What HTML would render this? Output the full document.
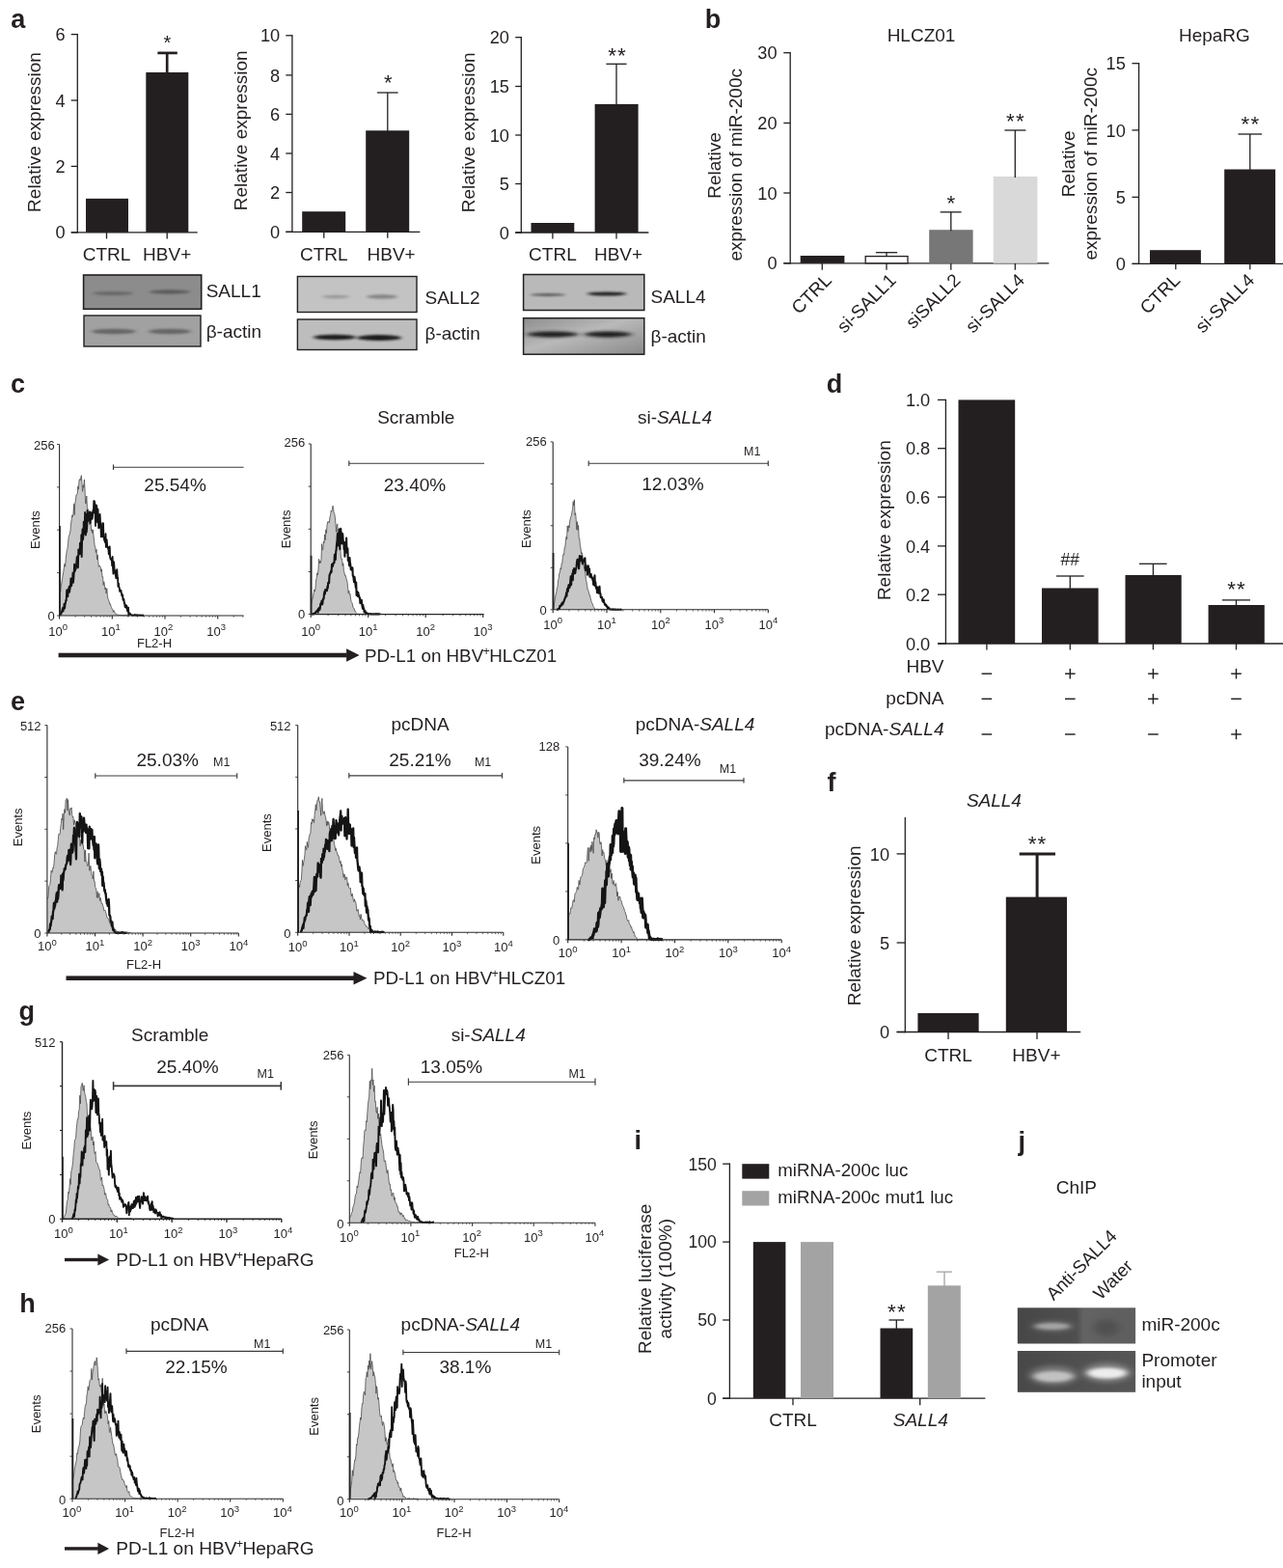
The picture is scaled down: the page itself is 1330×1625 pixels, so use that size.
<!DOCTYPE html>
<html lang="en">
<head>
<meta charset="utf-8">
<title>Figure</title>
<style>
html,body{margin:0;padding:0;background:#fff;}
svg{display:block;}
svg text{font-family:"Liberation Sans",sans-serif;fill:#231f20;}
</style>
</head>
<body>
<svg width="1330" height="1625" viewBox="0 0 1330 1625">
<rect x="0" y="0" width="1330" height="1625" fill="#ffffff"/>
<text x="11.3" y="28.6" font-size="27" font-weight="bold">a</text>
<line x1="80.3" y1="35.0" x2="80.3" y2="241.5" stroke="#231f20" stroke-width="1.3"/>
<line x1="73.7" y1="240.8" x2="204.7" y2="240.8" stroke="#231f20" stroke-width="1.3"/>
<line x1="73.7" y1="35.6" x2="80.3" y2="35.6" stroke="#231f20" stroke-width="1.3"/>
<text x="67.5" y="42.2" font-size="18.2" text-anchor="end">6</text>
<line x1="73.7" y1="104.0" x2="80.3" y2="104.0" stroke="#231f20" stroke-width="1.3"/>
<text x="67.5" y="110.6" font-size="18.2" text-anchor="end">4</text>
<line x1="73.7" y1="172.4" x2="80.3" y2="172.4" stroke="#231f20" stroke-width="1.3"/>
<text x="67.5" y="179.0" font-size="18.2" text-anchor="end">2</text>
<line x1="73.7" y1="240.8" x2="80.3" y2="240.8" stroke="#231f20" stroke-width="1.3"/>
<text x="67.5" y="247.4" font-size="18.2" text-anchor="end">0</text>
<line x1="110.5" y1="240.8" x2="110.5" y2="247.4" stroke="#231f20" stroke-width="1.3"/>
<line x1="173.2" y1="240.8" x2="173.2" y2="247.4" stroke="#231f20" stroke-width="1.3"/>
<rect x="89.0" y="205.8" width="44.0" height="35.0" fill="#231f20"/>
<rect x="151.3" y="75.0" width="44.0" height="165.8" fill="#231f20"/>
<line x1="173.2" y1="54.9" x2="173.2" y2="76.0" stroke="#231f20" stroke-width="2.7"/>
<line x1="163.4" y1="54.9" x2="183.8" y2="54.9" stroke="#231f20" stroke-width="2.7"/>
<text x="174.0" y="51.4" font-size="20" text-anchor="middle" letter-spacing="1.2">*</text>
<text x="110.5" y="269.7" font-size="19" text-anchor="middle">CTRL</text>
<text x="173.2" y="269.7" font-size="19" text-anchor="middle">HBV+</text>
<text x="42.0" y="137.0" font-size="19" text-anchor="middle" transform="rotate(-90 42.0 137.0)">Relative expression</text>
<line x1="302.9" y1="36.1" x2="302.9" y2="241.0" stroke="#231f20" stroke-width="1.3"/>
<line x1="296.3" y1="240.3" x2="435.3" y2="240.3" stroke="#231f20" stroke-width="1.3"/>
<line x1="296.3" y1="36.8" x2="302.9" y2="36.8" stroke="#231f20" stroke-width="1.3"/>
<text x="290.2" y="43.4" font-size="18.2" text-anchor="end">10</text>
<line x1="296.3" y1="77.9" x2="302.9" y2="77.9" stroke="#231f20" stroke-width="1.3"/>
<text x="290.2" y="84.5" font-size="18.2" text-anchor="end">8</text>
<line x1="296.3" y1="118.4" x2="302.9" y2="118.4" stroke="#231f20" stroke-width="1.3"/>
<text x="290.2" y="125.0" font-size="18.2" text-anchor="end">6</text>
<line x1="296.3" y1="159.0" x2="302.9" y2="159.0" stroke="#231f20" stroke-width="1.3"/>
<text x="290.2" y="165.6" font-size="18.2" text-anchor="end">4</text>
<line x1="296.3" y1="199.5" x2="302.9" y2="199.5" stroke="#231f20" stroke-width="1.3"/>
<text x="290.2" y="206.1" font-size="18.2" text-anchor="end">2</text>
<line x1="296.3" y1="240.3" x2="302.9" y2="240.3" stroke="#231f20" stroke-width="1.3"/>
<text x="290.2" y="246.9" font-size="18.2" text-anchor="end">0</text>
<line x1="335.8" y1="240.3" x2="335.8" y2="246.8" stroke="#231f20" stroke-width="1.3"/>
<line x1="401.8" y1="240.3" x2="401.8" y2="246.8" stroke="#231f20" stroke-width="1.3"/>
<rect x="313.2" y="219.2" width="45.0" height="21.1" fill="#231f20"/>
<rect x="379.2" y="135.3" width="45.0" height="105.0" fill="#231f20"/>
<line x1="401.8" y1="96.0" x2="401.8" y2="136.3" stroke="#231f20" stroke-width="1.3"/>
<line x1="391.0" y1="96.0" x2="412.6" y2="96.0" stroke="#231f20" stroke-width="1.3"/>
<text x="402.8" y="92.7" font-size="22" text-anchor="middle" letter-spacing="1.2">*</text>
<text x="335.8" y="269.7" font-size="19" text-anchor="middle">CTRL</text>
<text x="405.6" y="269.7" font-size="19" text-anchor="middle">HBV+</text>
<text x="255.9" y="135.3" font-size="19" text-anchor="middle" transform="rotate(-90 255.9 135.3)">Relative expression</text>
<line x1="540.3" y1="38.1" x2="540.3" y2="241.7" stroke="#231f20" stroke-width="1.3"/>
<line x1="534.2" y1="241.0" x2="672.4" y2="241.0" stroke="#231f20" stroke-width="1.3"/>
<line x1="534.2" y1="38.7" x2="540.3" y2="38.7" stroke="#231f20" stroke-width="1.3"/>
<text x="527.9" y="45.3" font-size="18.2" text-anchor="end">20</text>
<line x1="534.2" y1="89.5" x2="540.3" y2="89.5" stroke="#231f20" stroke-width="1.3"/>
<text x="527.9" y="96.1" font-size="18.2" text-anchor="end">15</text>
<line x1="534.2" y1="140.0" x2="540.3" y2="140.0" stroke="#231f20" stroke-width="1.3"/>
<text x="527.9" y="146.6" font-size="18.2" text-anchor="end">10</text>
<line x1="534.2" y1="190.5" x2="540.3" y2="190.5" stroke="#231f20" stroke-width="1.3"/>
<text x="527.9" y="197.1" font-size="18.2" text-anchor="end">5</text>
<line x1="534.2" y1="241.0" x2="540.3" y2="241.0" stroke="#231f20" stroke-width="1.3"/>
<text x="527.9" y="247.6" font-size="18.2" text-anchor="end">0</text>
<line x1="572.9" y1="241.0" x2="572.9" y2="247.4" stroke="#231f20" stroke-width="1.3"/>
<line x1="639.0" y1="241.0" x2="639.0" y2="247.4" stroke="#231f20" stroke-width="1.3"/>
<rect x="550.5" y="231.0" width="44.8" height="10.0" fill="#231f20"/>
<rect x="616.6" y="107.9" width="45.0" height="133.1" fill="#231f20"/>
<line x1="639.0" y1="66.3" x2="639.0" y2="108.9" stroke="#231f20" stroke-width="1.3"/>
<line x1="628.4" y1="66.3" x2="649.5" y2="66.3" stroke="#231f20" stroke-width="1.3"/>
<text x="640.1" y="65.3" font-size="22.5" text-anchor="middle" letter-spacing="1.2">**</text>
<text x="572.9" y="269.7" font-size="19" text-anchor="middle">CTRL</text>
<text x="641.0" y="269.7" font-size="19" text-anchor="middle">HBV+</text>
<text x="492.0" y="137.3" font-size="19" text-anchor="middle" transform="rotate(-90 492.0 137.3)">Relative expression</text>
<defs><filter id="b1" x="-20%" y="-200%" width="140%" height="500%"><feGaussianBlur stdDeviation="2.2 1.0"/></filter><filter id="b2" x="-20%" y="-200%" width="140%" height="500%"><feGaussianBlur stdDeviation="3 1.6"/></filter><filter id="b3" x="-20%" y="-200%" width="140%" height="500%"><feGaussianBlur stdDeviation="4 2.6"/></filter><linearGradient id="g36" x1="0" y1="0" x2="1" y2="1"><stop offset="0" stop-color="#8e8e8e"/><stop offset="0.45" stop-color="#b9b9b9"/><stop offset="1" stop-color="#8a8a8a"/></linearGradient><linearGradient id="gj1" x1="0" y1="0" x2="1" y2="0"><stop offset="0" stop-color="#474747"/><stop offset="0.5" stop-color="#4f4f4f"/><stop offset="0.56" stop-color="#636363"/><stop offset="1" stop-color="#5e5e5e"/></linearGradient><linearGradient id="gj2" x1="0" y1="0" x2="1" y2="0"><stop offset="0" stop-color="#484848"/><stop offset="0.5" stop-color="#505050"/><stop offset="1" stop-color="#565656"/></linearGradient></defs>
<rect x="86.6" y="285.0" width="122.1" height="35.3" fill="#8c8c8c" stroke="#231f20" stroke-width="1.6"/>
<ellipse cx="117.0" cy="304.0" rx="21.0" ry="2.0" fill="#686868" opacity="1.0" filter="url(#b1)"/>
<ellipse cx="176.0" cy="302.5" rx="21.0" ry="2.2" fill="#5c5c5c" opacity="1.0" filter="url(#b1)"/>
<rect x="87.0" y="327.0" width="121.0" height="32.0" fill="#a1a1a1" stroke="#231f20" stroke-width="1.4"/>
<ellipse cx="118.0" cy="343.5" rx="23.0" ry="2.8" fill="#666" opacity="1.0" filter="url(#b1)"/>
<ellipse cx="176.0" cy="343.5" rx="22.0" ry="2.8" fill="#666" opacity="1.0" filter="url(#b1)"/>
<text x="213.7" y="308.4" font-size="19">SALL1</text>
<text x="213.7" y="349.5" font-size="19">β-actin</text>
<rect x="308.4" y="286.5" width="123.6" height="37.0" fill="#c3c3c3" stroke="#231f20" stroke-width="1.4"/>
<ellipse cx="348.0" cy="307.5" rx="14.0" ry="1.8" fill="#999" opacity="1.0" filter="url(#b1)"/>
<ellipse cx="396.0" cy="307.5" rx="16.0" ry="2.2" fill="#858585" opacity="1.0" filter="url(#b1)"/>
<rect x="308.4" y="331.0" width="123.6" height="31.5" fill="#bdbdbd" stroke="#231f20" stroke-width="1.4"/>
<ellipse cx="347.0" cy="349.5" rx="22.0" ry="2.8" fill="#1a1a1a" opacity="1.0" filter="url(#b1)"/>
<ellipse cx="393.0" cy="350.0" rx="23.0" ry="3.0" fill="#1a1a1a" opacity="1.0" filter="url(#b1)"/>
<text x="440.5" y="315.0" font-size="19">SALL2</text>
<text x="440.5" y="352.0" font-size="19">β-actin</text>
<rect x="542.6" y="284.5" width="125.2" height="37.0" fill="#b9b9b9" stroke="#231f20" stroke-width="1.5"/>
<ellipse cx="568.0" cy="305.5" rx="18.0" ry="1.5" fill="#5a5a5a" opacity="1.0" filter="url(#b1)"/>
<ellipse cx="629.0" cy="304.5" rx="20.0" ry="2.0" fill="#222" opacity="1.0" filter="url(#b1)"/>
<rect x="542.6" y="329.7" width="125.2" height="37.5" fill="url(#g36)" stroke="#231f20" stroke-width="1.5"/>
<ellipse cx="573.0" cy="346.5" rx="27.0" ry="2.9" fill="#1c1c1c" opacity="1.0" filter="url(#b2)"/>
<ellipse cx="630.0" cy="346.5" rx="25.0" ry="2.9" fill="#1c1c1c" opacity="1.0" filter="url(#b2)"/>
<text x="674.5" y="314.0" font-size="19">SALL4</text>
<text x="674.5" y="354.7" font-size="19">β-actin</text>
<text x="730.7" y="28.8" font-size="27" font-weight="bold">b</text>
<text x="955.0" y="42.8" font-size="19" text-anchor="middle">HLCZ01</text>
<line x1="819.2" y1="54.1" x2="819.2" y2="273.4" stroke="#231f20" stroke-width="1.3"/>
<line x1="812.3" y1="272.8" x2="1087.4" y2="272.8" stroke="#231f20" stroke-width="1.3"/>
<line x1="812.3" y1="54.7" x2="819.2" y2="54.7" stroke="#231f20" stroke-width="1.3"/>
<text x="805.6" y="61.3" font-size="18.2" text-anchor="end">30</text>
<line x1="812.3" y1="127.5" x2="819.2" y2="127.5" stroke="#231f20" stroke-width="1.3"/>
<text x="805.6" y="134.1" font-size="18.2" text-anchor="end">20</text>
<line x1="812.3" y1="200.0" x2="819.2" y2="200.0" stroke="#231f20" stroke-width="1.3"/>
<text x="805.6" y="206.6" font-size="18.2" text-anchor="end">10</text>
<line x1="812.3" y1="272.8" x2="819.2" y2="272.8" stroke="#231f20" stroke-width="1.3"/>
<text x="805.6" y="279.4" font-size="18.2" text-anchor="end">0</text>
<line x1="852.3" y1="272.8" x2="852.3" y2="279.7" stroke="#231f20" stroke-width="1.3"/>
<line x1="919.0" y1="272.8" x2="919.0" y2="279.7" stroke="#231f20" stroke-width="1.3"/>
<line x1="985.8" y1="272.8" x2="985.8" y2="279.7" stroke="#231f20" stroke-width="1.3"/>
<line x1="1052.3" y1="272.8" x2="1052.3" y2="279.7" stroke="#231f20" stroke-width="1.3"/>
<rect x="829.7" y="265.0" width="45.7" height="7.8" fill="#231f20"/>
<rect x="897.2" y="265.6" width="43.8" height="7.2" fill="#fff" stroke="#231f20" stroke-width="1.3"/>
<line x1="919.0" y1="261.7" x2="919.0" y2="266.0" stroke="#231f20" stroke-width="1.3"/>
<line x1="907.9" y1="261.7" x2="930.2" y2="261.7" stroke="#231f20" stroke-width="1.3"/>
<rect x="963.2" y="238.2" width="45.4" height="34.6" fill="#777"/>
<line x1="985.8" y1="219.8" x2="985.8" y2="239.2" stroke="#231f20" stroke-width="1.3"/>
<line x1="974.7" y1="219.8" x2="996.6" y2="219.8" stroke="#231f20" stroke-width="1.3"/>
<rect x="1029.7" y="182.9" width="45.7" height="89.9" fill="#d9d9d9"/>
<line x1="1052.3" y1="135.0" x2="1052.3" y2="183.9" stroke="#231f20" stroke-width="1.3"/>
<line x1="1041.4" y1="135.0" x2="1063.4" y2="135.0" stroke="#231f20" stroke-width="1.3"/>
<text x="986.4" y="218.4" font-size="22.5" text-anchor="middle" letter-spacing="1.2">*</text>
<text x="1052.9" y="133.4" font-size="22.5" text-anchor="middle" letter-spacing="1.2">**</text>
<text x="746.7" y="171.4" font-size="19" text-anchor="middle" transform="rotate(-90 746.7 171.4)">Relative</text>
<text x="768.6" y="170.8" font-size="19" text-anchor="middle" transform="rotate(-90 768.6 170.8)">expression of miR-200c</text>
<text x="863.3" y="291.5" font-size="19" text-anchor="end" transform="rotate(-45 863.3 291.5)">CTRL</text>
<text x="930.0" y="291.5" font-size="19" text-anchor="end" transform="rotate(-45 930.0 291.5)">si-SALL1</text>
<text x="996.8" y="291.5" font-size="19" text-anchor="end" transform="rotate(-45 996.8 291.5)">siSALL2</text>
<text x="1063.3" y="291.5" font-size="19" text-anchor="end" transform="rotate(-45 1063.3 291.5)">si-SALL4</text>
<text x="1258.9" y="43.0" font-size="19" text-anchor="middle">HepaRG</text>
<line x1="1180.6" y1="65.0" x2="1180.6" y2="274.0" stroke="#231f20" stroke-width="1.3"/>
<line x1="1173.5" y1="273.4" x2="1330.0" y2="273.4" stroke="#231f20" stroke-width="1.3"/>
<line x1="1173.5" y1="65.7" x2="1180.6" y2="65.7" stroke="#231f20" stroke-width="1.3"/>
<text x="1166.8" y="72.3" font-size="18.2" text-anchor="end">15</text>
<line x1="1173.5" y1="134.9" x2="1180.6" y2="134.9" stroke="#231f20" stroke-width="1.3"/>
<text x="1166.8" y="141.5" font-size="18.2" text-anchor="end">10</text>
<line x1="1173.5" y1="204.3" x2="1180.6" y2="204.3" stroke="#231f20" stroke-width="1.3"/>
<text x="1166.8" y="210.9" font-size="18.2" text-anchor="end">5</text>
<line x1="1173.5" y1="273.4" x2="1180.6" y2="273.4" stroke="#231f20" stroke-width="1.3"/>
<text x="1166.8" y="280.0" font-size="18.2" text-anchor="end">0</text>
<line x1="1218.8" y1="273.4" x2="1218.8" y2="279.3" stroke="#231f20" stroke-width="1.3"/>
<line x1="1295.8" y1="273.4" x2="1295.8" y2="279.3" stroke="#231f20" stroke-width="1.3"/>
<rect x="1192.0" y="259.2" width="52.9" height="14.2" fill="#231f20"/>
<rect x="1269.2" y="175.5" width="52.9" height="97.9" fill="#231f20"/>
<line x1="1295.8" y1="139.0" x2="1295.8" y2="176.5" stroke="#231f20" stroke-width="1.3"/>
<line x1="1283.5" y1="139.0" x2="1308.1" y2="139.0" stroke="#231f20" stroke-width="1.3"/>
<text x="1296.4" y="136.4" font-size="22.5" text-anchor="middle" letter-spacing="1.2">**</text>
<text x="1113.8" y="169.8" font-size="19" text-anchor="middle" transform="rotate(-90 1113.8 169.8)">Relative</text>
<text x="1137.3" y="169.8" font-size="19" text-anchor="middle" transform="rotate(-90 1137.3 169.8)">expression of miR-200c</text>
<text x="1224.6" y="291.5" font-size="19" text-anchor="end" transform="rotate(-45 1224.6 291.5)">CTRL</text>
<text x="1301.6" y="291.5" font-size="19" text-anchor="end" transform="rotate(-45 1301.6 291.5)">si-SALL4</text>
<text x="856.8" y="406.8" font-size="27" font-weight="bold">d</text>
<line x1="980.4" y1="413.8" x2="980.4" y2="667.6" stroke="#231f20" stroke-width="1.3"/>
<line x1="972.0" y1="667.0" x2="1330.0" y2="667.0" stroke="#231f20" stroke-width="1.3"/>
<line x1="972.0" y1="414.4" x2="980.4" y2="414.4" stroke="#231f20" stroke-width="1.3"/>
<text x="964.2" y="421.0" font-size="18.2" text-anchor="end">1.0</text>
<line x1="972.0" y1="464.7" x2="980.4" y2="464.7" stroke="#231f20" stroke-width="1.3"/>
<text x="964.2" y="471.3" font-size="18.2" text-anchor="end">0.8</text>
<line x1="972.0" y1="515.1" x2="980.4" y2="515.1" stroke="#231f20" stroke-width="1.3"/>
<text x="964.2" y="521.7" font-size="18.2" text-anchor="end">0.6</text>
<line x1="972.0" y1="565.9" x2="980.4" y2="565.9" stroke="#231f20" stroke-width="1.3"/>
<text x="964.2" y="572.5" font-size="18.2" text-anchor="end">0.4</text>
<line x1="972.0" y1="616.2" x2="980.4" y2="616.2" stroke="#231f20" stroke-width="1.3"/>
<text x="964.2" y="622.8" font-size="18.2" text-anchor="end">0.2</text>
<line x1="972.0" y1="667.0" x2="980.4" y2="667.0" stroke="#231f20" stroke-width="1.3"/>
<text x="964.2" y="673.6" font-size="18.2" text-anchor="end">0.0</text>
<line x1="1022.9" y1="667.0" x2="1022.9" y2="673.4" stroke="#231f20" stroke-width="1.3"/>
<line x1="1109.3" y1="667.0" x2="1109.3" y2="673.4" stroke="#231f20" stroke-width="1.3"/>
<line x1="1195.4" y1="667.0" x2="1195.4" y2="673.4" stroke="#231f20" stroke-width="1.3"/>
<line x1="1281.5" y1="667.0" x2="1281.5" y2="673.4" stroke="#231f20" stroke-width="1.3"/>
<rect x="993.5" y="414.4" width="58.7" height="252.6" fill="#231f20"/>
<rect x="1080.0" y="609.5" width="58.6" height="57.5" fill="#231f20"/>
<line x1="1109.3" y1="597.0" x2="1109.3" y2="610.5" stroke="#231f20" stroke-width="1.3"/>
<line x1="1095.0" y1="597.0" x2="1123.6" y2="597.0" stroke="#231f20" stroke-width="1.3"/>
<rect x="1166.5" y="596.0" width="58.2" height="71.0" fill="#231f20"/>
<line x1="1195.4" y1="584.3" x2="1195.4" y2="597.0" stroke="#231f20" stroke-width="1.3"/>
<line x1="1181.0" y1="584.3" x2="1209.6" y2="584.3" stroke="#231f20" stroke-width="1.3"/>
<rect x="1252.6" y="627.0" width="58.2" height="40.0" fill="#231f20"/>
<line x1="1281.5" y1="621.9" x2="1281.5" y2="628.0" stroke="#231f20" stroke-width="1.3"/>
<line x1="1267.0" y1="621.9" x2="1296.0" y2="621.9" stroke="#231f20" stroke-width="1.3"/>
<text x="1109.3" y="586.0" font-size="17.5" text-anchor="middle">##</text>
<text x="1282.1" y="618.0" font-size="22.5" text-anchor="middle" letter-spacing="1.2">**</text>
<text x="923.0" y="539.2" font-size="19" text-anchor="middle" transform="rotate(-90 923.0 539.2)">Relative expression</text>
<text x="978.5" y="697.0" font-size="19" text-anchor="end">HBV</text>
<text x="978.5" y="729.8" font-size="19" text-anchor="end">pcDNA</text>
<text x="978.5" y="761.7" font-size="19" text-anchor="end">pcDNA-<tspan font-style="italic">SALL4</tspan></text>
<line x1="1017.6" y1="698.2" x2="1028.2" y2="698.2" stroke="#231f20" stroke-width="1.45"/>
<line x1="1104.0" y1="698.2" x2="1114.6" y2="698.2" stroke="#231f20" stroke-width="1.45"/>
<line x1="1109.3" y1="692.9" x2="1109.3" y2="703.5" stroke="#231f20" stroke-width="1.45"/>
<line x1="1190.1" y1="698.2" x2="1200.7" y2="698.2" stroke="#231f20" stroke-width="1.45"/>
<line x1="1195.4" y1="692.9" x2="1195.4" y2="703.5" stroke="#231f20" stroke-width="1.45"/>
<line x1="1276.2" y1="698.2" x2="1286.8" y2="698.2" stroke="#231f20" stroke-width="1.45"/>
<line x1="1281.5" y1="692.9" x2="1281.5" y2="703.5" stroke="#231f20" stroke-width="1.45"/>
<line x1="1017.6" y1="724.3" x2="1028.2" y2="724.3" stroke="#231f20" stroke-width="1.45"/>
<line x1="1104.0" y1="724.3" x2="1114.6" y2="724.3" stroke="#231f20" stroke-width="1.45"/>
<line x1="1190.1" y1="724.3" x2="1200.7" y2="724.3" stroke="#231f20" stroke-width="1.45"/>
<line x1="1195.4" y1="719.0" x2="1195.4" y2="729.6" stroke="#231f20" stroke-width="1.45"/>
<line x1="1276.2" y1="724.3" x2="1286.8" y2="724.3" stroke="#231f20" stroke-width="1.45"/>
<line x1="1017.6" y1="761.0" x2="1028.2" y2="761.0" stroke="#231f20" stroke-width="1.45"/>
<line x1="1104.0" y1="761.0" x2="1114.6" y2="761.0" stroke="#231f20" stroke-width="1.45"/>
<line x1="1190.1" y1="761.0" x2="1200.7" y2="761.0" stroke="#231f20" stroke-width="1.45"/>
<line x1="1276.2" y1="761.0" x2="1286.8" y2="761.0" stroke="#231f20" stroke-width="1.45"/>
<line x1="1281.5" y1="755.7" x2="1281.5" y2="766.3" stroke="#231f20" stroke-width="1.45"/>
<text x="857.5" y="819.5" font-size="27" font-weight="bold">f</text>
<text x="1030.4" y="836.4" font-size="19" text-anchor="middle" font-style="italic">SALL4</text>
<line x1="938.3" y1="847.1" x2="938.3" y2="1070.2" stroke="#231f20" stroke-width="1.3"/>
<line x1="929.6" y1="1069.5" x2="1120.2" y2="1069.5" stroke="#231f20" stroke-width="1.3"/>
<line x1="929.6" y1="884.9" x2="938.3" y2="884.9" stroke="#231f20" stroke-width="1.3"/>
<text x="922.1" y="891.5" font-size="18.2" text-anchor="end">10</text>
<line x1="929.6" y1="977.0" x2="938.3" y2="977.0" stroke="#231f20" stroke-width="1.3"/>
<text x="922.1" y="983.6" font-size="18.2" text-anchor="end">5</text>
<line x1="929.6" y1="1069.5" x2="938.3" y2="1069.5" stroke="#231f20" stroke-width="1.3"/>
<text x="922.1" y="1076.1" font-size="18.2" text-anchor="end">0</text>
<line x1="983.0" y1="1069.5" x2="983.0" y2="1077.0" stroke="#231f20" stroke-width="1.3"/>
<line x1="1075.0" y1="1069.5" x2="1075.0" y2="1077.0" stroke="#231f20" stroke-width="1.3"/>
<rect x="951.4" y="1050.0" width="63.2" height="19.5" fill="#231f20"/>
<rect x="1042.8" y="929.6" width="63.2" height="139.9" fill="#231f20"/>
<line x1="1075.1" y1="884.9" x2="1075.1" y2="930.6" stroke="#231f20" stroke-width="3.0"/>
<line x1="1056.7" y1="884.9" x2="1094.0" y2="884.9" stroke="#231f20" stroke-width="3.0"/>
<text x="1075.6" y="882.4" font-size="22.5" text-anchor="middle" letter-spacing="1.2">**</text>
<text x="983.0" y="1099.5" font-size="19" text-anchor="middle">CTRL</text>
<text x="1074.4" y="1099.5" font-size="19" text-anchor="middle">HBV+</text>
<text x="892.0" y="959.3" font-size="19" text-anchor="middle" transform="rotate(-90 892.0 959.3)">Relative expression</text>
<text x="657.6" y="1190.6" font-size="27" font-weight="bold">i</text>
<line x1="756.4" y1="1205.5" x2="756.4" y2="1449.9" stroke="#231f20" stroke-width="1.3"/>
<line x1="749.2" y1="1449.2" x2="1021.4" y2="1449.2" stroke="#231f20" stroke-width="1.3"/>
<line x1="749.2" y1="1206.2" x2="756.4" y2="1206.2" stroke="#231f20" stroke-width="1.3"/>
<text x="742.9" y="1212.5" font-size="17.6" text-anchor="end">150</text>
<line x1="749.2" y1="1287.1" x2="756.4" y2="1287.1" stroke="#231f20" stroke-width="1.3"/>
<text x="742.9" y="1293.4" font-size="17.6" text-anchor="end">100</text>
<line x1="749.2" y1="1368.0" x2="756.4" y2="1368.0" stroke="#231f20" stroke-width="1.3"/>
<text x="742.9" y="1374.3" font-size="17.6" text-anchor="end">50</text>
<line x1="749.2" y1="1449.2" x2="756.4" y2="1449.2" stroke="#231f20" stroke-width="1.3"/>
<text x="742.9" y="1455.5" font-size="17.6" text-anchor="end">0</text>
<line x1="822.0" y1="1449.2" x2="822.0" y2="1456.2" stroke="#231f20" stroke-width="1.3"/>
<line x1="953.7" y1="1449.2" x2="953.7" y2="1456.2" stroke="#231f20" stroke-width="1.3"/>
<rect x="780.8" y="1287.1" width="33.6" height="162.1" fill="#231f20"/>
<rect x="830.0" y="1287.1" width="34.0" height="162.1" fill="#a3a3a3"/>
<rect x="912.5" y="1376.5" width="33.7" height="72.7" fill="#231f20"/>
<line x1="929.3" y1="1368.0" x2="929.3" y2="1377.5" stroke="#231f20" stroke-width="1.3"/>
<line x1="921.5" y1="1368.0" x2="937.1" y2="1368.0" stroke="#231f20" stroke-width="1.3"/>
<rect x="961.8" y="1332.3" width="34.0" height="116.9" fill="#a3a3a3"/>
<line x1="979.0" y1="1318.1" x2="979.0" y2="1333.3" stroke="#a3a3a3" stroke-width="1.3"/>
<line x1="970.8" y1="1318.1" x2="986.8" y2="1318.1" stroke="#a3a3a3" stroke-width="1.3"/>
<text x="929.9" y="1366.9" font-size="22.5" text-anchor="middle" letter-spacing="1.2">**</text>
<text x="822.0" y="1477.8" font-size="19" text-anchor="middle">CTRL</text>
<text x="954.3" y="1477.8" font-size="19" text-anchor="middle" font-style="italic">SALL4</text>
<rect x="769.3" y="1206.2" width="28.0" height="15.4" fill="#231f20"/>
<rect x="769.3" y="1234.2" width="28.0" height="15.3" fill="#a3a3a3"/>
<text x="806.3" y="1218.6" font-size="18.7">miRNA-200c luc</text>
<text x="806.3" y="1246.8" font-size="18.7">miRNA-200c mut1 luc</text>
<text x="674.6" y="1325.3" font-size="19" text-anchor="middle" transform="rotate(-90 674.6 1325.3)">Relative luciferase</text>
<text x="696.2" y="1325.3" font-size="19" text-anchor="middle" transform="rotate(-90 696.2 1325.3)">activity (100%)</text>
<text x="1055.5" y="1191.7" font-size="27" font-weight="bold">j</text>
<text x="1094.7" y="1236.8" font-size="19">ChIP</text>
<text x="1092.3" y="1348.6" font-size="18.6" transform="rotate(-45 1092.3 1348.6)">Anti-SALL4</text>
<text x="1140.9" y="1348.0" font-size="18.6" transform="rotate(-45 1140.9 1348.0)">Water</text>
<rect x="1054.8" y="1355.3" width="122.3" height="37.2" fill="url(#gj1)"/>
<ellipse cx="1147.0" cy="1376.0" rx="13.0" ry="9.0" fill="#505050" opacity="0.9" filter="url(#b3)"/>
<ellipse cx="1091.0" cy="1374.5" rx="22.0" ry="6.0" fill="#6a6a6a" opacity="0.8" filter="url(#b3)"/>
<ellipse cx="1091.0" cy="1374.5" rx="18.0" ry="3.4" fill="#acacac" opacity="0.9" filter="url(#b2)"/>
<rect x="1054.8" y="1400.0" width="122.3" height="42.8" fill="url(#gj2)"/>
<ellipse cx="1092.0" cy="1425.5" rx="25.0" ry="10.0" fill="#808080" opacity="0.9" filter="url(#b3)"/>
<ellipse cx="1147.5" cy="1422.5" rx="25.0" ry="10.0" fill="#8a8a8a" opacity="0.9" filter="url(#b3)"/>
<ellipse cx="1092.0" cy="1426.5" rx="20.0" ry="5.5" fill="#c6c6c6" opacity="0.95" filter="url(#b2)"/>
<ellipse cx="1147.5" cy="1423.0" rx="20.0" ry="5.5" fill="#ededed" opacity="1" filter="url(#b2)"/>
<text x="1183.4" y="1379.0" font-size="19">miR-200c</text>
<text x="1183.4" y="1415.7" font-size="19">Promoter</text>
<text x="1183.4" y="1438.3" font-size="19">input</text>
<text x="11.0" y="406.8" font-size="27" font-weight="bold">c</text>
<path d="M61.6 616.0 L62.2 611.9 L62.8 612.8 L63.4 607.0 L64.0 603.0 L64.6 599.4 L65.2 596.0 L65.8 592.4 L66.4 587.7 L67.0 584.3 L67.6 587.3 L68.2 579.1 L68.8 574.3 L69.4 569.6 L70.0 568.5 L70.6 562.5 L71.2 556.4 L71.8 554.6 L72.4 553.0 L73.0 549.8 L73.6 542.2 L74.2 538.7 L74.8 533.9 L75.4 535.5 L76.0 532.2 L76.6 522.3 L77.2 533.6 L77.8 520.7 L78.4 519.3 L79.0 512.8 L79.6 512.7 L80.2 511.5 L80.8 504.0 L81.4 507.1 L82.0 498.1 L82.6 496.6 L83.2 498.0 L83.8 494.9 L84.4 492.7 L85.0 501.3 L85.6 509.3 L86.2 502.6 L86.8 505.3 L87.4 497.0 L88.0 507.1 L88.6 521.5 L89.2 522.1 L89.8 514.0 L90.4 525.7 L91.0 527.6 L91.6 531.8 L92.2 530.2 L92.8 543.7 L93.4 540.3 L94.0 538.2 L94.6 550.1 L95.2 548.7 L95.8 552.6 L96.4 549.0 L97.0 555.2 L97.6 560.8 L98.2 565.8 L98.8 567.2 L99.4 572.5 L100.0 569.3 L100.6 579.8 L101.2 575.0 L101.8 582.4 L102.4 587.4 L103.0 586.4 L103.6 586.4 L104.2 587.8 L104.8 592.4 L105.4 589.8 L106.0 597.9 L106.6 597.7 L107.2 606.5 L107.8 602.8 L108.4 606.4 L109.0 611.0 L109.6 609.0 L110.2 615.0 L110.8 609.8 L111.4 617.6 L112.0 620.5 L112.6 621.8 L113.2 623.6 L113.8 626.2 L114.4 625.8 L115.0 628.2 L115.6 629.6 L116.2 631.2 L116.8 631.6 L117.4 634.1 L118.0 632.6 L118.6 634.9 L119.2 634.9 L119.8 635.6 L120.4 636.8 L121.0 637.2 L121.6 637.0 L122.2 637.4 L122.8 636.9 L123.4 637.5 L124.0 637.7 L124.6 637.0 L125.2 637.3 L125.8 637.7 L126.4 637.5 L127.0 637.8 L127.6 637.8 L128.2 637.7 L128.8 637.8 L129.4 637.8 L130.0 637.7 L130.6 637.1 L131.2 637.6 L131.8 637.5 L132.4 637.9 L133.0 637.8 L133.6 637.7 L133.6 638.0 L61.6 638.0 Z" fill="#c6c6c6" stroke="none"/>
<path d="M61.6 616.0 L62.2 611.9 L62.8 612.8 L63.4 607.0 L64.0 603.0 L64.6 599.4 L65.2 596.0 L65.8 592.4 L66.4 587.7 L67.0 584.3 L67.6 587.3 L68.2 579.1 L68.8 574.3 L69.4 569.6 L70.0 568.5 L70.6 562.5 L71.2 556.4 L71.8 554.6 L72.4 553.0 L73.0 549.8 L73.6 542.2 L74.2 538.7 L74.8 533.9 L75.4 535.5 L76.0 532.2 L76.6 522.3 L77.2 533.6 L77.8 520.7 L78.4 519.3 L79.0 512.8 L79.6 512.7 L80.2 511.5 L80.8 504.0 L81.4 507.1 L82.0 498.1 L82.6 496.6 L83.2 498.0 L83.8 494.9 L84.4 492.7 L85.0 501.3 L85.6 509.3 L86.2 502.6 L86.8 505.3 L87.4 497.0 L88.0 507.1 L88.6 521.5 L89.2 522.1 L89.8 514.0 L90.4 525.7 L91.0 527.6 L91.6 531.8 L92.2 530.2 L92.8 543.7 L93.4 540.3 L94.0 538.2 L94.6 550.1 L95.2 548.7 L95.8 552.6 L96.4 549.0 L97.0 555.2 L97.6 560.8 L98.2 565.8 L98.8 567.2 L99.4 572.5 L100.0 569.3 L100.6 579.8 L101.2 575.0 L101.8 582.4 L102.4 587.4 L103.0 586.4 L103.6 586.4 L104.2 587.8 L104.8 592.4 L105.4 589.8 L106.0 597.9 L106.6 597.7 L107.2 606.5 L107.8 602.8 L108.4 606.4 L109.0 611.0 L109.6 609.0 L110.2 615.0 L110.8 609.8 L111.4 617.6 L112.0 620.5 L112.6 621.8 L113.2 623.6 L113.8 626.2 L114.4 625.8 L115.0 628.2 L115.6 629.6 L116.2 631.2 L116.8 631.6 L117.4 634.1 L118.0 632.6 L118.6 634.9 L119.2 634.9 L119.8 635.6 L120.4 636.8 L121.0 637.2 L121.6 637.0 L122.2 637.4 L122.8 636.9 L123.4 637.5 L124.0 637.7 L124.6 637.0 L125.2 637.3 L125.8 637.7 L126.4 637.5 L127.0 637.8 L127.6 637.8 L128.2 637.7 L128.8 637.8 L129.4 637.8 L130.0 637.7 L130.6 637.1 L131.2 637.6 L131.8 637.5 L132.4 637.9 L133.0 637.8 L133.6 637.7" fill="none" stroke="#4a4a4a" stroke-width="0.8" stroke-linejoin="round"/>
<path d="M61.6 637.0 L62.0 636.7 L62.4 636.5 L62.9 635.8 L63.3 636.6 L63.7 634.0 L64.1 634.4 L64.5 632.0 L65.0 630.0 L65.4 633.5 L65.8 631.9 L66.2 629.3 L66.6 625.7 L67.1 630.5 L67.5 626.4 L67.9 625.4 L68.3 621.9 L68.7 622.6 L69.2 611.5 L69.6 616.0 L70.0 616.4 L70.4 618.3 L70.8 610.5 L71.3 610.2 L71.7 607.6 L72.1 613.7 L72.5 610.2 L72.9 609.0 L73.4 599.5 L73.8 606.8 L74.2 607.1 L74.6 602.8 L75.0 602.5 L75.5 593.6 L75.9 603.8 L76.3 600.0 L76.7 594.1 L77.1 584.7 L77.6 592.1 L78.0 590.8 L78.4 589.9 L78.8 589.3 L79.2 583.7 L79.7 577.3 L80.1 585.6 L80.5 576.1 L80.9 588.4 L81.3 569.4 L81.8 572.3 L82.2 574.6 L82.6 573.8 L83.0 562.6 L83.4 570.2 L83.9 573.9 L84.3 554.5 L84.7 577.1 L85.1 560.1 L85.5 548.5 L86.0 559.3 L86.4 555.3 L86.8 540.7 L87.2 549.8 L87.6 553.4 L88.1 531.0 L88.5 544.7 L88.9 554.5 L89.3 533.0 L89.7 551.6 L90.2 546.5 L90.6 528.7 L91.0 537.8 L91.4 540.0 L91.8 534.4 L92.3 533.4 L92.7 531.6 L93.1 530.3 L93.5 542.0 L93.9 539.0 L94.4 535.5 L94.8 531.2 L95.2 533.3 L95.6 537.9 L96.0 534.1 L96.5 528.6 L96.9 531.5 L97.3 519.2 L97.7 519.1 L98.1 520.3 L98.6 526.6 L99.0 544.9 L99.4 531.9 L99.8 523.4 L100.2 524.4 L100.7 531.8 L101.1 541.3 L101.5 527.7 L101.9 538.3 L102.3 547.2 L102.8 546.9 L103.2 545.2 L103.6 533.0 L104.0 541.1 L104.4 542.4 L104.9 556.4 L105.3 552.8 L105.7 546.7 L106.1 556.1 L106.5 542.2 L107.0 542.4 L107.4 556.5 L107.8 557.4 L108.2 559.9 L108.6 560.5 L109.1 562.2 L109.5 553.2 L109.9 566.9 L110.3 563.5 L110.7 559.5 L111.2 566.9 L111.6 566.5 L112.0 568.6 L112.4 568.4 L112.8 574.2 L113.3 569.5 L113.7 566.5 L114.1 577.2 L114.5 578.9 L114.9 579.8 L115.4 579.7 L115.8 579.3 L116.2 586.1 L116.6 577.0 L117.0 587.4 L117.5 594.6 L117.9 582.1 L118.3 585.1 L118.7 593.1 L119.1 590.9 L119.6 594.3 L120.0 597.1 L120.4 599.4 L120.8 595.8 L121.2 590.3 L121.7 597.7 L122.1 598.9 L122.5 607.9 L122.9 604.7 L123.3 608.2 L123.8 609.3 L124.2 612.9 L124.6 612.5 L125.0 612.1 L125.4 611.8 L125.9 614.9 L126.3 617.1 L126.7 617.8 L127.1 616.4 L127.5 621.7 L128.0 620.6 L128.4 620.9 L128.8 625.3 L129.2 624.6 L129.6 629.0 L130.1 626.9 L130.5 629.7 L130.9 627.5 L131.3 627.6 L131.7 630.5 L132.2 633.5 L132.6 631.7 L133.0 629.6 L133.4 637.6 L133.8 635.2 L134.3 636.0 L134.7 635.5 L135.1 636.5 L135.5 636.9 L135.9 636.9 L136.4 637.3 L136.8 637.7 L137.2 637.5 L137.6 637.5 L138.0 637.8 L138.5 637.7 L138.9 637.6 L139.3 637.3 L139.7 636.9 L140.1 637.3 L140.6 637.5 L141.0 637.9 L141.4 637.8 L141.8 637.2 L142.2 637.6 L142.7 637.5 L143.1 637.5 L143.5 637.7 L143.9 637.5 L144.3 637.4 L144.8 637.8 L145.2 637.6 L145.6 637.5 L146.0 637.5 L146.4 637.6 L146.9 637.7 L147.3 637.8 L147.7 637.7 L148.1 637.4 L148.5 637.9 L149.0 637.7" fill="none" stroke="#141414" stroke-width="1.9" stroke-linejoin="round"/>
<line x1="61.6" y1="460.5" x2="61.6" y2="638.0" stroke="#282828" stroke-width="1.1"/>
<line x1="61.6" y1="638.0" x2="252.6" y2="638.0" stroke="#282828" stroke-width="1.1"/>
<line x1="62.0" y1="545.0" x2="62.0" y2="638.0" stroke="#222" stroke-width="1.8"/>
<line x1="59.1" y1="460.5" x2="61.6" y2="460.5" stroke="#282828" stroke-width="0.8800000000000001"/>
<line x1="59.1" y1="504.9" x2="61.6" y2="504.9" stroke="#282828" stroke-width="0.8800000000000001"/>
<line x1="59.1" y1="549.2" x2="61.6" y2="549.2" stroke="#282828" stroke-width="0.8800000000000001"/>
<line x1="59.1" y1="593.6" x2="61.6" y2="593.6" stroke="#282828" stroke-width="0.8800000000000001"/>
<line x1="59.1" y1="638.0" x2="61.6" y2="638.0" stroke="#282828" stroke-width="0.8800000000000001"/>
<line x1="61.6" y1="638.0" x2="61.6" y2="641.4" stroke="#282828" stroke-width="1.1"/>
<text x="60.1" y="658.8" font-size="13" text-anchor="middle">10<tspan font-size="9.5" dy="-5.4">0</tspan></text>
<line x1="78.1" y1="638.0" x2="78.1" y2="639.8" stroke="#282828" stroke-width="0.66"/>
<line x1="87.7" y1="638.0" x2="87.7" y2="639.8" stroke="#282828" stroke-width="0.66"/>
<line x1="94.5" y1="638.0" x2="94.5" y2="639.8" stroke="#282828" stroke-width="0.66"/>
<line x1="99.8" y1="638.0" x2="99.8" y2="639.8" stroke="#282828" stroke-width="0.66"/>
<line x1="104.2" y1="638.0" x2="104.2" y2="639.8" stroke="#282828" stroke-width="0.66"/>
<line x1="107.8" y1="638.0" x2="107.8" y2="639.8" stroke="#282828" stroke-width="0.66"/>
<line x1="111.0" y1="638.0" x2="111.0" y2="639.8" stroke="#282828" stroke-width="0.66"/>
<line x1="113.8" y1="638.0" x2="113.8" y2="639.8" stroke="#282828" stroke-width="0.66"/>
<line x1="116.3" y1="638.0" x2="116.3" y2="641.4" stroke="#282828" stroke-width="1.1"/>
<text x="114.8" y="658.8" font-size="13" text-anchor="middle">10<tspan font-size="9.5" dy="-5.4">1</tspan></text>
<line x1="132.8" y1="638.0" x2="132.8" y2="639.8" stroke="#282828" stroke-width="0.66"/>
<line x1="142.4" y1="638.0" x2="142.4" y2="639.8" stroke="#282828" stroke-width="0.66"/>
<line x1="149.2" y1="638.0" x2="149.2" y2="639.8" stroke="#282828" stroke-width="0.66"/>
<line x1="154.5" y1="638.0" x2="154.5" y2="639.8" stroke="#282828" stroke-width="0.66"/>
<line x1="158.9" y1="638.0" x2="158.9" y2="639.8" stroke="#282828" stroke-width="0.66"/>
<line x1="162.5" y1="638.0" x2="162.5" y2="639.8" stroke="#282828" stroke-width="0.66"/>
<line x1="165.7" y1="638.0" x2="165.7" y2="639.8" stroke="#282828" stroke-width="0.66"/>
<line x1="168.5" y1="638.0" x2="168.5" y2="639.8" stroke="#282828" stroke-width="0.66"/>
<line x1="171.0" y1="638.0" x2="171.0" y2="641.4" stroke="#282828" stroke-width="1.1"/>
<text x="169.5" y="658.8" font-size="13" text-anchor="middle">10<tspan font-size="9.5" dy="-5.4">2</tspan></text>
<line x1="187.5" y1="638.0" x2="187.5" y2="639.8" stroke="#282828" stroke-width="0.66"/>
<line x1="197.1" y1="638.0" x2="197.1" y2="639.8" stroke="#282828" stroke-width="0.66"/>
<line x1="203.9" y1="638.0" x2="203.9" y2="639.8" stroke="#282828" stroke-width="0.66"/>
<line x1="209.2" y1="638.0" x2="209.2" y2="639.8" stroke="#282828" stroke-width="0.66"/>
<line x1="213.6" y1="638.0" x2="213.6" y2="639.8" stroke="#282828" stroke-width="0.66"/>
<line x1="217.2" y1="638.0" x2="217.2" y2="639.8" stroke="#282828" stroke-width="0.66"/>
<line x1="220.4" y1="638.0" x2="220.4" y2="639.8" stroke="#282828" stroke-width="0.66"/>
<line x1="223.2" y1="638.0" x2="223.2" y2="639.8" stroke="#282828" stroke-width="0.66"/>
<line x1="225.7" y1="638.0" x2="225.7" y2="641.4" stroke="#282828" stroke-width="1.1"/>
<text x="224.2" y="658.8" font-size="13" text-anchor="middle">10<tspan font-size="9.5" dy="-5.4">3</tspan></text>
<line x1="242.2" y1="638.0" x2="242.2" y2="639.8" stroke="#282828" stroke-width="0.66"/>
<line x1="251.8" y1="638.0" x2="251.8" y2="639.8" stroke="#282828" stroke-width="0.66"/>
<text x="56.8" y="465.9" font-size="13" text-anchor="end">256</text>
<text x="56.8" y="642.5" font-size="13" text-anchor="end">0</text>
<text x="41.0" y="549.0" font-size="13" text-anchor="middle" transform="rotate(-90 41.0 549.0)">Events</text>
<line x1="117.5" y1="484.2" x2="252.6" y2="484.2" stroke="#3a3a3a" stroke-width="1.15"/>
<line x1="117.5" y1="481.4" x2="117.5" y2="487.0" stroke="#3a3a3a" stroke-width="1.15"/>
<text x="181.6" y="508.8" font-size="19" text-anchor="middle">25.54%</text>
<text x="160.0" y="671.2" font-size="13" text-anchor="middle">FL2-H</text>
<path d="M322.2 627.0 L322.8 625.3 L323.4 621.9 L324.0 620.9 L324.6 618.0 L325.2 614.4 L325.8 611.1 L326.4 612.8 L327.0 609.7 L327.6 601.0 L328.2 599.3 L328.8 593.8 L329.4 595.8 L330.0 590.2 L330.6 579.4 L331.2 583.9 L331.8 581.5 L332.4 583.3 L333.0 579.4 L333.6 563.7 L334.2 570.1 L334.8 569.6 L335.4 561.1 L336.0 562.6 L336.6 553.9 L337.2 559.8 L337.8 548.9 L338.4 552.6 L339.0 544.2 L339.6 541.0 L340.2 540.4 L340.8 541.6 L341.4 541.6 L342.0 535.6 L342.6 534.1 L343.2 529.1 L343.8 530.1 L344.4 528.3 L345.0 524.2 L345.6 527.4 L346.2 532.0 L346.8 532.4 L347.4 536.9 L348.0 543.6 L348.6 551.4 L349.2 544.1 L349.8 542.9 L350.4 555.4 L351.0 556.1 L351.6 564.1 L352.2 564.1 L352.8 567.4 L353.4 577.9 L354.0 579.5 L354.6 579.1 L355.2 586.5 L355.8 583.7 L356.4 591.7 L357.0 593.6 L357.6 596.6 L358.2 596.3 L358.8 599.1 L359.4 600.9 L360.0 603.0 L360.6 609.3 L361.2 614.7 L361.8 612.2 L362.4 616.2 L363.0 615.5 L363.6 621.1 L364.2 623.7 L364.8 624.5 L365.4 626.1 L366.0 629.6 L366.6 630.3 L367.2 630.5 L367.8 633.3 L368.4 633.5 L369.0 634.6 L369.6 635.3 L370.2 635.9 L370.8 636.4 L371.4 636.4 L372.0 636.2 L372.6 636.3 L373.2 636.4 L373.8 636.3 L374.4 636.4 L375.0 636.3 L375.6 636.4 L376.2 636.0 L376.8 636.1 L377.4 636.4 L378.0 636.4 L378.6 635.9 L379.2 636.5 L379.8 636.2 L380.4 636.4 L381.0 636.5 L381.6 635.8 L382.2 636.3 L382.8 636.2 L382.8 636.6 L322.2 636.6 Z" fill="#c6c6c6" stroke="none"/>
<path d="M322.2 627.0 L322.8 625.3 L323.4 621.9 L324.0 620.9 L324.6 618.0 L325.2 614.4 L325.8 611.1 L326.4 612.8 L327.0 609.7 L327.6 601.0 L328.2 599.3 L328.8 593.8 L329.4 595.8 L330.0 590.2 L330.6 579.4 L331.2 583.9 L331.8 581.5 L332.4 583.3 L333.0 579.4 L333.6 563.7 L334.2 570.1 L334.8 569.6 L335.4 561.1 L336.0 562.6 L336.6 553.9 L337.2 559.8 L337.8 548.9 L338.4 552.6 L339.0 544.2 L339.6 541.0 L340.2 540.4 L340.8 541.6 L341.4 541.6 L342.0 535.6 L342.6 534.1 L343.2 529.1 L343.8 530.1 L344.4 528.3 L345.0 524.2 L345.6 527.4 L346.2 532.0 L346.8 532.4 L347.4 536.9 L348.0 543.6 L348.6 551.4 L349.2 544.1 L349.8 542.9 L350.4 555.4 L351.0 556.1 L351.6 564.1 L352.2 564.1 L352.8 567.4 L353.4 577.9 L354.0 579.5 L354.6 579.1 L355.2 586.5 L355.8 583.7 L356.4 591.7 L357.0 593.6 L357.6 596.6 L358.2 596.3 L358.8 599.1 L359.4 600.9 L360.0 603.0 L360.6 609.3 L361.2 614.7 L361.8 612.2 L362.4 616.2 L363.0 615.5 L363.6 621.1 L364.2 623.7 L364.8 624.5 L365.4 626.1 L366.0 629.6 L366.6 630.3 L367.2 630.5 L367.8 633.3 L368.4 633.5 L369.0 634.6 L369.6 635.3 L370.2 635.9 L370.8 636.4 L371.4 636.4 L372.0 636.2 L372.6 636.3 L373.2 636.4 L373.8 636.3 L374.4 636.4 L375.0 636.3 L375.6 636.4 L376.2 636.0 L376.8 636.1 L377.4 636.4 L378.0 636.4 L378.6 635.9 L379.2 636.5 L379.8 636.2 L380.4 636.4 L381.0 636.5 L381.6 635.8 L382.2 636.3 L382.8 636.2" fill="none" stroke="#4a4a4a" stroke-width="0.8" stroke-linejoin="round"/>
<path d="M323.0 636.4 L323.4 636.5 L323.8 636.4 L324.3 636.0 L324.7 636.3 L325.1 635.9 L325.5 636.1 L325.9 635.8 L326.4 635.5 L326.8 635.3 L327.2 635.0 L327.6 633.9 L328.0 633.6 L328.5 633.4 L328.9 632.3 L329.3 633.3 L329.7 634.6 L330.1 630.5 L330.6 631.1 L331.0 629.9 L331.4 632.0 L331.8 630.2 L332.2 626.4 L332.7 625.0 L333.1 625.7 L333.5 622.8 L333.9 626.5 L334.3 625.9 L334.8 621.1 L335.2 620.3 L335.6 620.6 L336.0 615.4 L336.4 613.0 L336.9 615.5 L337.3 611.0 L337.7 611.9 L338.1 611.5 L338.5 612.2 L339.0 612.1 L339.4 607.9 L339.8 609.4 L340.2 603.7 L340.6 603.9 L341.1 604.2 L341.5 596.2 L341.9 595.9 L342.3 594.0 L342.7 593.8 L343.2 591.5 L343.6 593.0 L344.0 585.2 L344.4 584.6 L344.8 587.1 L345.3 584.9 L345.7 583.2 L346.1 583.5 L346.5 583.1 L346.9 574.9 L347.4 575.5 L347.8 579.9 L348.2 572.0 L348.6 569.8 L349.0 564.2 L349.5 560.3 L349.9 553.1 L350.3 565.5 L350.7 558.9 L351.1 561.5 L351.6 548.5 L352.0 562.9 L352.4 569.2 L352.8 551.7 L353.2 547.9 L353.7 554.0 L354.1 558.8 L354.5 563.4 L354.9 552.8 L355.3 554.1 L355.8 562.2 L356.2 561.4 L356.6 569.5 L357.0 563.4 L357.4 576.8 L357.9 568.3 L358.3 561.7 L358.7 572.1 L359.1 557.6 L359.5 571.6 L360.0 573.1 L360.4 568.2 L360.8 580.8 L361.2 581.1 L361.6 580.7 L362.1 586.2 L362.5 578.0 L362.9 583.1 L363.3 585.2 L363.7 590.2 L364.2 588.3 L364.6 590.8 L365.0 588.2 L365.4 588.4 L365.8 597.0 L366.3 597.2 L366.7 600.6 L367.1 603.3 L367.5 597.9 L367.9 600.8 L368.4 605.2 L368.8 608.8 L369.2 603.5 L369.6 616.9 L370.0 612.8 L370.5 614.9 L370.9 617.9 L371.3 614.0 L371.7 616.6 L372.1 617.2 L372.6 619.6 L373.0 619.5 L373.4 625.1 L373.8 623.2 L374.2 624.7 L374.7 621.7 L375.1 625.1 L375.5 628.0 L375.9 630.7 L376.3 627.0 L376.8 631.2 L377.2 630.5 L377.6 634.3 L378.0 633.4 L378.4 632.8 L378.9 635.0 L379.3 635.4 L379.7 634.9 L380.1 635.1 L380.5 635.6 L381.0 636.0 L381.4 636.0 L381.8 636.0 L382.2 636.1 L382.6 636.4 L383.1 636.3 L383.5 636.2 L383.9 636.2 L384.3 636.1 L384.7 636.5 L385.2 636.5 L385.6 636.4 L386.0 636.4 L386.4 636.3 L386.8 636.4 L387.3 636.3 L387.7 636.3 L388.1 636.4 L388.5 636.5 L388.9 636.5 L389.4 636.1 L389.8 636.5 L390.2 636.4 L390.6 636.3 L391.0 636.4 L391.5 636.4 L391.9 636.1 L392.3 636.4 L392.7 636.5 L393.1 636.4 L393.6 636.2 L394.0 636.5" fill="none" stroke="#141414" stroke-width="2.1" stroke-linejoin="round"/>
<line x1="322.2" y1="460.0" x2="322.2" y2="636.6" stroke="#282828" stroke-width="1.1"/>
<line x1="322.2" y1="636.6" x2="501.6" y2="636.6" stroke="#282828" stroke-width="1.1"/>
<line x1="322.6" y1="575.8" x2="322.6" y2="636.6" stroke="#222" stroke-width="1.8"/>
<line x1="319.7" y1="460.0" x2="322.2" y2="460.0" stroke="#282828" stroke-width="0.8800000000000001"/>
<line x1="319.7" y1="504.1" x2="322.2" y2="504.1" stroke="#282828" stroke-width="0.8800000000000001"/>
<line x1="319.7" y1="548.3" x2="322.2" y2="548.3" stroke="#282828" stroke-width="0.8800000000000001"/>
<line x1="319.7" y1="592.5" x2="322.2" y2="592.5" stroke="#282828" stroke-width="0.8800000000000001"/>
<line x1="319.7" y1="636.6" x2="322.2" y2="636.6" stroke="#282828" stroke-width="0.8800000000000001"/>
<line x1="322.2" y1="636.6" x2="322.2" y2="640.0" stroke="#282828" stroke-width="1.1"/>
<text x="322.2" y="658.7" font-size="13" text-anchor="middle">10<tspan font-size="9.5" dy="-5.4">0</tspan></text>
<line x1="340.1" y1="636.6" x2="340.1" y2="638.4" stroke="#282828" stroke-width="0.66"/>
<line x1="350.6" y1="636.6" x2="350.6" y2="638.4" stroke="#282828" stroke-width="0.66"/>
<line x1="358.0" y1="636.6" x2="358.0" y2="638.4" stroke="#282828" stroke-width="0.66"/>
<line x1="363.8" y1="636.6" x2="363.8" y2="638.4" stroke="#282828" stroke-width="0.66"/>
<line x1="368.5" y1="636.6" x2="368.5" y2="638.4" stroke="#282828" stroke-width="0.66"/>
<line x1="372.5" y1="636.6" x2="372.5" y2="638.4" stroke="#282828" stroke-width="0.66"/>
<line x1="375.9" y1="636.6" x2="375.9" y2="638.4" stroke="#282828" stroke-width="0.66"/>
<line x1="379.0" y1="636.6" x2="379.0" y2="638.4" stroke="#282828" stroke-width="0.66"/>
<line x1="381.7" y1="636.6" x2="381.7" y2="640.0" stroke="#282828" stroke-width="1.1"/>
<text x="381.7" y="658.7" font-size="13" text-anchor="middle">10<tspan font-size="9.5" dy="-5.4">1</tspan></text>
<line x1="399.6" y1="636.6" x2="399.6" y2="638.4" stroke="#282828" stroke-width="0.66"/>
<line x1="410.1" y1="636.6" x2="410.1" y2="638.4" stroke="#282828" stroke-width="0.66"/>
<line x1="417.5" y1="636.6" x2="417.5" y2="638.4" stroke="#282828" stroke-width="0.66"/>
<line x1="423.3" y1="636.6" x2="423.3" y2="638.4" stroke="#282828" stroke-width="0.66"/>
<line x1="428.0" y1="636.6" x2="428.0" y2="638.4" stroke="#282828" stroke-width="0.66"/>
<line x1="432.0" y1="636.6" x2="432.0" y2="638.4" stroke="#282828" stroke-width="0.66"/>
<line x1="435.4" y1="636.6" x2="435.4" y2="638.4" stroke="#282828" stroke-width="0.66"/>
<line x1="438.5" y1="636.6" x2="438.5" y2="638.4" stroke="#282828" stroke-width="0.66"/>
<line x1="441.2" y1="636.6" x2="441.2" y2="640.0" stroke="#282828" stroke-width="1.1"/>
<text x="441.2" y="658.7" font-size="13" text-anchor="middle">10<tspan font-size="9.5" dy="-5.4">2</tspan></text>
<line x1="459.1" y1="636.6" x2="459.1" y2="638.4" stroke="#282828" stroke-width="0.66"/>
<line x1="469.6" y1="636.6" x2="469.6" y2="638.4" stroke="#282828" stroke-width="0.66"/>
<line x1="477.0" y1="636.6" x2="477.0" y2="638.4" stroke="#282828" stroke-width="0.66"/>
<line x1="482.8" y1="636.6" x2="482.8" y2="638.4" stroke="#282828" stroke-width="0.66"/>
<line x1="487.5" y1="636.6" x2="487.5" y2="638.4" stroke="#282828" stroke-width="0.66"/>
<line x1="491.5" y1="636.6" x2="491.5" y2="638.4" stroke="#282828" stroke-width="0.66"/>
<line x1="494.9" y1="636.6" x2="494.9" y2="638.4" stroke="#282828" stroke-width="0.66"/>
<line x1="498.0" y1="636.6" x2="498.0" y2="638.4" stroke="#282828" stroke-width="0.66"/>
<line x1="500.7" y1="636.6" x2="500.7" y2="640.0" stroke="#282828" stroke-width="1.1"/>
<text x="500.7" y="658.7" font-size="13" text-anchor="middle">10<tspan font-size="9.5" dy="-5.4">3</tspan></text>
<text x="316.3" y="463.4" font-size="13" text-anchor="end">256</text>
<text x="316.3" y="641.0" font-size="13" text-anchor="end">0</text>
<text x="300.7" y="548.4" font-size="13" text-anchor="middle" transform="rotate(-90 300.7 548.4)">Events</text>
<line x1="361.8" y1="480.2" x2="502.0" y2="480.2" stroke="#3a3a3a" stroke-width="1.15"/>
<line x1="361.8" y1="477.4" x2="361.8" y2="483.0" stroke="#3a3a3a" stroke-width="1.15"/>
<text x="430.0" y="509.0" font-size="19" text-anchor="middle">23.40%</text>
<text x="431.3" y="439.0" font-size="19" text-anchor="middle">Scramble</text>
<path d="M573.2 630.7 L573.8 630.4 L574.4 626.2 L575.0 622.7 L575.6 618.8 L576.2 615.8 L576.8 613.8 L577.4 609.0 L578.0 608.4 L578.6 601.3 L579.2 599.5 L579.8 593.8 L580.4 593.5 L581.0 588.7 L581.6 590.1 L582.2 583.9 L582.8 583.7 L583.4 577.2 L584.0 574.4 L584.6 575.1 L585.2 567.5 L585.8 567.5 L586.4 561.1 L587.0 556.3 L587.6 558.9 L588.2 544.9 L588.8 550.9 L589.4 544.7 L590.0 547.1 L590.6 540.3 L591.2 537.9 L591.8 535.5 L592.4 534.3 L593.0 530.2 L593.6 527.3 L594.2 519.7 L594.8 524.0 L595.4 517.8 L596.0 533.7 L596.6 531.7 L597.2 538.2 L597.8 548.8 L598.4 540.7 L599.0 549.7 L599.6 544.4 L600.2 558.1 L600.8 558.1 L601.4 566.1 L602.0 568.0 L602.6 574.1 L603.2 572.7 L603.8 575.3 L604.4 582.9 L605.0 585.7 L605.6 589.0 L606.2 589.6 L606.8 594.5 L607.4 600.4 L608.0 603.2 L608.6 606.7 L609.2 611.2 L609.8 611.6 L610.4 613.8 L611.0 616.8 L611.6 616.9 L612.2 620.2 L612.8 622.5 L613.4 624.4 L614.0 625.4 L614.6 627.2 L615.2 628.7 L615.8 629.4 L616.4 630.7 L617.0 630.9 L617.6 631.5 L618.2 631.1 L618.8 631.4 L619.4 631.2 L620.0 631.5 L620.6 631.4 L621.2 631.5 L621.8 631.7 L622.4 631.1 L623.0 631.5 L623.6 631.1 L624.2 631.7 L624.8 631.6 L625.4 631.2 L626.0 631.1 L626.6 631.5 L627.2 631.5 L627.8 631.7 L628.4 631.6 L629.0 631.5 L629.0 631.8 L573.2 631.8 Z" fill="#c6c6c6" stroke="none"/>
<path d="M573.2 630.7 L573.8 630.4 L574.4 626.2 L575.0 622.7 L575.6 618.8 L576.2 615.8 L576.8 613.8 L577.4 609.0 L578.0 608.4 L578.6 601.3 L579.2 599.5 L579.8 593.8 L580.4 593.5 L581.0 588.7 L581.6 590.1 L582.2 583.9 L582.8 583.7 L583.4 577.2 L584.0 574.4 L584.6 575.1 L585.2 567.5 L585.8 567.5 L586.4 561.1 L587.0 556.3 L587.6 558.9 L588.2 544.9 L588.8 550.9 L589.4 544.7 L590.0 547.1 L590.6 540.3 L591.2 537.9 L591.8 535.5 L592.4 534.3 L593.0 530.2 L593.6 527.3 L594.2 519.7 L594.8 524.0 L595.4 517.8 L596.0 533.7 L596.6 531.7 L597.2 538.2 L597.8 548.8 L598.4 540.7 L599.0 549.7 L599.6 544.4 L600.2 558.1 L600.8 558.1 L601.4 566.1 L602.0 568.0 L602.6 574.1 L603.2 572.7 L603.8 575.3 L604.4 582.9 L605.0 585.7 L605.6 589.0 L606.2 589.6 L606.8 594.5 L607.4 600.4 L608.0 603.2 L608.6 606.7 L609.2 611.2 L609.8 611.6 L610.4 613.8 L611.0 616.8 L611.6 616.9 L612.2 620.2 L612.8 622.5 L613.4 624.4 L614.0 625.4 L614.6 627.2 L615.2 628.7 L615.8 629.4 L616.4 630.7 L617.0 630.9 L617.6 631.5 L618.2 631.1 L618.8 631.4 L619.4 631.2 L620.0 631.5 L620.6 631.4 L621.2 631.5 L621.8 631.7 L622.4 631.1 L623.0 631.5 L623.6 631.1 L624.2 631.7 L624.8 631.6 L625.4 631.2 L626.0 631.1 L626.6 631.5 L627.2 631.5 L627.8 631.7 L628.4 631.6 L629.0 631.5" fill="none" stroke="#4a4a4a" stroke-width="0.8" stroke-linejoin="round"/>
<path d="M577.0 631.7 L577.4 631.7 L577.8 631.5 L578.3 631.4 L578.7 631.0 L579.1 631.2 L579.5 630.4 L579.9 630.7 L580.4 627.8 L580.8 628.6 L581.2 628.4 L581.6 627.8 L582.0 626.1 L582.5 626.5 L582.9 624.5 L583.3 626.5 L583.7 624.7 L584.1 624.4 L584.6 623.2 L585.0 621.9 L585.4 620.9 L585.8 619.3 L586.2 619.3 L586.7 616.7 L587.1 614.3 L587.5 617.6 L587.9 611.8 L588.3 609.8 L588.8 613.0 L589.2 607.5 L589.6 606.2 L590.0 606.7 L590.4 609.1 L590.9 606.6 L591.3 602.1 L591.7 597.4 L592.1 606.3 L592.5 599.3 L593.0 599.7 L593.4 594.4 L593.8 601.2 L594.2 590.8 L594.6 592.6 L595.1 589.1 L595.5 590.7 L595.9 594.3 L596.3 593.9 L596.7 590.8 L597.2 589.3 L597.6 587.2 L598.0 582.5 L598.4 580.2 L598.8 579.7 L599.3 580.9 L599.7 584.5 L600.1 589.3 L600.5 583.9 L600.9 576.1 L601.4 581.1 L601.8 577.5 L602.2 577.9 L602.6 579.8 L603.0 576.4 L603.5 582.0 L603.9 584.4 L604.3 582.6 L604.7 580.6 L605.1 581.9 L605.6 581.4 L606.0 579.0 L606.4 578.3 L606.8 590.6 L607.2 585.2 L607.7 591.1 L608.1 587.0 L608.5 588.9 L608.9 595.6 L609.3 589.3 L609.8 586.4 L610.2 593.2 L610.6 590.9 L611.0 589.4 L611.4 597.7 L611.9 595.4 L612.3 597.9 L612.7 595.1 L613.1 598.6 L613.5 597.9 L614.0 598.8 L614.4 601.0 L614.8 600.2 L615.2 605.9 L615.6 600.4 L616.1 599.6 L616.5 596.3 L616.9 607.3 L617.3 603.2 L617.7 607.9 L618.2 610.0 L618.6 608.2 L619.0 614.1 L619.4 608.5 L619.8 609.7 L620.3 611.6 L620.7 614.8 L621.1 612.2 L621.5 607.8 L621.9 614.5 L622.4 615.2 L622.8 619.2 L623.2 618.7 L623.6 618.6 L624.0 619.2 L624.5 622.6 L624.9 621.8 L625.3 623.9 L625.7 621.2 L626.1 623.4 L626.6 625.3 L627.0 626.7 L627.4 626.1 L627.8 627.6 L628.2 626.6 L628.7 628.0 L629.1 628.7 L629.5 628.3 L629.9 630.6 L630.3 629.6 L630.8 629.7 L631.2 630.0 L631.6 630.9 L632.0 631.1 L632.4 631.5 L632.9 631.5 L633.3 631.5 L633.7 631.5 L634.1 631.7 L634.5 631.6 L635.0 631.4 L635.4 631.7 L635.8 631.7 L636.2 631.6 L636.6 631.7 L637.1 631.5 L637.5 631.7 L637.9 631.5 L638.3 631.7 L638.7 631.7 L639.2 631.7 L639.6 631.7 L640.0 631.8 L640.4 631.7 L640.8 631.6 L641.3 631.7 L641.7 631.7 L642.1 631.7 L642.5 631.7 L642.9 631.7 L643.4 631.6 L643.8 631.7 L644.2 631.8 L644.6 631.7" fill="none" stroke="#141414" stroke-width="2.1" stroke-linejoin="round"/>
<line x1="573.2" y1="457.9" x2="573.2" y2="631.8" stroke="#282828" stroke-width="1.1"/>
<line x1="573.2" y1="631.8" x2="796.3" y2="631.8" stroke="#282828" stroke-width="1.1"/>
<line x1="573.6" y1="573.0" x2="573.6" y2="631.8" stroke="#222" stroke-width="1.8"/>
<line x1="570.7" y1="457.9" x2="573.2" y2="457.9" stroke="#282828" stroke-width="0.8800000000000001"/>
<line x1="570.7" y1="501.4" x2="573.2" y2="501.4" stroke="#282828" stroke-width="0.8800000000000001"/>
<line x1="570.7" y1="544.8" x2="573.2" y2="544.8" stroke="#282828" stroke-width="0.8800000000000001"/>
<line x1="570.7" y1="588.3" x2="573.2" y2="588.3" stroke="#282828" stroke-width="0.8800000000000001"/>
<line x1="570.7" y1="631.8" x2="573.2" y2="631.8" stroke="#282828" stroke-width="0.8800000000000001"/>
<line x1="573.2" y1="631.8" x2="573.2" y2="635.2" stroke="#282828" stroke-width="1.1"/>
<text x="573.2" y="651.6" font-size="13" text-anchor="middle">10<tspan font-size="9.5" dy="-5.4">0</tspan></text>
<line x1="590.0" y1="631.8" x2="590.0" y2="633.6" stroke="#282828" stroke-width="0.66"/>
<line x1="599.8" y1="631.8" x2="599.8" y2="633.6" stroke="#282828" stroke-width="0.66"/>
<line x1="606.8" y1="631.8" x2="606.8" y2="633.6" stroke="#282828" stroke-width="0.66"/>
<line x1="612.2" y1="631.8" x2="612.2" y2="633.6" stroke="#282828" stroke-width="0.66"/>
<line x1="616.6" y1="631.8" x2="616.6" y2="633.6" stroke="#282828" stroke-width="0.66"/>
<line x1="620.3" y1="631.8" x2="620.3" y2="633.6" stroke="#282828" stroke-width="0.66"/>
<line x1="623.6" y1="631.8" x2="623.6" y2="633.6" stroke="#282828" stroke-width="0.66"/>
<line x1="626.4" y1="631.8" x2="626.4" y2="633.6" stroke="#282828" stroke-width="0.66"/>
<line x1="629.0" y1="631.8" x2="629.0" y2="635.2" stroke="#282828" stroke-width="1.1"/>
<text x="629.0" y="651.6" font-size="13" text-anchor="middle">10<tspan font-size="9.5" dy="-5.4">1</tspan></text>
<line x1="645.8" y1="631.8" x2="645.8" y2="633.6" stroke="#282828" stroke-width="0.66"/>
<line x1="655.6" y1="631.8" x2="655.6" y2="633.6" stroke="#282828" stroke-width="0.66"/>
<line x1="662.6" y1="631.8" x2="662.6" y2="633.6" stroke="#282828" stroke-width="0.66"/>
<line x1="668.0" y1="631.8" x2="668.0" y2="633.6" stroke="#282828" stroke-width="0.66"/>
<line x1="672.4" y1="631.8" x2="672.4" y2="633.6" stroke="#282828" stroke-width="0.66"/>
<line x1="676.1" y1="631.8" x2="676.1" y2="633.6" stroke="#282828" stroke-width="0.66"/>
<line x1="679.3" y1="631.8" x2="679.3" y2="633.6" stroke="#282828" stroke-width="0.66"/>
<line x1="682.2" y1="631.8" x2="682.2" y2="633.6" stroke="#282828" stroke-width="0.66"/>
<line x1="684.8" y1="631.8" x2="684.8" y2="635.2" stroke="#282828" stroke-width="1.1"/>
<text x="684.8" y="651.6" font-size="13" text-anchor="middle">10<tspan font-size="9.5" dy="-5.4">2</tspan></text>
<line x1="701.5" y1="631.8" x2="701.5" y2="633.6" stroke="#282828" stroke-width="0.66"/>
<line x1="711.4" y1="631.8" x2="711.4" y2="633.6" stroke="#282828" stroke-width="0.66"/>
<line x1="718.3" y1="631.8" x2="718.3" y2="633.6" stroke="#282828" stroke-width="0.66"/>
<line x1="723.7" y1="631.8" x2="723.7" y2="633.6" stroke="#282828" stroke-width="0.66"/>
<line x1="728.2" y1="631.8" x2="728.2" y2="633.6" stroke="#282828" stroke-width="0.66"/>
<line x1="731.9" y1="631.8" x2="731.9" y2="633.6" stroke="#282828" stroke-width="0.66"/>
<line x1="735.1" y1="631.8" x2="735.1" y2="633.6" stroke="#282828" stroke-width="0.66"/>
<line x1="738.0" y1="631.8" x2="738.0" y2="633.6" stroke="#282828" stroke-width="0.66"/>
<line x1="740.5" y1="631.8" x2="740.5" y2="635.2" stroke="#282828" stroke-width="1.1"/>
<text x="740.5" y="651.6" font-size="13" text-anchor="middle">10<tspan font-size="9.5" dy="-5.4">3</tspan></text>
<line x1="757.3" y1="631.8" x2="757.3" y2="633.6" stroke="#282828" stroke-width="0.66"/>
<line x1="767.1" y1="631.8" x2="767.1" y2="633.6" stroke="#282828" stroke-width="0.66"/>
<line x1="774.1" y1="631.8" x2="774.1" y2="633.6" stroke="#282828" stroke-width="0.66"/>
<line x1="779.5" y1="631.8" x2="779.5" y2="633.6" stroke="#282828" stroke-width="0.66"/>
<line x1="783.9" y1="631.8" x2="783.9" y2="633.6" stroke="#282828" stroke-width="0.66"/>
<line x1="787.7" y1="631.8" x2="787.7" y2="633.6" stroke="#282828" stroke-width="0.66"/>
<line x1="790.9" y1="631.8" x2="790.9" y2="633.6" stroke="#282828" stroke-width="0.66"/>
<line x1="793.7" y1="631.8" x2="793.7" y2="633.6" stroke="#282828" stroke-width="0.66"/>
<line x1="796.3" y1="631.8" x2="796.3" y2="635.2" stroke="#282828" stroke-width="1.1"/>
<text x="796.3" y="651.6" font-size="13" text-anchor="middle">10<tspan font-size="9.5" dy="-5.4">4</tspan></text>
<text x="566.8" y="462.0" font-size="13" text-anchor="end">256</text>
<text x="566.8" y="637.0" font-size="13" text-anchor="end">0</text>
<text x="550.0" y="548.0" font-size="13" text-anchor="middle" transform="rotate(-90 550.0 548.0)">Events</text>
<line x1="610.2" y1="480.2" x2="796.3" y2="480.2" stroke="#3a3a3a" stroke-width="1.15"/>
<line x1="610.2" y1="477.4" x2="610.2" y2="483.0" stroke="#3a3a3a" stroke-width="1.15"/>
<line x1="796.3" y1="477.4" x2="796.3" y2="483.0" stroke="#3a3a3a" stroke-width="1.15"/>
<text x="697.4" y="508.4" font-size="19" text-anchor="middle">12.03%</text>
<text x="771.0" y="471.8" font-size="12.5">M1</text>
<text x="699.5" y="439.0" font-size="19" text-anchor="middle">si-<tspan font-style="italic">SALL4</tspan></text>
<rect x="60.6" y="676.7" width="299.0" height="4.6" fill="#231f20"/>
<path d="M359.1 672.2 L372.6 679.0 L359.1 685.8 Z" fill="#231f20"/>
<text x="378.0" y="685.8" font-size="18.8">PD-L1 on HBV<tspan font-size="12.5" dy="-7.2" dx="-0.8">+</tspan><tspan dy="7.2" dx="-0.5">HLCZ01</tspan></text>
<text x="11.0" y="735.8" font-size="27" font-weight="bold">e</text>
<path d="M48.9 931.2 L49.5 931.4 L50.1 928.8 L50.7 918.3 L51.3 917.5 L51.9 916.3 L52.5 910.1 L53.1 902.2 L53.7 904.3 L54.3 903.3 L54.9 898.9 L55.5 899.3 L56.1 893.8 L56.7 885.5 L57.3 882.7 L57.9 885.1 L58.5 885.0 L59.1 878.8 L59.7 876.6 L60.3 870.4 L60.9 864.2 L61.5 864.6 L62.1 864.6 L62.7 858.6 L63.3 853.6 L63.9 848.4 L64.5 849.9 L65.1 843.1 L65.7 859.7 L66.3 844.6 L66.9 838.6 L67.5 842.3 L68.1 829.2 L68.7 829.2 L69.3 827.2 L69.9 840.1 L70.5 828.6 L71.1 837.9 L71.7 843.0 L72.3 845.0 L72.9 837.8 L73.5 838.9 L74.1 836.9 L74.7 844.6 L75.3 846.7 L75.9 846.2 L76.5 854.9 L77.1 849.8 L77.7 852.2 L78.3 853.6 L78.9 854.3 L79.5 858.0 L80.1 868.7 L80.7 855.8 L81.3 864.1 L81.9 864.6 L82.5 861.9 L83.1 876.9 L83.7 870.5 L84.3 870.2 L84.9 873.7 L85.5 875.4 L86.1 874.8 L86.7 880.2 L87.3 880.6 L87.9 893.1 L88.5 881.0 L89.1 892.3 L89.7 892.5 L90.3 895.9 L90.9 897.6 L91.5 895.9 L92.1 884.2 L92.7 902.3 L93.3 901.2 L93.9 897.3 L94.5 903.3 L95.1 907.2 L95.7 908.4 L96.3 910.9 L96.9 902.9 L97.5 913.3 L98.1 913.2 L98.7 919.4 L99.3 920.1 L99.9 922.7 L100.5 930.3 L101.1 923.8 L101.7 930.4 L102.3 928.7 L102.9 925.7 L103.5 933.5 L104.1 930.4 L104.7 932.9 L105.3 936.3 L105.9 936.0 L106.5 938.1 L107.1 939.8 L107.7 943.7 L108.3 943.4 L108.9 943.1 L109.5 944.7 L110.1 947.2 L110.7 949.9 L111.3 951.4 L111.9 951.3 L112.5 952.6 L113.1 953.9 L113.7 956.8 L114.3 957.2 L114.9 956.5 L115.5 958.9 L116.1 960.1 L116.7 961.0 L117.3 960.1 L117.9 962.2 L118.5 961.7 L119.1 964.2 L119.7 963.3 L120.3 964.5 L120.9 964.8 L121.5 965.3 L122.1 965.7 L122.7 966.2 L123.3 966.6 L123.9 966.4 L124.5 966.6 L125.1 966.3 L125.7 966.7 L126.3 966.5 L126.9 966.7 L127.5 966.4 L128.1 966.7 L128.7 966.6 L129.3 966.5 L129.9 966.7 L130.5 966.6 L131.1 966.7 L131.7 966.3 L132.3 965.7 L132.9 966.6 L133.5 966.7 L134.1 966.8 L134.7 966.6 L135.3 966.7 L135.9 966.9 L135.9 967.0 L48.9 967.0 Z" fill="#c6c6c6" stroke="none"/>
<path d="M48.9 931.2 L49.5 931.4 L50.1 928.8 L50.7 918.3 L51.3 917.5 L51.9 916.3 L52.5 910.1 L53.1 902.2 L53.7 904.3 L54.3 903.3 L54.9 898.9 L55.5 899.3 L56.1 893.8 L56.7 885.5 L57.3 882.7 L57.9 885.1 L58.5 885.0 L59.1 878.8 L59.7 876.6 L60.3 870.4 L60.9 864.2 L61.5 864.6 L62.1 864.6 L62.7 858.6 L63.3 853.6 L63.9 848.4 L64.5 849.9 L65.1 843.1 L65.7 859.7 L66.3 844.6 L66.9 838.6 L67.5 842.3 L68.1 829.2 L68.7 829.2 L69.3 827.2 L69.9 840.1 L70.5 828.6 L71.1 837.9 L71.7 843.0 L72.3 845.0 L72.9 837.8 L73.5 838.9 L74.1 836.9 L74.7 844.6 L75.3 846.7 L75.9 846.2 L76.5 854.9 L77.1 849.8 L77.7 852.2 L78.3 853.6 L78.9 854.3 L79.5 858.0 L80.1 868.7 L80.7 855.8 L81.3 864.1 L81.9 864.6 L82.5 861.9 L83.1 876.9 L83.7 870.5 L84.3 870.2 L84.9 873.7 L85.5 875.4 L86.1 874.8 L86.7 880.2 L87.3 880.6 L87.9 893.1 L88.5 881.0 L89.1 892.3 L89.7 892.5 L90.3 895.9 L90.9 897.6 L91.5 895.9 L92.1 884.2 L92.7 902.3 L93.3 901.2 L93.9 897.3 L94.5 903.3 L95.1 907.2 L95.7 908.4 L96.3 910.9 L96.9 902.9 L97.5 913.3 L98.1 913.2 L98.7 919.4 L99.3 920.1 L99.9 922.7 L100.5 930.3 L101.1 923.8 L101.7 930.4 L102.3 928.7 L102.9 925.7 L103.5 933.5 L104.1 930.4 L104.7 932.9 L105.3 936.3 L105.9 936.0 L106.5 938.1 L107.1 939.8 L107.7 943.7 L108.3 943.4 L108.9 943.1 L109.5 944.7 L110.1 947.2 L110.7 949.9 L111.3 951.4 L111.9 951.3 L112.5 952.6 L113.1 953.9 L113.7 956.8 L114.3 957.2 L114.9 956.5 L115.5 958.9 L116.1 960.1 L116.7 961.0 L117.3 960.1 L117.9 962.2 L118.5 961.7 L119.1 964.2 L119.7 963.3 L120.3 964.5 L120.9 964.8 L121.5 965.3 L122.1 965.7 L122.7 966.2 L123.3 966.6 L123.9 966.4 L124.5 966.6 L125.1 966.3 L125.7 966.7 L126.3 966.5 L126.9 966.7 L127.5 966.4 L128.1 966.7 L128.7 966.6 L129.3 966.5 L129.9 966.7 L130.5 966.6 L131.1 966.7 L131.7 966.3 L132.3 965.7 L132.9 966.6 L133.5 966.7 L134.1 966.8 L134.7 966.6 L135.3 966.7 L135.9 966.9" fill="none" stroke="#4a4a4a" stroke-width="0.8" stroke-linejoin="round"/>
<path d="M50.0 966.7 L50.4 965.4 L50.8 964.3 L51.3 963.2 L51.7 963.3 L52.1 957.6 L52.5 959.7 L52.9 956.5 L53.4 953.4 L53.8 949.4 L54.2 951.0 L54.6 952.2 L55.0 945.2 L55.5 943.0 L55.9 935.9 L56.3 941.6 L56.7 939.4 L57.1 938.7 L57.6 933.5 L58.0 933.3 L58.4 928.3 L58.8 925.3 L59.2 934.6 L59.7 924.4 L60.1 931.6 L60.5 927.5 L60.9 918.9 L61.3 917.0 L61.8 919.5 L62.2 920.9 L62.6 920.5 L63.0 920.1 L63.4 907.5 L63.9 908.0 L64.3 915.4 L64.7 922.4 L65.1 905.4 L65.5 912.2 L66.0 904.9 L66.4 902.9 L66.8 900.2 L67.2 901.2 L67.6 901.2 L68.1 897.7 L68.5 896.0 L68.9 895.3 L69.3 894.4 L69.7 888.8 L70.2 886.6 L70.6 887.3 L71.0 891.6 L71.4 881.0 L71.8 883.8 L72.3 880.8 L72.7 885.8 L73.1 896.0 L73.5 885.5 L73.9 874.6 L74.4 879.3 L74.8 883.7 L75.2 882.8 L75.6 880.9 L76.0 866.0 L76.5 869.1 L76.9 858.0 L77.3 868.3 L77.7 866.3 L78.1 873.5 L78.6 882.0 L79.0 890.4 L79.4 859.7 L79.8 851.8 L80.2 852.5 L80.7 858.4 L81.1 865.6 L81.5 859.3 L81.9 863.3 L82.3 867.1 L82.8 843.1 L83.2 854.0 L83.6 857.4 L84.0 847.7 L84.4 846.3 L84.9 858.3 L85.3 873.5 L85.7 850.5 L86.1 849.7 L86.5 861.8 L87.0 847.6 L87.4 852.1 L87.8 854.9 L88.2 859.7 L88.6 858.2 L89.1 863.0 L89.5 854.6 L89.9 862.9 L90.3 858.5 L90.7 860.2 L91.2 879.2 L91.6 864.6 L92.0 866.2 L92.4 879.4 L92.8 856.7 L93.3 869.4 L93.7 869.5 L94.1 858.9 L94.5 869.4 L94.9 862.8 L95.4 859.9 L95.8 868.5 L96.2 870.7 L96.6 875.8 L97.0 870.5 L97.5 880.7 L97.9 867.1 L98.3 889.3 L98.7 881.0 L99.1 882.1 L99.6 874.3 L100.0 879.4 L100.4 875.6 L100.8 892.1 L101.2 895.3 L101.7 879.2 L102.1 875.5 L102.5 890.3 L102.9 900.3 L103.3 890.3 L103.8 895.5 L104.2 903.2 L104.6 900.6 L105.0 900.4 L105.4 907.1 L105.9 903.6 L106.3 917.9 L106.7 908.5 L107.1 915.4 L107.5 914.6 L108.0 920.4 L108.4 923.7 L108.8 922.2 L109.2 925.9 L109.6 925.8 L110.1 931.7 L110.5 934.0 L110.9 936.6 L111.3 933.9 L111.7 938.8 L112.2 937.1 L112.6 931.8 L113.0 937.3 L113.4 948.6 L113.8 948.6 L114.3 949.7 L114.7 954.6 L115.1 954.6 L115.5 956.3 L115.9 959.5 L116.4 955.6 L116.8 961.4 L117.2 963.8 L117.6 963.7 L118.0 963.7 L118.5 965.2 L118.9 965.9 L119.3 966.1 L119.7 966.3 L120.1 966.8 L120.6 966.8 L121.0 966.6 L121.4 966.7 L121.8 966.6 L122.2 966.8 L122.7 966.7 L123.1 966.8 L123.5 966.9 L123.9 966.4 L124.3 966.8 L124.8 966.8 L125.2 966.8 L125.6 966.6 L126.0 966.2 L126.4 966.3 L126.9 966.8 L127.3 966.3 L127.7 966.6 L128.1 966.6 L128.5 966.8 L129.0 966.8 L129.4 966.7 L129.8 966.7 L130.2 966.6 L130.6 966.9 L131.1 966.8 L131.5 966.7" fill="none" stroke="#141414" stroke-width="2.3" stroke-linejoin="round"/>
<line x1="48.9" y1="751.6" x2="48.9" y2="967.0" stroke="#282828" stroke-width="1.1"/>
<line x1="48.9" y1="967.0" x2="247.3" y2="967.0" stroke="#282828" stroke-width="1.1"/>
<line x1="46.4" y1="751.6" x2="48.9" y2="751.6" stroke="#282828" stroke-width="0.8800000000000001"/>
<line x1="46.4" y1="805.5" x2="48.9" y2="805.5" stroke="#282828" stroke-width="0.8800000000000001"/>
<line x1="46.4" y1="859.3" x2="48.9" y2="859.3" stroke="#282828" stroke-width="0.8800000000000001"/>
<line x1="46.4" y1="913.1" x2="48.9" y2="913.1" stroke="#282828" stroke-width="0.8800000000000001"/>
<line x1="46.4" y1="967.0" x2="48.9" y2="967.0" stroke="#282828" stroke-width="0.8800000000000001"/>
<line x1="48.9" y1="967.0" x2="48.9" y2="970.4" stroke="#282828" stroke-width="1.1"/>
<text x="48.9" y="985.3" font-size="13" text-anchor="middle">10<tspan font-size="9.5" dy="-5.4">0</tspan></text>
<line x1="63.8" y1="967.0" x2="63.8" y2="968.8" stroke="#282828" stroke-width="0.66"/>
<line x1="72.6" y1="967.0" x2="72.6" y2="968.8" stroke="#282828" stroke-width="0.66"/>
<line x1="78.8" y1="967.0" x2="78.8" y2="968.8" stroke="#282828" stroke-width="0.66"/>
<line x1="83.6" y1="967.0" x2="83.6" y2="968.8" stroke="#282828" stroke-width="0.66"/>
<line x1="87.5" y1="967.0" x2="87.5" y2="968.8" stroke="#282828" stroke-width="0.66"/>
<line x1="90.8" y1="967.0" x2="90.8" y2="968.8" stroke="#282828" stroke-width="0.66"/>
<line x1="93.7" y1="967.0" x2="93.7" y2="968.8" stroke="#282828" stroke-width="0.66"/>
<line x1="96.2" y1="967.0" x2="96.2" y2="968.8" stroke="#282828" stroke-width="0.66"/>
<line x1="98.5" y1="967.0" x2="98.5" y2="970.4" stroke="#282828" stroke-width="1.1"/>
<text x="98.5" y="985.3" font-size="13" text-anchor="middle">10<tspan font-size="9.5" dy="-5.4">1</tspan></text>
<line x1="113.4" y1="967.0" x2="113.4" y2="968.8" stroke="#282828" stroke-width="0.66"/>
<line x1="122.2" y1="967.0" x2="122.2" y2="968.8" stroke="#282828" stroke-width="0.66"/>
<line x1="128.4" y1="967.0" x2="128.4" y2="968.8" stroke="#282828" stroke-width="0.66"/>
<line x1="133.2" y1="967.0" x2="133.2" y2="968.8" stroke="#282828" stroke-width="0.66"/>
<line x1="137.1" y1="967.0" x2="137.1" y2="968.8" stroke="#282828" stroke-width="0.66"/>
<line x1="140.4" y1="967.0" x2="140.4" y2="968.8" stroke="#282828" stroke-width="0.66"/>
<line x1="143.3" y1="967.0" x2="143.3" y2="968.8" stroke="#282828" stroke-width="0.66"/>
<line x1="145.8" y1="967.0" x2="145.8" y2="968.8" stroke="#282828" stroke-width="0.66"/>
<line x1="148.1" y1="967.0" x2="148.1" y2="970.4" stroke="#282828" stroke-width="1.1"/>
<text x="148.1" y="985.3" font-size="13" text-anchor="middle">10<tspan font-size="9.5" dy="-5.4">2</tspan></text>
<line x1="163.0" y1="967.0" x2="163.0" y2="968.8" stroke="#282828" stroke-width="0.66"/>
<line x1="171.8" y1="967.0" x2="171.8" y2="968.8" stroke="#282828" stroke-width="0.66"/>
<line x1="178.0" y1="967.0" x2="178.0" y2="968.8" stroke="#282828" stroke-width="0.66"/>
<line x1="182.8" y1="967.0" x2="182.8" y2="968.8" stroke="#282828" stroke-width="0.66"/>
<line x1="186.7" y1="967.0" x2="186.7" y2="968.8" stroke="#282828" stroke-width="0.66"/>
<line x1="190.0" y1="967.0" x2="190.0" y2="968.8" stroke="#282828" stroke-width="0.66"/>
<line x1="192.9" y1="967.0" x2="192.9" y2="968.8" stroke="#282828" stroke-width="0.66"/>
<line x1="195.4" y1="967.0" x2="195.4" y2="968.8" stroke="#282828" stroke-width="0.66"/>
<line x1="197.7" y1="967.0" x2="197.7" y2="970.4" stroke="#282828" stroke-width="1.1"/>
<text x="197.7" y="985.3" font-size="13" text-anchor="middle">10<tspan font-size="9.5" dy="-5.4">3</tspan></text>
<line x1="212.6" y1="967.0" x2="212.6" y2="968.8" stroke="#282828" stroke-width="0.66"/>
<line x1="221.4" y1="967.0" x2="221.4" y2="968.8" stroke="#282828" stroke-width="0.66"/>
<line x1="227.6" y1="967.0" x2="227.6" y2="968.8" stroke="#282828" stroke-width="0.66"/>
<line x1="232.4" y1="967.0" x2="232.4" y2="968.8" stroke="#282828" stroke-width="0.66"/>
<line x1="236.3" y1="967.0" x2="236.3" y2="968.8" stroke="#282828" stroke-width="0.66"/>
<line x1="239.6" y1="967.0" x2="239.6" y2="968.8" stroke="#282828" stroke-width="0.66"/>
<line x1="242.5" y1="967.0" x2="242.5" y2="968.8" stroke="#282828" stroke-width="0.66"/>
<line x1="245.0" y1="967.0" x2="245.0" y2="968.8" stroke="#282828" stroke-width="0.66"/>
<line x1="247.3" y1="967.0" x2="247.3" y2="970.4" stroke="#282828" stroke-width="1.1"/>
<text x="247.3" y="985.3" font-size="13" text-anchor="middle">10<tspan font-size="9.5" dy="-5.4">4</tspan></text>
<text x="42.6" y="757.3" font-size="13" text-anchor="end">512</text>
<text x="42.6" y="972.0" font-size="13" text-anchor="end">0</text>
<text x="23.0" y="857.4" font-size="13" text-anchor="middle" transform="rotate(-90 23.0 857.4)">Events</text>
<line x1="98.8" y1="804.0" x2="245.7" y2="804.0" stroke="#3a3a3a" stroke-width="1.15"/>
<line x1="98.8" y1="801.2" x2="98.8" y2="806.8" stroke="#3a3a3a" stroke-width="1.15"/>
<line x1="245.7" y1="801.2" x2="245.7" y2="806.8" stroke="#3a3a3a" stroke-width="1.15"/>
<text x="173.7" y="794.2" font-size="19" text-anchor="middle">25.03%</text>
<text x="221.0" y="794.2" font-size="12.5">M1</text>
<text x="149.0" y="1004.2" font-size="13" text-anchor="middle">FL2-H</text>
<path d="M308.7 925.0 L309.3 922.2 L309.9 917.3 L310.5 919.4 L311.1 914.5 L311.7 912.5 L312.3 912.1 L312.9 903.2 L313.5 891.3 L314.1 897.4 L314.7 893.6 L315.3 890.8 L315.9 886.2 L316.5 876.7 L317.1 878.7 L317.7 880.8 L318.3 872.4 L318.9 876.2 L319.5 878.3 L320.1 869.1 L320.7 866.6 L321.3 864.0 L321.9 863.6 L322.5 852.5 L323.1 853.7 L323.7 848.7 L324.3 850.8 L324.9 849.4 L325.5 852.6 L326.1 844.5 L326.7 839.9 L327.3 833.7 L327.9 839.9 L328.5 832.8 L329.1 828.9 L329.7 828.4 L330.3 825.8 L330.9 830.8 L331.5 830.8 L332.1 836.8 L332.7 845.3 L333.3 830.7 L333.9 827.4 L334.5 840.0 L335.1 843.7 L335.7 841.2 L336.3 840.7 L336.9 844.8 L337.5 846.3 L338.1 850.6 L338.7 856.1 L339.3 850.9 L339.9 854.9 L340.5 851.6 L341.1 853.2 L341.7 859.5 L342.3 863.5 L342.9 864.0 L343.5 855.2 L344.1 866.5 L344.7 868.5 L345.3 868.2 L345.9 869.1 L346.5 875.4 L347.1 876.6 L347.7 881.3 L348.3 879.3 L348.9 882.9 L349.5 883.2 L350.1 886.5 L350.7 886.3 L351.3 888.0 L351.9 891.2 L352.5 894.4 L353.1 892.5 L353.7 897.7 L354.3 895.7 L354.9 901.1 L355.5 903.5 L356.1 909.4 L356.7 905.8 L357.3 906.3 L357.9 911.8 L358.5 909.0 L359.1 909.2 L359.7 909.2 L360.3 917.9 L360.9 914.9 L361.5 919.0 L362.1 920.5 L362.7 920.9 L363.3 920.2 L363.9 926.8 L364.5 929.0 L365.1 925.9 L365.7 929.3 L366.3 932.7 L366.9 934.6 L367.5 931.8 L368.1 934.1 L368.7 934.6 L369.3 938.4 L369.9 944.3 L370.5 943.9 L371.1 942.3 L371.7 946.0 L372.3 949.6 L372.9 948.7 L373.5 953.0 L374.1 947.4 L374.7 951.5 L375.3 952.6 L375.9 954.2 L376.5 953.5 L377.1 954.4 L377.7 956.7 L378.3 958.2 L378.9 958.9 L379.5 960.1 L380.1 959.9 L380.7 960.8 L381.3 961.0 L381.9 962.9 L382.5 962.1 L383.1 962.9 L383.7 964.1 L384.3 964.3 L384.9 964.9 L385.5 965.2 L386.1 965.8 L386.7 966.0 L387.3 965.6 L387.9 965.9 L388.5 966.1 L389.1 965.9 L389.7 965.8 L390.3 965.9 L390.9 965.8 L391.5 965.8 L392.1 966.0 L392.7 966.0 L393.3 966.0 L393.9 965.7 L394.5 966.0 L395.1 965.6 L395.7 966.0 L396.3 965.9 L396.9 965.4 L397.5 965.9 L398.1 965.7 L398.7 965.7 L398.7 966.3 L308.7 966.3 Z" fill="#c6c6c6" stroke="none"/>
<path d="M308.7 925.0 L309.3 922.2 L309.9 917.3 L310.5 919.4 L311.1 914.5 L311.7 912.5 L312.3 912.1 L312.9 903.2 L313.5 891.3 L314.1 897.4 L314.7 893.6 L315.3 890.8 L315.9 886.2 L316.5 876.7 L317.1 878.7 L317.7 880.8 L318.3 872.4 L318.9 876.2 L319.5 878.3 L320.1 869.1 L320.7 866.6 L321.3 864.0 L321.9 863.6 L322.5 852.5 L323.1 853.7 L323.7 848.7 L324.3 850.8 L324.9 849.4 L325.5 852.6 L326.1 844.5 L326.7 839.9 L327.3 833.7 L327.9 839.9 L328.5 832.8 L329.1 828.9 L329.7 828.4 L330.3 825.8 L330.9 830.8 L331.5 830.8 L332.1 836.8 L332.7 845.3 L333.3 830.7 L333.9 827.4 L334.5 840.0 L335.1 843.7 L335.7 841.2 L336.3 840.7 L336.9 844.8 L337.5 846.3 L338.1 850.6 L338.7 856.1 L339.3 850.9 L339.9 854.9 L340.5 851.6 L341.1 853.2 L341.7 859.5 L342.3 863.5 L342.9 864.0 L343.5 855.2 L344.1 866.5 L344.7 868.5 L345.3 868.2 L345.9 869.1 L346.5 875.4 L347.1 876.6 L347.7 881.3 L348.3 879.3 L348.9 882.9 L349.5 883.2 L350.1 886.5 L350.7 886.3 L351.3 888.0 L351.9 891.2 L352.5 894.4 L353.1 892.5 L353.7 897.7 L354.3 895.7 L354.9 901.1 L355.5 903.5 L356.1 909.4 L356.7 905.8 L357.3 906.3 L357.9 911.8 L358.5 909.0 L359.1 909.2 L359.7 909.2 L360.3 917.9 L360.9 914.9 L361.5 919.0 L362.1 920.5 L362.7 920.9 L363.3 920.2 L363.9 926.8 L364.5 929.0 L365.1 925.9 L365.7 929.3 L366.3 932.7 L366.9 934.6 L367.5 931.8 L368.1 934.1 L368.7 934.6 L369.3 938.4 L369.9 944.3 L370.5 943.9 L371.1 942.3 L371.7 946.0 L372.3 949.6 L372.9 948.7 L373.5 953.0 L374.1 947.4 L374.7 951.5 L375.3 952.6 L375.9 954.2 L376.5 953.5 L377.1 954.4 L377.7 956.7 L378.3 958.2 L378.9 958.9 L379.5 960.1 L380.1 959.9 L380.7 960.8 L381.3 961.0 L381.9 962.9 L382.5 962.1 L383.1 962.9 L383.7 964.1 L384.3 964.3 L384.9 964.9 L385.5 965.2 L386.1 965.8 L386.7 966.0 L387.3 965.6 L387.9 965.9 L388.5 966.1 L389.1 965.9 L389.7 965.8 L390.3 965.9 L390.9 965.8 L391.5 965.8 L392.1 966.0 L392.7 966.0 L393.3 966.0 L393.9 965.7 L394.5 966.0 L395.1 965.6 L395.7 966.0 L396.3 965.9 L396.9 965.4 L397.5 965.9 L398.1 965.7 L398.7 965.7" fill="none" stroke="#4a4a4a" stroke-width="0.8" stroke-linejoin="round"/>
<path d="M312.0 966.2 L312.4 964.4 L312.8 964.4 L313.3 961.1 L313.7 961.4 L314.1 958.3 L314.5 961.9 L314.9 956.9 L315.4 955.5 L315.8 951.1 L316.2 953.5 L316.6 950.9 L317.0 949.4 L317.5 949.3 L317.9 947.9 L318.3 942.6 L318.7 942.8 L319.1 935.7 L319.6 939.9 L320.0 944.9 L320.4 932.5 L320.8 929.2 L321.2 935.1 L321.7 938.1 L322.1 930.8 L322.5 926.4 L322.9 929.6 L323.3 925.3 L323.8 923.8 L324.2 927.5 L324.6 926.5 L325.0 923.6 L325.4 918.4 L325.9 909.0 L326.3 924.0 L326.7 914.1 L327.1 916.8 L327.5 922.9 L328.0 908.3 L328.4 905.6 L328.8 905.8 L329.2 908.5 L329.6 894.5 L330.1 898.3 L330.5 895.6 L330.9 903.7 L331.3 897.3 L331.7 899.1 L332.2 908.1 L332.6 909.6 L333.0 889.8 L333.4 890.6 L333.8 893.9 L334.3 885.1 L334.7 889.8 L335.1 891.0 L335.5 879.6 L335.9 888.3 L336.4 882.4 L336.8 883.0 L337.2 875.3 L337.6 878.8 L338.0 869.8 L338.5 876.4 L338.9 875.6 L339.3 879.9 L339.7 871.1 L340.1 872.4 L340.6 871.4 L341.0 871.1 L341.4 882.2 L341.8 864.4 L342.2 861.8 L342.7 871.6 L343.1 859.5 L343.5 865.1 L343.9 870.9 L344.3 858.2 L344.8 865.5 L345.2 856.1 L345.6 849.0 L346.0 857.0 L346.4 868.9 L346.9 858.2 L347.3 856.0 L347.7 869.0 L348.1 860.5 L348.5 850.1 L349.0 855.2 L349.4 862.6 L349.8 853.5 L350.2 861.7 L350.6 861.7 L351.1 865.4 L351.5 853.2 L351.9 853.9 L352.3 848.6 L352.7 846.3 L353.2 840.4 L353.6 860.5 L354.0 845.9 L354.4 845.8 L354.8 853.8 L355.3 853.5 L355.7 851.3 L356.1 850.2 L356.5 851.8 L356.9 847.8 L357.4 866.3 L357.8 853.5 L358.2 847.1 L358.6 857.2 L359.0 852.7 L359.5 869.5 L359.9 858.0 L360.3 858.0 L360.7 838.6 L361.1 852.5 L361.6 854.4 L362.0 864.1 L362.4 858.6 L362.8 854.6 L363.2 862.8 L363.7 858.7 L364.1 859.3 L364.5 876.5 L364.9 861.2 L365.3 870.7 L365.8 863.5 L366.2 858.5 L366.6 877.9 L367.0 867.9 L367.4 875.2 L367.9 884.0 L368.3 878.5 L368.7 882.7 L369.1 888.8 L369.5 882.0 L370.0 878.4 L370.4 891.0 L370.8 895.0 L371.2 899.5 L371.6 902.3 L372.1 902.2 L372.5 898.5 L372.9 901.5 L373.3 904.2 L373.7 914.1 L374.2 904.4 L374.6 904.5 L375.0 904.8 L375.4 918.3 L375.8 918.7 L376.3 926.1 L376.7 920.6 L377.1 927.0 L377.5 927.8 L377.9 927.0 L378.4 926.1 L378.8 938.9 L379.2 933.1 L379.6 936.2 L380.0 945.7 L380.5 939.4 L380.9 946.2 L381.3 942.7 L381.7 949.0 L382.1 953.6 L382.6 951.5 L383.0 958.0 L383.4 961.3 L383.8 959.9 L384.2 966.3 L384.7 963.8 L385.1 963.6 L385.5 964.4 L385.9 965.0 L386.3 965.7 L386.8 966.1 L387.2 966.0 L387.6 966.0 L388.0 965.7 L388.4 965.9 L388.9 965.4 L389.3 966.0 L389.7 966.1 L390.1 965.9 L390.5 965.9 L391.0 965.8 L391.4 965.4 L391.8 966.1 L392.2 965.9 L392.6 966.0 L393.1 966.0 L393.5 966.1 L393.9 966.1 L394.3 966.2 L394.7 965.9 L395.2 965.9 L395.6 966.0 L396.0 965.6 L396.4 966.0 L396.8 965.9 L397.3 965.9 L397.7 966.0 L398.1 966.1" fill="none" stroke="#141414" stroke-width="2.3" stroke-linejoin="round"/>
<line x1="308.7" y1="751.6" x2="308.7" y2="966.3" stroke="#282828" stroke-width="1.1"/>
<line x1="308.7" y1="966.3" x2="521.8" y2="966.3" stroke="#282828" stroke-width="1.1"/>
<line x1="309.1" y1="840.0" x2="309.1" y2="966.3" stroke="#222" stroke-width="1.8"/>
<line x1="306.2" y1="751.6" x2="308.7" y2="751.6" stroke="#282828" stroke-width="0.8800000000000001"/>
<line x1="306.2" y1="805.3" x2="308.7" y2="805.3" stroke="#282828" stroke-width="0.8800000000000001"/>
<line x1="306.2" y1="859.0" x2="308.7" y2="859.0" stroke="#282828" stroke-width="0.8800000000000001"/>
<line x1="306.2" y1="912.6" x2="308.7" y2="912.6" stroke="#282828" stroke-width="0.8800000000000001"/>
<line x1="306.2" y1="966.3" x2="308.7" y2="966.3" stroke="#282828" stroke-width="0.8800000000000001"/>
<line x1="308.7" y1="966.3" x2="308.7" y2="969.7" stroke="#282828" stroke-width="1.1"/>
<text x="308.7" y="986.0" font-size="13" text-anchor="middle">10<tspan font-size="9.5" dy="-5.4">0</tspan></text>
<line x1="324.7" y1="966.3" x2="324.7" y2="968.1" stroke="#282828" stroke-width="0.66"/>
<line x1="334.1" y1="966.3" x2="334.1" y2="968.1" stroke="#282828" stroke-width="0.66"/>
<line x1="340.8" y1="966.3" x2="340.8" y2="968.1" stroke="#282828" stroke-width="0.66"/>
<line x1="345.9" y1="966.3" x2="345.9" y2="968.1" stroke="#282828" stroke-width="0.66"/>
<line x1="350.2" y1="966.3" x2="350.2" y2="968.1" stroke="#282828" stroke-width="0.66"/>
<line x1="353.7" y1="966.3" x2="353.7" y2="968.1" stroke="#282828" stroke-width="0.66"/>
<line x1="356.8" y1="966.3" x2="356.8" y2="968.1" stroke="#282828" stroke-width="0.66"/>
<line x1="359.5" y1="966.3" x2="359.5" y2="968.1" stroke="#282828" stroke-width="0.66"/>
<line x1="362.0" y1="966.3" x2="362.0" y2="969.7" stroke="#282828" stroke-width="1.1"/>
<text x="362.0" y="986.0" font-size="13" text-anchor="middle">10<tspan font-size="9.5" dy="-5.4">1</tspan></text>
<line x1="378.0" y1="966.3" x2="378.0" y2="968.1" stroke="#282828" stroke-width="0.66"/>
<line x1="387.4" y1="966.3" x2="387.4" y2="968.1" stroke="#282828" stroke-width="0.66"/>
<line x1="394.0" y1="966.3" x2="394.0" y2="968.1" stroke="#282828" stroke-width="0.66"/>
<line x1="399.2" y1="966.3" x2="399.2" y2="968.1" stroke="#282828" stroke-width="0.66"/>
<line x1="403.4" y1="966.3" x2="403.4" y2="968.1" stroke="#282828" stroke-width="0.66"/>
<line x1="407.0" y1="966.3" x2="407.0" y2="968.1" stroke="#282828" stroke-width="0.66"/>
<line x1="410.1" y1="966.3" x2="410.1" y2="968.1" stroke="#282828" stroke-width="0.66"/>
<line x1="412.8" y1="966.3" x2="412.8" y2="968.1" stroke="#282828" stroke-width="0.66"/>
<line x1="415.2" y1="966.3" x2="415.2" y2="969.7" stroke="#282828" stroke-width="1.1"/>
<text x="415.2" y="986.0" font-size="13" text-anchor="middle">10<tspan font-size="9.5" dy="-5.4">2</tspan></text>
<line x1="431.3" y1="966.3" x2="431.3" y2="968.1" stroke="#282828" stroke-width="0.66"/>
<line x1="440.7" y1="966.3" x2="440.7" y2="968.1" stroke="#282828" stroke-width="0.66"/>
<line x1="447.3" y1="966.3" x2="447.3" y2="968.1" stroke="#282828" stroke-width="0.66"/>
<line x1="452.5" y1="966.3" x2="452.5" y2="968.1" stroke="#282828" stroke-width="0.66"/>
<line x1="456.7" y1="966.3" x2="456.7" y2="968.1" stroke="#282828" stroke-width="0.66"/>
<line x1="460.3" y1="966.3" x2="460.3" y2="968.1" stroke="#282828" stroke-width="0.66"/>
<line x1="463.4" y1="966.3" x2="463.4" y2="968.1" stroke="#282828" stroke-width="0.66"/>
<line x1="466.1" y1="966.3" x2="466.1" y2="968.1" stroke="#282828" stroke-width="0.66"/>
<line x1="468.5" y1="966.3" x2="468.5" y2="969.7" stroke="#282828" stroke-width="1.1"/>
<text x="468.5" y="986.0" font-size="13" text-anchor="middle">10<tspan font-size="9.5" dy="-5.4">3</tspan></text>
<line x1="484.6" y1="966.3" x2="484.6" y2="968.1" stroke="#282828" stroke-width="0.66"/>
<line x1="493.9" y1="966.3" x2="493.9" y2="968.1" stroke="#282828" stroke-width="0.66"/>
<line x1="500.6" y1="966.3" x2="500.6" y2="968.1" stroke="#282828" stroke-width="0.66"/>
<line x1="505.8" y1="966.3" x2="505.8" y2="968.1" stroke="#282828" stroke-width="0.66"/>
<line x1="510.0" y1="966.3" x2="510.0" y2="968.1" stroke="#282828" stroke-width="0.66"/>
<line x1="513.5" y1="966.3" x2="513.5" y2="968.1" stroke="#282828" stroke-width="0.66"/>
<line x1="516.6" y1="966.3" x2="516.6" y2="968.1" stroke="#282828" stroke-width="0.66"/>
<line x1="519.4" y1="966.3" x2="519.4" y2="968.1" stroke="#282828" stroke-width="0.66"/>
<line x1="521.8" y1="966.3" x2="521.8" y2="969.7" stroke="#282828" stroke-width="1.1"/>
<text x="521.8" y="986.0" font-size="13" text-anchor="middle">10<tspan font-size="9.5" dy="-5.4">4</tspan></text>
<text x="301.6" y="757.0" font-size="13" text-anchor="end">512</text>
<text x="301.6" y="972.0" font-size="13" text-anchor="end">0</text>
<text x="281.4" y="863.0" font-size="13" text-anchor="middle" transform="rotate(-90 281.4 863.0)">Events</text>
<line x1="361.8" y1="803.8" x2="520.5" y2="803.8" stroke="#3a3a3a" stroke-width="1.15"/>
<line x1="361.8" y1="801.0" x2="361.8" y2="806.6" stroke="#3a3a3a" stroke-width="1.15"/>
<line x1="520.5" y1="801.0" x2="520.5" y2="806.6" stroke="#3a3a3a" stroke-width="1.15"/>
<text x="435.5" y="793.7" font-size="19" text-anchor="middle">25.21%</text>
<text x="491.9" y="793.7" font-size="12.5">M1</text>
<text x="435.5" y="757.0" font-size="19" text-anchor="middle">pcDNA</text>
<path d="M588.7 951.8 L589.3 953.3 L589.9 946.3 L590.5 946.8 L591.1 946.9 L591.7 940.8 L592.3 941.3 L592.9 941.1 L593.5 936.5 L594.1 933.1 L594.7 932.5 L595.3 934.6 L595.9 926.6 L596.5 925.8 L597.1 924.8 L597.7 923.3 L598.3 919.4 L598.9 921.3 L599.5 922.0 L600.1 912.4 L600.7 917.1 L601.3 916.0 L601.9 908.7 L602.5 908.8 L603.1 908.3 L603.7 906.2 L604.3 900.8 L604.9 899.4 L605.5 898.8 L606.1 896.8 L606.7 893.7 L607.3 894.2 L607.9 894.5 L608.5 892.6 L609.1 881.5 L609.7 878.4 L610.3 892.3 L610.9 878.7 L611.5 878.5 L612.1 883.1 L612.7 875.8 L613.3 881.6 L613.9 872.2 L614.5 876.4 L615.1 884.3 L615.7 868.0 L616.3 869.7 L616.9 864.5 L617.5 864.9 L618.1 859.8 L618.7 862.7 L619.3 862.4 L619.9 868.2 L620.5 862.5 L621.1 862.7 L621.7 873.1 L622.3 875.0 L622.9 872.6 L623.5 875.6 L624.1 886.9 L624.7 880.7 L625.3 884.2 L625.9 883.4 L626.5 888.5 L627.1 890.5 L627.7 891.9 L628.3 896.8 L628.9 891.6 L629.5 896.5 L630.1 903.1 L630.7 900.6 L631.3 902.9 L631.9 902.6 L632.5 903.8 L633.1 900.8 L633.7 910.3 L634.3 905.3 L634.9 914.9 L635.5 916.4 L636.1 912.5 L636.7 915.9 L637.3 918.2 L637.9 916.4 L638.5 915.4 L639.1 920.0 L639.7 928.8 L640.3 924.3 L640.9 933.3 L641.5 929.3 L642.1 929.9 L642.7 929.0 L643.3 932.4 L643.9 933.3 L644.5 935.1 L645.1 937.6 L645.7 939.2 L646.3 939.9 L646.9 941.7 L647.5 944.2 L648.1 944.7 L648.7 948.2 L649.3 948.4 L649.9 952.7 L650.5 954.1 L651.1 954.3 L651.7 953.6 L652.3 957.9 L652.9 958.0 L653.5 958.4 L654.1 961.2 L654.7 960.7 L655.3 963.8 L655.9 964.1 L656.5 966.5 L657.1 965.7 L657.7 967.7 L658.3 970.6 L658.9 970.8 L659.5 971.2 L660.1 972.3 L660.7 973.4 L661.3 973.6 L661.9 973.5 L662.5 973.7 L663.1 973.7 L663.7 973.2 L664.3 973.7 L664.9 973.5 L665.5 973.0 L666.1 973.2 L666.7 973.7 L667.3 973.4 L667.9 973.6 L668.5 973.5 L669.1 973.5 L669.7 973.4 L670.3 973.7 L670.9 973.7 L671.5 973.2 L672.1 973.6 L672.7 973.4 L672.7 973.9 L588.7 973.9 Z" fill="#c6c6c6" stroke="none"/>
<path d="M588.7 951.8 L589.3 953.3 L589.9 946.3 L590.5 946.8 L591.1 946.9 L591.7 940.8 L592.3 941.3 L592.9 941.1 L593.5 936.5 L594.1 933.1 L594.7 932.5 L595.3 934.6 L595.9 926.6 L596.5 925.8 L597.1 924.8 L597.7 923.3 L598.3 919.4 L598.9 921.3 L599.5 922.0 L600.1 912.4 L600.7 917.1 L601.3 916.0 L601.9 908.7 L602.5 908.8 L603.1 908.3 L603.7 906.2 L604.3 900.8 L604.9 899.4 L605.5 898.8 L606.1 896.8 L606.7 893.7 L607.3 894.2 L607.9 894.5 L608.5 892.6 L609.1 881.5 L609.7 878.4 L610.3 892.3 L610.9 878.7 L611.5 878.5 L612.1 883.1 L612.7 875.8 L613.3 881.6 L613.9 872.2 L614.5 876.4 L615.1 884.3 L615.7 868.0 L616.3 869.7 L616.9 864.5 L617.5 864.9 L618.1 859.8 L618.7 862.7 L619.3 862.4 L619.9 868.2 L620.5 862.5 L621.1 862.7 L621.7 873.1 L622.3 875.0 L622.9 872.6 L623.5 875.6 L624.1 886.9 L624.7 880.7 L625.3 884.2 L625.9 883.4 L626.5 888.5 L627.1 890.5 L627.7 891.9 L628.3 896.8 L628.9 891.6 L629.5 896.5 L630.1 903.1 L630.7 900.6 L631.3 902.9 L631.9 902.6 L632.5 903.8 L633.1 900.8 L633.7 910.3 L634.3 905.3 L634.9 914.9 L635.5 916.4 L636.1 912.5 L636.7 915.9 L637.3 918.2 L637.9 916.4 L638.5 915.4 L639.1 920.0 L639.7 928.8 L640.3 924.3 L640.9 933.3 L641.5 929.3 L642.1 929.9 L642.7 929.0 L643.3 932.4 L643.9 933.3 L644.5 935.1 L645.1 937.6 L645.7 939.2 L646.3 939.9 L646.9 941.7 L647.5 944.2 L648.1 944.7 L648.7 948.2 L649.3 948.4 L649.9 952.7 L650.5 954.1 L651.1 954.3 L651.7 953.6 L652.3 957.9 L652.9 958.0 L653.5 958.4 L654.1 961.2 L654.7 960.7 L655.3 963.8 L655.9 964.1 L656.5 966.5 L657.1 965.7 L657.7 967.7 L658.3 970.6 L658.9 970.8 L659.5 971.2 L660.1 972.3 L660.7 973.4 L661.3 973.6 L661.9 973.5 L662.5 973.7 L663.1 973.7 L663.7 973.2 L664.3 973.7 L664.9 973.5 L665.5 973.0 L666.1 973.2 L666.7 973.7 L667.3 973.4 L667.9 973.6 L668.5 973.5 L669.1 973.5 L669.7 973.4 L670.3 973.7 L670.9 973.7 L671.5 973.2 L672.1 973.6 L672.7 973.4" fill="none" stroke="#4a4a4a" stroke-width="0.8" stroke-linejoin="round"/>
<path d="M610.0 973.4 L610.4 973.9 L610.8 973.6 L611.3 973.2 L611.7 973.3 L612.1 972.6 L612.5 971.9 L612.9 972.4 L613.4 971.3 L613.8 971.1 L614.2 972.0 L614.6 969.0 L615.0 969.2 L615.5 966.3 L615.9 966.2 L616.3 962.8 L616.7 964.5 L617.1 963.0 L617.6 964.0 L618.0 965.1 L618.4 964.1 L618.8 957.1 L619.2 956.0 L619.7 960.4 L620.1 957.0 L620.5 946.1 L620.9 945.7 L621.3 951.1 L621.8 948.0 L622.2 944.3 L622.6 941.4 L623.0 941.6 L623.4 942.3 L623.9 939.1 L624.3 936.0 L624.7 921.1 L625.1 929.5 L625.5 939.9 L626.0 932.0 L626.4 921.8 L626.8 935.8 L627.2 920.8 L627.6 912.5 L628.1 912.0 L628.5 916.9 L628.9 903.1 L629.3 906.1 L629.7 895.4 L630.2 903.2 L630.6 908.1 L631.0 897.1 L631.4 894.7 L631.8 891.7 L632.3 887.8 L632.7 890.9 L633.1 875.6 L633.5 886.2 L633.9 876.9 L634.4 880.1 L634.8 883.6 L635.2 866.2 L635.6 877.2 L636.0 874.4 L636.5 858.9 L636.9 865.2 L637.3 861.8 L637.7 854.3 L638.1 863.3 L638.6 852.6 L639.0 850.4 L639.4 854.4 L639.8 854.5 L640.2 853.2 L640.7 863.9 L641.1 851.6 L641.5 848.7 L641.9 840.7 L642.3 850.8 L642.8 860.9 L643.2 853.2 L643.6 882.6 L644.0 857.9 L644.4 856.9 L644.9 837.5 L645.3 882.4 L645.7 874.0 L646.1 869.6 L646.5 862.3 L647.0 864.3 L647.4 875.5 L647.8 863.8 L648.2 884.5 L648.6 858.7 L649.1 870.8 L649.5 872.0 L649.9 882.0 L650.3 872.6 L650.7 881.1 L651.2 888.4 L651.6 877.9 L652.0 880.2 L652.4 892.1 L652.8 889.4 L653.3 897.0 L653.7 886.2 L654.1 901.1 L654.5 892.7 L654.9 900.9 L655.4 897.7 L655.8 904.6 L656.2 909.0 L656.6 904.8 L657.0 907.4 L657.5 916.2 L657.9 910.1 L658.3 906.9 L658.7 915.4 L659.1 909.7 L659.6 924.5 L660.0 923.5 L660.4 926.7 L660.8 932.5 L661.2 932.4 L661.7 926.1 L662.1 932.5 L662.5 932.6 L662.9 930.9 L663.3 935.9 L663.8 932.0 L664.2 941.3 L664.6 940.6 L665.0 945.6 L665.4 931.0 L665.9 940.5 L666.3 946.1 L666.7 951.0 L667.1 945.1 L667.5 948.5 L668.0 947.1 L668.4 951.3 L668.8 948.2 L669.2 953.0 L669.6 961.3 L670.1 958.8 L670.5 960.7 L670.9 959.6 L671.3 958.3 L671.7 966.6 L672.2 964.4 L672.6 967.9 L673.0 969.3 L673.4 973.1 L673.8 971.3 L674.3 971.9 L674.7 972.8 L675.1 973.2 L675.5 973.6 L675.9 973.7 L676.4 973.3 L676.8 973.2 L677.2 973.5 L677.6 973.5 L678.0 973.2 L678.5 973.5 L678.9 973.7 L679.3 973.7 L679.7 973.4 L680.1 973.4 L680.6 973.6 L681.0 973.5 L681.4 973.4 L681.8 972.8 L682.2 973.6 L682.7 973.8 L683.1 973.5 L683.5 973.6 L683.9 973.4 L684.3 973.3 L684.8 973.5 L685.2 973.7 L685.6 973.7 L686.0 973.7 L686.4 973.5 L686.9 973.6" fill="none" stroke="#141414" stroke-width="3.0" stroke-linejoin="round"/>
<line x1="588.7" y1="773.9" x2="588.7" y2="973.9" stroke="#282828" stroke-width="1.1"/>
<line x1="588.7" y1="973.9" x2="810.2" y2="973.9" stroke="#282828" stroke-width="1.1"/>
<line x1="589.1" y1="873.7" x2="589.1" y2="973.9" stroke="#222" stroke-width="1.8"/>
<line x1="586.2" y1="773.9" x2="588.7" y2="773.9" stroke="#282828" stroke-width="0.8800000000000001"/>
<line x1="586.2" y1="823.9" x2="588.7" y2="823.9" stroke="#282828" stroke-width="0.8800000000000001"/>
<line x1="586.2" y1="873.9" x2="588.7" y2="873.9" stroke="#282828" stroke-width="0.8800000000000001"/>
<line x1="586.2" y1="923.9" x2="588.7" y2="923.9" stroke="#282828" stroke-width="0.8800000000000001"/>
<line x1="586.2" y1="973.9" x2="588.7" y2="973.9" stroke="#282828" stroke-width="0.8800000000000001"/>
<line x1="588.7" y1="973.9" x2="588.7" y2="977.3" stroke="#282828" stroke-width="1.1"/>
<text x="588.7" y="992.4" font-size="13" text-anchor="middle">10<tspan font-size="9.5" dy="-5.4">0</tspan></text>
<line x1="605.4" y1="973.9" x2="605.4" y2="975.7" stroke="#282828" stroke-width="0.66"/>
<line x1="615.1" y1="973.9" x2="615.1" y2="975.7" stroke="#282828" stroke-width="0.66"/>
<line x1="622.0" y1="973.9" x2="622.0" y2="975.7" stroke="#282828" stroke-width="0.66"/>
<line x1="627.4" y1="973.9" x2="627.4" y2="975.7" stroke="#282828" stroke-width="0.66"/>
<line x1="631.8" y1="973.9" x2="631.8" y2="975.7" stroke="#282828" stroke-width="0.66"/>
<line x1="635.5" y1="973.9" x2="635.5" y2="975.7" stroke="#282828" stroke-width="0.66"/>
<line x1="638.7" y1="973.9" x2="638.7" y2="975.7" stroke="#282828" stroke-width="0.66"/>
<line x1="641.5" y1="973.9" x2="641.5" y2="975.7" stroke="#282828" stroke-width="0.66"/>
<line x1="644.1" y1="973.9" x2="644.1" y2="977.3" stroke="#282828" stroke-width="1.1"/>
<text x="644.1" y="992.4" font-size="13" text-anchor="middle">10<tspan font-size="9.5" dy="-5.4">1</tspan></text>
<line x1="660.7" y1="973.9" x2="660.7" y2="975.7" stroke="#282828" stroke-width="0.66"/>
<line x1="670.5" y1="973.9" x2="670.5" y2="975.7" stroke="#282828" stroke-width="0.66"/>
<line x1="677.4" y1="973.9" x2="677.4" y2="975.7" stroke="#282828" stroke-width="0.66"/>
<line x1="682.8" y1="973.9" x2="682.8" y2="975.7" stroke="#282828" stroke-width="0.66"/>
<line x1="687.2" y1="973.9" x2="687.2" y2="975.7" stroke="#282828" stroke-width="0.66"/>
<line x1="690.9" y1="973.9" x2="690.9" y2="975.7" stroke="#282828" stroke-width="0.66"/>
<line x1="694.1" y1="973.9" x2="694.1" y2="975.7" stroke="#282828" stroke-width="0.66"/>
<line x1="696.9" y1="973.9" x2="696.9" y2="975.7" stroke="#282828" stroke-width="0.66"/>
<line x1="699.5" y1="973.9" x2="699.5" y2="977.3" stroke="#282828" stroke-width="1.1"/>
<text x="699.5" y="992.4" font-size="13" text-anchor="middle">10<tspan font-size="9.5" dy="-5.4">2</tspan></text>
<line x1="716.1" y1="973.9" x2="716.1" y2="975.7" stroke="#282828" stroke-width="0.66"/>
<line x1="725.9" y1="973.9" x2="725.9" y2="975.7" stroke="#282828" stroke-width="0.66"/>
<line x1="732.8" y1="973.9" x2="732.8" y2="975.7" stroke="#282828" stroke-width="0.66"/>
<line x1="738.2" y1="973.9" x2="738.2" y2="975.7" stroke="#282828" stroke-width="0.66"/>
<line x1="742.5" y1="973.9" x2="742.5" y2="975.7" stroke="#282828" stroke-width="0.66"/>
<line x1="746.2" y1="973.9" x2="746.2" y2="975.7" stroke="#282828" stroke-width="0.66"/>
<line x1="749.5" y1="973.9" x2="749.5" y2="975.7" stroke="#282828" stroke-width="0.66"/>
<line x1="752.3" y1="973.9" x2="752.3" y2="975.7" stroke="#282828" stroke-width="0.66"/>
<line x1="754.8" y1="973.9" x2="754.8" y2="977.3" stroke="#282828" stroke-width="1.1"/>
<text x="754.8" y="992.4" font-size="13" text-anchor="middle">10<tspan font-size="9.5" dy="-5.4">3</tspan></text>
<line x1="771.5" y1="973.9" x2="771.5" y2="975.7" stroke="#282828" stroke-width="0.66"/>
<line x1="781.2" y1="973.9" x2="781.2" y2="975.7" stroke="#282828" stroke-width="0.66"/>
<line x1="788.2" y1="973.9" x2="788.2" y2="975.7" stroke="#282828" stroke-width="0.66"/>
<line x1="793.5" y1="973.9" x2="793.5" y2="975.7" stroke="#282828" stroke-width="0.66"/>
<line x1="797.9" y1="973.9" x2="797.9" y2="975.7" stroke="#282828" stroke-width="0.66"/>
<line x1="801.6" y1="973.9" x2="801.6" y2="975.7" stroke="#282828" stroke-width="0.66"/>
<line x1="804.8" y1="973.9" x2="804.8" y2="975.7" stroke="#282828" stroke-width="0.66"/>
<line x1="807.7" y1="973.9" x2="807.7" y2="975.7" stroke="#282828" stroke-width="0.66"/>
<line x1="810.2" y1="973.9" x2="810.2" y2="977.3" stroke="#282828" stroke-width="1.1"/>
<text x="810.2" y="992.4" font-size="13" text-anchor="middle">10<tspan font-size="9.5" dy="-5.4">4</tspan></text>
<text x="580.3" y="778.0" font-size="13" text-anchor="end">128</text>
<text x="580.3" y="978.5" font-size="13" text-anchor="end">0</text>
<text x="560.5" y="875.8" font-size="13" text-anchor="middle" transform="rotate(-90 560.5 875.8)">Events</text>
<line x1="646.8" y1="808.8" x2="771.0" y2="808.8" stroke="#3a3a3a" stroke-width="1.15"/>
<line x1="646.8" y1="806.0" x2="646.8" y2="811.6" stroke="#3a3a3a" stroke-width="1.15"/>
<line x1="771.0" y1="806.0" x2="771.0" y2="811.6" stroke="#3a3a3a" stroke-width="1.15"/>
<text x="694.4" y="793.7" font-size="19" text-anchor="middle">39.24%</text>
<text x="745.8" y="801.3" font-size="12.5">M1</text>
<text x="720.5" y="757.0" font-size="19" text-anchor="middle">pcDNA-<tspan font-style="italic">SALL4</tspan></text>
<rect x="68.5" y="1011.4" width="298.5" height="4.6" fill="#231f20"/>
<path d="M366.5 1006.9 L380.5 1013.7 L366.5 1020.5 Z" fill="#231f20"/>
<text x="387.0" y="1019.8" font-size="18.8">PD-L1 on HBV<tspan font-size="12.5" dy="-7.2" dx="-0.8">+</tspan><tspan dy="7.2" dx="-0.5">HLCZ01</tspan></text>
<text x="19.5" y="1056.8" font-size="27" font-weight="bold">g</text>
<path d="M66.0 1263.1 L66.6 1261.7 L67.2 1259.1 L67.8 1258.2 L68.4 1257.0 L69.0 1249.2 L69.6 1244.8 L70.2 1243.4 L70.8 1235.3 L71.4 1236.7 L72.0 1230.5 L72.6 1221.6 L73.2 1227.5 L73.8 1213.7 L74.4 1212.2 L75.0 1208.7 L75.6 1203.4 L76.2 1195.3 L76.8 1190.8 L77.4 1181.7 L78.0 1181.0 L78.6 1179.4 L79.2 1170.2 L79.8 1164.4 L80.4 1159.6 L81.0 1159.8 L81.6 1151.7 L82.2 1149.9 L82.8 1135.2 L83.4 1143.8 L84.0 1125.4 L84.6 1124.9 L85.2 1122.3 L85.8 1127.7 L86.4 1130.3 L87.0 1124.7 L87.6 1131.6 L88.2 1134.8 L88.8 1136.6 L89.4 1141.7 L90.0 1143.9 L90.6 1157.4 L91.2 1158.9 L91.8 1157.0 L92.4 1160.5 L93.0 1161.6 L93.6 1167.5 L94.2 1170.5 L94.8 1181.7 L95.4 1180.7 L96.0 1178.1 L96.6 1187.0 L97.2 1183.0 L97.8 1193.8 L98.4 1195.7 L99.0 1193.5 L99.6 1204.2 L100.2 1204.9 L100.8 1205.1 L101.4 1207.0 L102.0 1209.0 L102.6 1211.3 L103.2 1212.0 L103.8 1214.7 L104.4 1223.2 L105.0 1222.8 L105.6 1220.0 L106.2 1228.6 L106.8 1227.9 L107.4 1229.9 L108.0 1232.1 L108.6 1238.2 L109.2 1236.4 L109.8 1237.3 L110.4 1242.2 L111.0 1242.4 L111.6 1243.4 L112.2 1248.8 L112.8 1247.9 L113.4 1251.0 L114.0 1251.2 L114.6 1251.4 L115.2 1256.0 L115.8 1253.9 L116.4 1256.2 L117.0 1257.6 L117.6 1259.0 L118.2 1259.7 L118.8 1259.5 L119.4 1261.0 L120.0 1260.0 L120.6 1260.6 L121.2 1260.6 L121.8 1261.5 L122.4 1262.3 L123.0 1262.5 L123.6 1262.8 L124.2 1263.0 L124.8 1262.7 L125.4 1262.8 L126.0 1262.8 L126.6 1262.6 L127.2 1263.0 L127.8 1262.8 L128.4 1262.9 L129.0 1263.1 L129.6 1263.1 L130.2 1262.9 L130.8 1262.6 L131.4 1263.1 L132.0 1262.8 L132.6 1262.5 L133.2 1262.9 L133.8 1263.0 L134.4 1263.1 L135.0 1263.1 L135.6 1262.4 L136.2 1262.7 L136.8 1263.0 L136.8 1263.3 L66.0 1263.3 Z" fill="#c6c6c6" stroke="none"/>
<path d="M66.0 1263.1 L66.6 1261.7 L67.2 1259.1 L67.8 1258.2 L68.4 1257.0 L69.0 1249.2 L69.6 1244.8 L70.2 1243.4 L70.8 1235.3 L71.4 1236.7 L72.0 1230.5 L72.6 1221.6 L73.2 1227.5 L73.8 1213.7 L74.4 1212.2 L75.0 1208.7 L75.6 1203.4 L76.2 1195.3 L76.8 1190.8 L77.4 1181.7 L78.0 1181.0 L78.6 1179.4 L79.2 1170.2 L79.8 1164.4 L80.4 1159.6 L81.0 1159.8 L81.6 1151.7 L82.2 1149.9 L82.8 1135.2 L83.4 1143.8 L84.0 1125.4 L84.6 1124.9 L85.2 1122.3 L85.8 1127.7 L86.4 1130.3 L87.0 1124.7 L87.6 1131.6 L88.2 1134.8 L88.8 1136.6 L89.4 1141.7 L90.0 1143.9 L90.6 1157.4 L91.2 1158.9 L91.8 1157.0 L92.4 1160.5 L93.0 1161.6 L93.6 1167.5 L94.2 1170.5 L94.8 1181.7 L95.4 1180.7 L96.0 1178.1 L96.6 1187.0 L97.2 1183.0 L97.8 1193.8 L98.4 1195.7 L99.0 1193.5 L99.6 1204.2 L100.2 1204.9 L100.8 1205.1 L101.4 1207.0 L102.0 1209.0 L102.6 1211.3 L103.2 1212.0 L103.8 1214.7 L104.4 1223.2 L105.0 1222.8 L105.6 1220.0 L106.2 1228.6 L106.8 1227.9 L107.4 1229.9 L108.0 1232.1 L108.6 1238.2 L109.2 1236.4 L109.8 1237.3 L110.4 1242.2 L111.0 1242.4 L111.6 1243.4 L112.2 1248.8 L112.8 1247.9 L113.4 1251.0 L114.0 1251.2 L114.6 1251.4 L115.2 1256.0 L115.8 1253.9 L116.4 1256.2 L117.0 1257.6 L117.6 1259.0 L118.2 1259.7 L118.8 1259.5 L119.4 1261.0 L120.0 1260.0 L120.6 1260.6 L121.2 1260.6 L121.8 1261.5 L122.4 1262.3 L123.0 1262.5 L123.6 1262.8 L124.2 1263.0 L124.8 1262.7 L125.4 1262.8 L126.0 1262.8 L126.6 1262.6 L127.2 1263.0 L127.8 1262.8 L128.4 1262.9 L129.0 1263.1 L129.6 1263.1 L130.2 1262.9 L130.8 1262.6 L131.4 1263.1 L132.0 1262.8 L132.6 1262.5 L133.2 1262.9 L133.8 1263.0 L134.4 1263.1 L135.0 1263.1 L135.6 1262.4 L136.2 1262.7 L136.8 1263.0" fill="none" stroke="#4a4a4a" stroke-width="0.8" stroke-linejoin="round"/>
<path d="M75.0 1263.2 L75.4 1261.5 L75.8 1260.7 L76.3 1258.3 L76.7 1257.6 L77.1 1260.8 L77.5 1253.5 L77.9 1255.2 L78.4 1249.1 L78.8 1243.3 L79.2 1246.1 L79.6 1237.0 L80.0 1241.9 L80.5 1235.2 L80.9 1229.6 L81.3 1231.8 L81.7 1227.0 L82.1 1216.8 L82.6 1226.4 L83.0 1217.5 L83.4 1219.9 L83.8 1206.1 L84.2 1208.0 L84.7 1193.5 L85.1 1202.5 L85.5 1207.6 L85.9 1196.2 L86.3 1194.5 L86.8 1200.4 L87.2 1189.9 L87.6 1189.4 L88.0 1187.5 L88.4 1194.0 L88.9 1171.2 L89.3 1179.0 L89.7 1174.3 L90.1 1158.1 L90.5 1177.9 L91.0 1165.8 L91.4 1175.7 L91.8 1164.0 L92.2 1156.1 L92.6 1167.4 L93.1 1171.6 L93.5 1151.8 L93.9 1139.8 L94.3 1144.9 L94.7 1149.3 L95.2 1149.4 L95.6 1146.3 L96.0 1139.2 L96.4 1119.9 L96.8 1141.0 L97.3 1128.7 L97.7 1138.9 L98.1 1140.3 L98.5 1129.8 L98.9 1131.6 L99.4 1153.1 L99.8 1140.0 L100.2 1135.9 L100.6 1143.0 L101.0 1155.4 L101.5 1152.3 L101.9 1138.4 L102.3 1153.4 L102.7 1156.0 L103.1 1164.1 L103.6 1165.6 L104.0 1173.2 L104.4 1163.6 L104.8 1176.8 L105.2 1174.1 L105.7 1173.8 L106.1 1159.8 L106.5 1181.6 L106.9 1178.8 L107.3 1178.3 L107.8 1179.8 L108.2 1188.9 L108.6 1177.2 L109.0 1185.8 L109.4 1185.5 L109.9 1187.1 L110.3 1183.1 L110.7 1197.8 L111.1 1191.2 L111.5 1211.8 L112.0 1203.7 L112.4 1200.8 L112.8 1217.6 L113.2 1205.0 L113.6 1198.7 L114.1 1209.0 L114.5 1203.8 L114.9 1192.6 L115.3 1206.0 L115.7 1209.2 L116.2 1215.1 L116.6 1220.5 L117.0 1217.7 L117.4 1218.4 L117.8 1216.5 L118.3 1218.2 L118.7 1219.2 L119.1 1226.8 L119.5 1230.0 L119.9 1228.4 L120.4 1230.0 L120.8 1231.9 L121.2 1230.7 L121.6 1233.6 L122.0 1235.1 L122.5 1230.6 L122.9 1232.1 L123.3 1239.0 L123.7 1236.4 L124.1 1242.8 L124.6 1242.8 L125.0 1240.9 L125.4 1242.7 L125.8 1242.0 L126.2 1245.6 L126.7 1244.6 L127.1 1243.9 L127.5 1245.6 L127.9 1250.9 L128.3 1249.1 L128.8 1250.0 L129.2 1249.2 L129.6 1248.1 L130.0 1248.4 L130.4 1248.7 L130.9 1251.3 L131.3 1257.2 L131.7 1252.3 L132.1 1252.7 L132.5 1250.5 L133.0 1247.3 L133.4 1245.9 L133.8 1259.2 L134.2 1252.9 L134.6 1250.5 L135.1 1255.5 L135.5 1253.1 L135.9 1253.1 L136.3 1248.9 L136.7 1248.1 L137.2 1248.5 L137.6 1252.1 L138.0 1251.9 L138.4 1247.9 L138.8 1244.9 L139.3 1250.0 L139.7 1250.8 L140.1 1243.8 L140.5 1249.0 L140.9 1240.9 L141.4 1247.2 L141.8 1244.3 L142.2 1243.0 L142.6 1239.9 L143.0 1245.4 L143.5 1242.9 L143.9 1242.4 L144.3 1239.6 L144.7 1248.6 L145.1 1252.0 L145.6 1246.1 L146.0 1245.2 L146.4 1244.1 L146.8 1240.3 L147.2 1242.6 L147.7 1246.5 L148.1 1247.6 L148.5 1243.0 L148.9 1236.1 L149.3 1240.2 L149.8 1243.2 L150.2 1244.1 L150.6 1240.1 L151.0 1242.1 L151.4 1244.4 L151.9 1243.7 L152.3 1241.1 L152.7 1244.1 L153.1 1239.8 L153.5 1246.7 L154.0 1245.5 L154.4 1248.5 L154.8 1249.1 L155.2 1253.0 L155.6 1254.2 L156.1 1253.7 L156.5 1250.4 L156.9 1247.0 L157.3 1253.9 L157.7 1245.2 L158.2 1253.0 L158.6 1249.7 L159.0 1252.6 L159.4 1256.4 L159.8 1253.1 L160.3 1253.7 L160.7 1255.3 L161.1 1257.5 L161.5 1253.4 L161.9 1254.5 L162.4 1256.2 L162.8 1256.6 L163.2 1256.8 L163.6 1260.4 L164.0 1257.4 L164.5 1258.6 L164.9 1256.6 L165.3 1259.6 L165.7 1256.3 L166.1 1259.9 L166.6 1259.5 L167.0 1258.9 L167.4 1262.7 L167.8 1260.5 L168.2 1260.7 L168.7 1261.0 L169.1 1260.5 L169.5 1261.2 L169.9 1261.1 L170.3 1261.4 L170.8 1261.8 L171.2 1261.2 L171.6 1262.0 L172.0 1261.8 L172.4 1262.0 L172.9 1261.6 L173.3 1262.0 L173.7 1262.4 L174.1 1262.4 L174.5 1262.0 L175.0 1262.4 L175.4 1262.8 L175.8 1261.9 L176.2 1262.2 L176.6 1262.9 L177.1 1262.9 L177.5 1262.5 L177.9 1262.4 L178.3 1262.8 L178.7 1262.7 L179.2 1262.6 L179.6 1263.1 L180.0 1262.9" fill="none" stroke="#141414" stroke-width="1.9" stroke-linejoin="round"/>
<line x1="64.5" y1="1079.7" x2="64.5" y2="1263.3" stroke="#222" stroke-width="1.4"/>
<line x1="64.5" y1="1263.3" x2="291.8" y2="1263.3" stroke="#222" stroke-width="1.4"/>
<line x1="64.9" y1="1198.8" x2="64.9" y2="1263.3" stroke="#222" stroke-width="1.8"/>
<line x1="62.0" y1="1079.7" x2="64.5" y2="1079.7" stroke="#222" stroke-width="1.1199999999999999"/>
<line x1="62.0" y1="1125.6" x2="64.5" y2="1125.6" stroke="#222" stroke-width="1.1199999999999999"/>
<line x1="62.0" y1="1171.5" x2="64.5" y2="1171.5" stroke="#222" stroke-width="1.1199999999999999"/>
<line x1="62.0" y1="1217.4" x2="64.5" y2="1217.4" stroke="#222" stroke-width="1.1199999999999999"/>
<line x1="62.0" y1="1263.3" x2="64.5" y2="1263.3" stroke="#222" stroke-width="1.1199999999999999"/>
<line x1="64.5" y1="1263.3" x2="64.5" y2="1266.7" stroke="#222" stroke-width="1.4"/>
<text x="66.0" y="1283.2" font-size="13" text-anchor="middle">10<tspan font-size="9.5" dy="-5.4">0</tspan></text>
<line x1="81.6" y1="1263.3" x2="81.6" y2="1265.1" stroke="#222" stroke-width="0.84"/>
<line x1="91.6" y1="1263.3" x2="91.6" y2="1265.1" stroke="#222" stroke-width="0.84"/>
<line x1="98.7" y1="1263.3" x2="98.7" y2="1265.1" stroke="#222" stroke-width="0.84"/>
<line x1="104.2" y1="1263.3" x2="104.2" y2="1265.1" stroke="#222" stroke-width="0.84"/>
<line x1="108.7" y1="1263.3" x2="108.7" y2="1265.1" stroke="#222" stroke-width="0.84"/>
<line x1="112.5" y1="1263.3" x2="112.5" y2="1265.1" stroke="#222" stroke-width="0.84"/>
<line x1="115.8" y1="1263.3" x2="115.8" y2="1265.1" stroke="#222" stroke-width="0.84"/>
<line x1="118.7" y1="1263.3" x2="118.7" y2="1265.1" stroke="#222" stroke-width="0.84"/>
<line x1="121.3" y1="1263.3" x2="121.3" y2="1266.7" stroke="#222" stroke-width="1.4"/>
<text x="122.8" y="1283.2" font-size="13" text-anchor="middle">10<tspan font-size="9.5" dy="-5.4">1</tspan></text>
<line x1="138.4" y1="1263.3" x2="138.4" y2="1265.1" stroke="#222" stroke-width="0.84"/>
<line x1="148.4" y1="1263.3" x2="148.4" y2="1265.1" stroke="#222" stroke-width="0.84"/>
<line x1="155.5" y1="1263.3" x2="155.5" y2="1265.1" stroke="#222" stroke-width="0.84"/>
<line x1="161.0" y1="1263.3" x2="161.0" y2="1265.1" stroke="#222" stroke-width="0.84"/>
<line x1="165.5" y1="1263.3" x2="165.5" y2="1265.1" stroke="#222" stroke-width="0.84"/>
<line x1="169.3" y1="1263.3" x2="169.3" y2="1265.1" stroke="#222" stroke-width="0.84"/>
<line x1="172.6" y1="1263.3" x2="172.6" y2="1265.1" stroke="#222" stroke-width="0.84"/>
<line x1="175.5" y1="1263.3" x2="175.5" y2="1265.1" stroke="#222" stroke-width="0.84"/>
<line x1="178.2" y1="1263.3" x2="178.2" y2="1266.7" stroke="#222" stroke-width="1.4"/>
<text x="179.7" y="1283.2" font-size="13" text-anchor="middle">10<tspan font-size="9.5" dy="-5.4">2</tspan></text>
<line x1="195.3" y1="1263.3" x2="195.3" y2="1265.1" stroke="#222" stroke-width="0.84"/>
<line x1="205.3" y1="1263.3" x2="205.3" y2="1265.1" stroke="#222" stroke-width="0.84"/>
<line x1="212.4" y1="1263.3" x2="212.4" y2="1265.1" stroke="#222" stroke-width="0.84"/>
<line x1="217.9" y1="1263.3" x2="217.9" y2="1265.1" stroke="#222" stroke-width="0.84"/>
<line x1="222.4" y1="1263.3" x2="222.4" y2="1265.1" stroke="#222" stroke-width="0.84"/>
<line x1="226.2" y1="1263.3" x2="226.2" y2="1265.1" stroke="#222" stroke-width="0.84"/>
<line x1="229.5" y1="1263.3" x2="229.5" y2="1265.1" stroke="#222" stroke-width="0.84"/>
<line x1="232.4" y1="1263.3" x2="232.4" y2="1265.1" stroke="#222" stroke-width="0.84"/>
<line x1="235.0" y1="1263.3" x2="235.0" y2="1266.7" stroke="#222" stroke-width="1.4"/>
<text x="236.5" y="1283.2" font-size="13" text-anchor="middle">10<tspan font-size="9.5" dy="-5.4">3</tspan></text>
<line x1="252.1" y1="1263.3" x2="252.1" y2="1265.1" stroke="#222" stroke-width="0.84"/>
<line x1="262.1" y1="1263.3" x2="262.1" y2="1265.1" stroke="#222" stroke-width="0.84"/>
<line x1="269.2" y1="1263.3" x2="269.2" y2="1265.1" stroke="#222" stroke-width="0.84"/>
<line x1="274.7" y1="1263.3" x2="274.7" y2="1265.1" stroke="#222" stroke-width="0.84"/>
<line x1="279.2" y1="1263.3" x2="279.2" y2="1265.1" stroke="#222" stroke-width="0.84"/>
<line x1="283.0" y1="1263.3" x2="283.0" y2="1265.1" stroke="#222" stroke-width="0.84"/>
<line x1="286.3" y1="1263.3" x2="286.3" y2="1265.1" stroke="#222" stroke-width="0.84"/>
<line x1="289.2" y1="1263.3" x2="289.2" y2="1265.1" stroke="#222" stroke-width="0.84"/>
<line x1="291.8" y1="1263.3" x2="291.8" y2="1266.7" stroke="#222" stroke-width="1.4"/>
<text x="293.3" y="1283.2" font-size="13" text-anchor="middle">10<tspan font-size="9.5" dy="-5.4">4</tspan></text>
<text x="57.6" y="1084.7" font-size="13" text-anchor="end">512</text>
<text x="57.6" y="1268.0" font-size="13" text-anchor="end">0</text>
<text x="32.3" y="1171.5" font-size="13" text-anchor="middle" transform="rotate(-90 32.3 1171.5)">Events</text>
<line x1="117.6" y1="1125.4" x2="291.3" y2="1125.4" stroke="#3a3a3a" stroke-width="1.6"/>
<line x1="117.6" y1="1121.1" x2="117.6" y2="1129.7" stroke="#3a3a3a" stroke-width="1.6"/>
<line x1="291.3" y1="1121.1" x2="291.3" y2="1129.7" stroke="#3a3a3a" stroke-width="1.6"/>
<text x="194.5" y="1111.5" font-size="19" text-anchor="middle">25.40%</text>
<text x="266.5" y="1116.9" font-size="12.5">M1</text>
<text x="176.2" y="1078.7" font-size="19" text-anchor="middle">Scramble</text>
<path d="M362.3 1263.1 L362.9 1261.4 L363.5 1260.2 L364.1 1259.0 L364.7 1256.4 L365.3 1255.9 L365.9 1251.2 L366.5 1249.7 L367.1 1247.8 L367.7 1243.8 L368.3 1239.1 L368.9 1237.4 L369.5 1237.0 L370.1 1229.1 L370.7 1230.8 L371.3 1226.9 L371.9 1223.1 L372.5 1217.5 L373.1 1214.5 L373.7 1215.6 L374.3 1204.6 L374.9 1200.0 L375.5 1199.5 L376.1 1200.5 L376.7 1187.8 L377.3 1181.9 L377.9 1172.2 L378.5 1170.9 L379.1 1171.7 L379.7 1161.7 L380.3 1162.8 L380.9 1152.5 L381.5 1144.1 L382.1 1140.0 L382.7 1136.2 L383.3 1120.4 L383.9 1128.7 L384.5 1119.3 L385.1 1120.1 L385.7 1107.3 L386.3 1124.5 L386.9 1118.9 L387.5 1131.3 L388.1 1125.1 L388.7 1141.9 L389.3 1141.3 L389.9 1151.9 L390.5 1153.5 L391.1 1147.4 L391.7 1159.3 L392.3 1154.0 L392.9 1165.9 L393.5 1174.0 L394.1 1177.0 L394.7 1175.6 L395.3 1181.2 L395.9 1186.2 L396.5 1189.4 L397.1 1191.8 L397.7 1195.1 L398.3 1203.8 L398.9 1203.4 L399.5 1202.9 L400.1 1207.0 L400.7 1213.3 L401.3 1215.9 L401.9 1212.5 L402.5 1217.1 L403.1 1223.8 L403.7 1227.3 L404.3 1227.0 L404.9 1233.6 L405.5 1232.7 L406.1 1239.5 L406.7 1237.3 L407.3 1236.0 L407.9 1236.7 L408.5 1243.4 L409.1 1240.7 L409.7 1246.2 L410.3 1246.3 L410.9 1246.9 L411.5 1250.3 L412.1 1249.9 L412.7 1253.7 L413.3 1256.5 L413.9 1255.7 L414.5 1256.5 L415.1 1259.1 L415.7 1256.9 L416.3 1257.1 L416.9 1258.4 L417.5 1260.7 L418.1 1259.3 L418.7 1260.9 L419.3 1262.8 L419.9 1262.5 L420.5 1264.6 L421.1 1264.9 L421.7 1264.2 L422.3 1264.4 L422.9 1265.0 L423.5 1265.3 L424.1 1265.0 L424.7 1265.4 L425.3 1265.9 L425.9 1265.9 L426.5 1266.1 L427.1 1266.3 L427.7 1266.5 L428.3 1266.3 L428.9 1266.7 L429.5 1266.2 L430.1 1266.9 L430.7 1266.9 L431.3 1267.0 L431.9 1266.6 L432.5 1266.5 L433.1 1266.0 L433.7 1266.9 L434.3 1266.2 L434.9 1266.7 L435.5 1266.2 L436.1 1266.6 L436.7 1266.5 L437.3 1266.9 L437.9 1266.5 L438.5 1266.6 L439.1 1267.1 L439.7 1267.1 L440.3 1266.8 L440.9 1266.8 L441.5 1267.0 L442.1 1266.9 L442.7 1266.3 L443.3 1266.4 L443.3 1267.3 L362.3 1267.3 Z" fill="#c6c6c6" stroke="none"/>
<path d="M362.3 1263.1 L362.9 1261.4 L363.5 1260.2 L364.1 1259.0 L364.7 1256.4 L365.3 1255.9 L365.9 1251.2 L366.5 1249.7 L367.1 1247.8 L367.7 1243.8 L368.3 1239.1 L368.9 1237.4 L369.5 1237.0 L370.1 1229.1 L370.7 1230.8 L371.3 1226.9 L371.9 1223.1 L372.5 1217.5 L373.1 1214.5 L373.7 1215.6 L374.3 1204.6 L374.9 1200.0 L375.5 1199.5 L376.1 1200.5 L376.7 1187.8 L377.3 1181.9 L377.9 1172.2 L378.5 1170.9 L379.1 1171.7 L379.7 1161.7 L380.3 1162.8 L380.9 1152.5 L381.5 1144.1 L382.1 1140.0 L382.7 1136.2 L383.3 1120.4 L383.9 1128.7 L384.5 1119.3 L385.1 1120.1 L385.7 1107.3 L386.3 1124.5 L386.9 1118.9 L387.5 1131.3 L388.1 1125.1 L388.7 1141.9 L389.3 1141.3 L389.9 1151.9 L390.5 1153.5 L391.1 1147.4 L391.7 1159.3 L392.3 1154.0 L392.9 1165.9 L393.5 1174.0 L394.1 1177.0 L394.7 1175.6 L395.3 1181.2 L395.9 1186.2 L396.5 1189.4 L397.1 1191.8 L397.7 1195.1 L398.3 1203.8 L398.9 1203.4 L399.5 1202.9 L400.1 1207.0 L400.7 1213.3 L401.3 1215.9 L401.9 1212.5 L402.5 1217.1 L403.1 1223.8 L403.7 1227.3 L404.3 1227.0 L404.9 1233.6 L405.5 1232.7 L406.1 1239.5 L406.7 1237.3 L407.3 1236.0 L407.9 1236.7 L408.5 1243.4 L409.1 1240.7 L409.7 1246.2 L410.3 1246.3 L410.9 1246.9 L411.5 1250.3 L412.1 1249.9 L412.7 1253.7 L413.3 1256.5 L413.9 1255.7 L414.5 1256.5 L415.1 1259.1 L415.7 1256.9 L416.3 1257.1 L416.9 1258.4 L417.5 1260.7 L418.1 1259.3 L418.7 1260.9 L419.3 1262.8 L419.9 1262.5 L420.5 1264.6 L421.1 1264.9 L421.7 1264.2 L422.3 1264.4 L422.9 1265.0 L423.5 1265.3 L424.1 1265.0 L424.7 1265.4 L425.3 1265.9 L425.9 1265.9 L426.5 1266.1 L427.1 1266.3 L427.7 1266.5 L428.3 1266.3 L428.9 1266.7 L429.5 1266.2 L430.1 1266.9 L430.7 1266.9 L431.3 1267.0 L431.9 1266.6 L432.5 1266.5 L433.1 1266.0 L433.7 1266.9 L434.3 1266.2 L434.9 1266.7 L435.5 1266.2 L436.1 1266.6 L436.7 1266.5 L437.3 1266.9 L437.9 1266.5 L438.5 1266.6 L439.1 1267.1 L439.7 1267.1 L440.3 1266.8 L440.9 1266.8 L441.5 1267.0 L442.1 1266.9 L442.7 1266.3 L443.3 1266.4" fill="none" stroke="#4a4a4a" stroke-width="0.8" stroke-linejoin="round"/>
<path d="M374.0 1266.8 L374.4 1266.6 L374.8 1266.0 L375.3 1265.2 L375.7 1263.7 L376.1 1262.9 L376.5 1266.2 L376.9 1261.7 L377.4 1265.6 L377.8 1259.1 L378.2 1254.8 L378.6 1257.1 L379.0 1256.4 L379.5 1252.9 L379.9 1250.4 L380.3 1245.4 L380.7 1248.0 L381.1 1245.1 L381.6 1243.9 L382.0 1242.3 L382.4 1233.4 L382.8 1238.4 L383.2 1236.4 L383.7 1229.7 L384.1 1229.7 L384.5 1224.6 L384.9 1217.4 L385.3 1215.4 L385.8 1216.4 L386.2 1221.1 L386.6 1201.6 L387.0 1209.5 L387.4 1211.8 L387.9 1202.8 L388.3 1195.0 L388.7 1195.6 L389.1 1194.5 L389.5 1198.8 L390.0 1208.4 L390.4 1188.4 L390.8 1185.0 L391.2 1187.7 L391.6 1187.0 L392.1 1194.4 L392.5 1167.8 L392.9 1175.7 L393.3 1175.8 L393.7 1169.5 L394.2 1158.3 L394.6 1160.9 L395.0 1140.5 L395.4 1165.9 L395.8 1167.1 L396.3 1154.4 L396.7 1162.0 L397.1 1162.7 L397.5 1146.1 L397.9 1129.9 L398.4 1154.8 L398.8 1143.4 L399.2 1135.0 L399.6 1130.9 L400.0 1127.0 L400.5 1134.1 L400.9 1131.3 L401.3 1130.2 L401.7 1133.6 L402.1 1145.8 L402.6 1144.2 L403.0 1138.2 L403.4 1144.8 L403.8 1147.6 L404.2 1152.7 L404.7 1162.5 L405.1 1155.3 L405.5 1152.9 L405.9 1172.4 L406.3 1163.8 L406.8 1155.3 L407.2 1144.9 L407.6 1149.9 L408.0 1170.6 L408.4 1161.9 L408.9 1175.9 L409.3 1168.5 L409.7 1188.8 L410.1 1191.5 L410.5 1192.1 L411.0 1182.4 L411.4 1191.1 L411.8 1196.6 L412.2 1196.2 L412.6 1189.8 L413.1 1194.0 L413.5 1195.4 L413.9 1203.6 L414.3 1212.9 L414.7 1197.0 L415.2 1216.9 L415.6 1205.2 L416.0 1220.1 L416.4 1214.8 L416.8 1219.7 L417.3 1222.7 L417.7 1220.0 L418.1 1220.4 L418.5 1224.0 L418.9 1234.3 L419.4 1234.2 L419.8 1231.9 L420.2 1227.8 L420.6 1229.8 L421.0 1232.2 L421.5 1237.7 L421.9 1236.9 L422.3 1237.3 L422.7 1236.3 L423.1 1240.4 L423.6 1236.8 L424.0 1244.0 L424.4 1240.1 L424.8 1244.0 L425.2 1249.4 L425.7 1247.4 L426.1 1247.8 L426.5 1253.5 L426.9 1246.2 L427.3 1246.7 L427.8 1253.1 L428.2 1253.3 L428.6 1257.7 L429.0 1254.4 L429.4 1257.7 L429.9 1261.6 L430.3 1261.1 L430.7 1259.1 L431.1 1259.6 L431.5 1262.5 L432.0 1261.3 L432.4 1263.8 L432.8 1263.1 L433.2 1261.0 L433.6 1264.2 L434.1 1264.3 L434.5 1263.8 L434.9 1265.4 L435.3 1265.7 L435.7 1266.1 L436.2 1265.9 L436.6 1266.4 L437.0 1266.2 L437.4 1266.4 L437.8 1266.9 L438.3 1266.8 L438.7 1266.8 L439.1 1266.9 L439.5 1267.0 L439.9 1266.9 L440.4 1266.7 L440.8 1266.8 L441.2 1267.1 L441.6 1266.4 L442.0 1266.5 L442.5 1267.1 L442.9 1266.8 L443.3 1266.5 L443.7 1266.8 L444.1 1267.0 L444.6 1267.2 L445.0 1267.1 L445.4 1266.1 L445.8 1266.7 L446.2 1266.7 L446.7 1267.1 L447.1 1267.1 L447.5 1267.1 L447.9 1266.6 L448.3 1266.8 L448.8 1267.0 L449.2 1266.4 L449.6 1266.8" fill="none" stroke="#141414" stroke-width="1.9" stroke-linejoin="round"/>
<line x1="362.3" y1="1093.3" x2="362.3" y2="1267.3" stroke="#2e2e2e" stroke-width="1.1"/>
<line x1="362.3" y1="1267.3" x2="616.9" y2="1267.3" stroke="#2e2e2e" stroke-width="1.1"/>
<line x1="359.8" y1="1093.3" x2="362.3" y2="1093.3" stroke="#2e2e2e" stroke-width="0.8800000000000001"/>
<line x1="359.8" y1="1136.8" x2="362.3" y2="1136.8" stroke="#2e2e2e" stroke-width="0.8800000000000001"/>
<line x1="359.8" y1="1180.3" x2="362.3" y2="1180.3" stroke="#2e2e2e" stroke-width="0.8800000000000001"/>
<line x1="359.8" y1="1223.8" x2="362.3" y2="1223.8" stroke="#2e2e2e" stroke-width="0.8800000000000001"/>
<line x1="359.8" y1="1267.3" x2="362.3" y2="1267.3" stroke="#2e2e2e" stroke-width="0.8800000000000001"/>
<line x1="362.3" y1="1267.3" x2="362.3" y2="1270.7" stroke="#2e2e2e" stroke-width="1.1"/>
<text x="361.8" y="1286.6" font-size="13" text-anchor="middle">10<tspan font-size="9.5" dy="-5.4">0</tspan></text>
<line x1="381.5" y1="1267.3" x2="381.5" y2="1269.1" stroke="#2e2e2e" stroke-width="0.66"/>
<line x1="392.7" y1="1267.3" x2="392.7" y2="1269.1" stroke="#2e2e2e" stroke-width="0.66"/>
<line x1="400.6" y1="1267.3" x2="400.6" y2="1269.1" stroke="#2e2e2e" stroke-width="0.66"/>
<line x1="406.8" y1="1267.3" x2="406.8" y2="1269.1" stroke="#2e2e2e" stroke-width="0.66"/>
<line x1="411.8" y1="1267.3" x2="411.8" y2="1269.1" stroke="#2e2e2e" stroke-width="0.66"/>
<line x1="416.1" y1="1267.3" x2="416.1" y2="1269.1" stroke="#2e2e2e" stroke-width="0.66"/>
<line x1="419.8" y1="1267.3" x2="419.8" y2="1269.1" stroke="#2e2e2e" stroke-width="0.66"/>
<line x1="423.0" y1="1267.3" x2="423.0" y2="1269.1" stroke="#2e2e2e" stroke-width="0.66"/>
<line x1="425.9" y1="1267.3" x2="425.9" y2="1270.7" stroke="#2e2e2e" stroke-width="1.1"/>
<text x="425.4" y="1286.6" font-size="13" text-anchor="middle">10<tspan font-size="9.5" dy="-5.4">1</tspan></text>
<line x1="445.1" y1="1267.3" x2="445.1" y2="1269.1" stroke="#2e2e2e" stroke-width="0.66"/>
<line x1="456.3" y1="1267.3" x2="456.3" y2="1269.1" stroke="#2e2e2e" stroke-width="0.66"/>
<line x1="464.3" y1="1267.3" x2="464.3" y2="1269.1" stroke="#2e2e2e" stroke-width="0.66"/>
<line x1="470.4" y1="1267.3" x2="470.4" y2="1269.1" stroke="#2e2e2e" stroke-width="0.66"/>
<line x1="475.5" y1="1267.3" x2="475.5" y2="1269.1" stroke="#2e2e2e" stroke-width="0.66"/>
<line x1="479.7" y1="1267.3" x2="479.7" y2="1269.1" stroke="#2e2e2e" stroke-width="0.66"/>
<line x1="483.4" y1="1267.3" x2="483.4" y2="1269.1" stroke="#2e2e2e" stroke-width="0.66"/>
<line x1="486.7" y1="1267.3" x2="486.7" y2="1269.1" stroke="#2e2e2e" stroke-width="0.66"/>
<line x1="489.6" y1="1267.3" x2="489.6" y2="1270.7" stroke="#2e2e2e" stroke-width="1.1"/>
<text x="489.1" y="1286.6" font-size="13" text-anchor="middle">10<tspan font-size="9.5" dy="-5.4">2</tspan></text>
<line x1="508.8" y1="1267.3" x2="508.8" y2="1269.1" stroke="#2e2e2e" stroke-width="0.66"/>
<line x1="520.0" y1="1267.3" x2="520.0" y2="1269.1" stroke="#2e2e2e" stroke-width="0.66"/>
<line x1="527.9" y1="1267.3" x2="527.9" y2="1269.1" stroke="#2e2e2e" stroke-width="0.66"/>
<line x1="534.1" y1="1267.3" x2="534.1" y2="1269.1" stroke="#2e2e2e" stroke-width="0.66"/>
<line x1="539.1" y1="1267.3" x2="539.1" y2="1269.1" stroke="#2e2e2e" stroke-width="0.66"/>
<line x1="543.4" y1="1267.3" x2="543.4" y2="1269.1" stroke="#2e2e2e" stroke-width="0.66"/>
<line x1="547.1" y1="1267.3" x2="547.1" y2="1269.1" stroke="#2e2e2e" stroke-width="0.66"/>
<line x1="550.3" y1="1267.3" x2="550.3" y2="1269.1" stroke="#2e2e2e" stroke-width="0.66"/>
<line x1="553.2" y1="1267.3" x2="553.2" y2="1270.7" stroke="#2e2e2e" stroke-width="1.1"/>
<text x="552.8" y="1286.6" font-size="13" text-anchor="middle">10<tspan font-size="9.5" dy="-5.4">3</tspan></text>
<line x1="572.4" y1="1267.3" x2="572.4" y2="1269.1" stroke="#2e2e2e" stroke-width="0.66"/>
<line x1="583.6" y1="1267.3" x2="583.6" y2="1269.1" stroke="#2e2e2e" stroke-width="0.66"/>
<line x1="591.6" y1="1267.3" x2="591.6" y2="1269.1" stroke="#2e2e2e" stroke-width="0.66"/>
<line x1="597.7" y1="1267.3" x2="597.7" y2="1269.1" stroke="#2e2e2e" stroke-width="0.66"/>
<line x1="602.8" y1="1267.3" x2="602.8" y2="1269.1" stroke="#2e2e2e" stroke-width="0.66"/>
<line x1="607.0" y1="1267.3" x2="607.0" y2="1269.1" stroke="#2e2e2e" stroke-width="0.66"/>
<line x1="610.7" y1="1267.3" x2="610.7" y2="1269.1" stroke="#2e2e2e" stroke-width="0.66"/>
<line x1="614.0" y1="1267.3" x2="614.0" y2="1269.1" stroke="#2e2e2e" stroke-width="0.66"/>
<line x1="616.9" y1="1267.3" x2="616.9" y2="1270.7" stroke="#2e2e2e" stroke-width="1.1"/>
<text x="616.4" y="1286.6" font-size="13" text-anchor="middle">10<tspan font-size="9.5" dy="-5.4">4</tspan></text>
<text x="356.4" y="1097.6" font-size="13" text-anchor="end">256</text>
<text x="356.4" y="1272.5" font-size="13" text-anchor="end">0</text>
<text x="329.0" y="1181.4" font-size="13" text-anchor="middle" transform="rotate(-90 329.0 1181.4)">Events</text>
<line x1="423.4" y1="1121.2" x2="617.0" y2="1121.2" stroke="#3a3a3a" stroke-width="1.15"/>
<line x1="423.4" y1="1117.6" x2="423.4" y2="1124.8" stroke="#3a3a3a" stroke-width="1.15"/>
<line x1="617.0" y1="1117.6" x2="617.0" y2="1124.8" stroke="#3a3a3a" stroke-width="1.15"/>
<text x="468.0" y="1111.8" font-size="19" text-anchor="middle">13.05%</text>
<text x="589.6" y="1116.9" font-size="12.5">M1</text>
<text x="506.2" y="1078.7" font-size="19" text-anchor="middle">si-<tspan font-style="italic">SALL4</tspan></text>
<text x="488.8" y="1303.0" font-size="13" text-anchor="middle">FL2-H</text>
<rect x="67.0" y="1303.8" width="34.9" height="3.4" fill="#231f20"/>
<path d="M101.4 1299.4 L113.1 1305.5 L101.4 1311.6 Z" fill="#231f20"/>
<text x="120.2" y="1312.0" font-size="19.1">PD-L1 on HBV<tspan font-size="12.5" dy="-7.2" dx="-0.8">+</tspan><tspan dy="7.2" dx="-0.5">HepaRG</tspan></text>
<text x="20.3" y="1359.7" font-size="27" font-weight="bold">h</text>
<path d="M75.0 1536.2 L75.6 1533.5 L76.2 1529.8 L76.8 1527.3 L77.4 1521.4 L78.0 1519.2 L78.6 1516.3 L79.2 1513.7 L79.8 1506.0 L80.4 1506.8 L81.0 1501.7 L81.6 1499.3 L82.2 1497.9 L82.8 1493.8 L83.4 1483.0 L84.0 1478.3 L84.6 1477.3 L85.2 1476.6 L85.8 1471.7 L86.4 1469.2 L87.0 1470.7 L87.6 1463.9 L88.2 1457.6 L88.8 1455.5 L89.4 1455.5 L90.0 1445.8 L90.6 1443.2 L91.2 1436.8 L91.8 1440.9 L92.4 1437.3 L93.0 1430.9 L93.6 1429.8 L94.2 1428.9 L94.8 1418.4 L95.4 1430.1 L96.0 1422.3 L96.6 1419.9 L97.2 1415.8 L97.8 1412.1 L98.4 1410.6 L99.0 1415.1 L99.6 1413.7 L100.2 1406.9 L100.8 1411.6 L101.4 1421.2 L102.0 1430.1 L102.6 1428.8 L103.2 1435.5 L103.8 1437.3 L104.4 1434.9 L105.0 1441.2 L105.6 1444.9 L106.2 1428.4 L106.8 1445.6 L107.4 1456.9 L108.0 1454.8 L108.6 1464.3 L109.2 1465.0 L109.8 1462.1 L110.4 1464.8 L111.0 1465.3 L111.6 1470.0 L112.2 1475.9 L112.8 1472.5 L113.4 1483.5 L114.0 1484.7 L114.6 1479.2 L115.2 1484.0 L115.8 1488.4 L116.4 1492.6 L117.0 1496.6 L117.6 1496.7 L118.2 1500.3 L118.8 1504.0 L119.4 1508.0 L120.0 1508.2 L120.6 1506.6 L121.2 1510.6 L121.8 1512.7 L122.4 1519.8 L123.0 1520.5 L123.6 1520.4 L124.2 1521.6 L124.8 1525.6 L125.4 1528.4 L126.0 1531.0 L126.6 1533.6 L127.2 1533.6 L127.8 1533.6 L128.4 1535.0 L129.0 1537.4 L129.6 1538.7 L130.2 1540.1 L130.8 1541.7 L131.4 1539.6 L132.0 1545.4 L132.6 1546.5 L133.2 1546.6 L133.8 1545.5 L134.4 1549.4 L135.0 1550.4 L135.6 1550.3 L136.2 1550.9 L136.8 1551.5 L137.4 1551.9 L138.0 1552.4 L138.6 1552.7 L139.2 1552.8 L139.8 1552.3 L140.4 1552.7 L141.0 1552.6 L141.6 1552.8 L142.2 1553.0 L142.8 1552.6 L143.4 1552.9 L144.0 1552.8 L144.6 1552.7 L145.2 1552.5 L145.8 1552.6 L146.4 1552.7 L147.0 1552.2 L147.6 1552.8 L148.2 1553.0 L148.8 1553.0 L149.4 1552.4 L150.0 1552.8 L150.6 1552.9 L150.6 1553.2 L75.0 1553.2 Z" fill="#c6c6c6" stroke="none"/>
<path d="M75.0 1536.2 L75.6 1533.5 L76.2 1529.8 L76.8 1527.3 L77.4 1521.4 L78.0 1519.2 L78.6 1516.3 L79.2 1513.7 L79.8 1506.0 L80.4 1506.8 L81.0 1501.7 L81.6 1499.3 L82.2 1497.9 L82.8 1493.8 L83.4 1483.0 L84.0 1478.3 L84.6 1477.3 L85.2 1476.6 L85.8 1471.7 L86.4 1469.2 L87.0 1470.7 L87.6 1463.9 L88.2 1457.6 L88.8 1455.5 L89.4 1455.5 L90.0 1445.8 L90.6 1443.2 L91.2 1436.8 L91.8 1440.9 L92.4 1437.3 L93.0 1430.9 L93.6 1429.8 L94.2 1428.9 L94.8 1418.4 L95.4 1430.1 L96.0 1422.3 L96.6 1419.9 L97.2 1415.8 L97.8 1412.1 L98.4 1410.6 L99.0 1415.1 L99.6 1413.7 L100.2 1406.9 L100.8 1411.6 L101.4 1421.2 L102.0 1430.1 L102.6 1428.8 L103.2 1435.5 L103.8 1437.3 L104.4 1434.9 L105.0 1441.2 L105.6 1444.9 L106.2 1428.4 L106.8 1445.6 L107.4 1456.9 L108.0 1454.8 L108.6 1464.3 L109.2 1465.0 L109.8 1462.1 L110.4 1464.8 L111.0 1465.3 L111.6 1470.0 L112.2 1475.9 L112.8 1472.5 L113.4 1483.5 L114.0 1484.7 L114.6 1479.2 L115.2 1484.0 L115.8 1488.4 L116.4 1492.6 L117.0 1496.6 L117.6 1496.7 L118.2 1500.3 L118.8 1504.0 L119.4 1508.0 L120.0 1508.2 L120.6 1506.6 L121.2 1510.6 L121.8 1512.7 L122.4 1519.8 L123.0 1520.5 L123.6 1520.4 L124.2 1521.6 L124.8 1525.6 L125.4 1528.4 L126.0 1531.0 L126.6 1533.6 L127.2 1533.6 L127.8 1533.6 L128.4 1535.0 L129.0 1537.4 L129.6 1538.7 L130.2 1540.1 L130.8 1541.7 L131.4 1539.6 L132.0 1545.4 L132.6 1546.5 L133.2 1546.6 L133.8 1545.5 L134.4 1549.4 L135.0 1550.4 L135.6 1550.3 L136.2 1550.9 L136.8 1551.5 L137.4 1551.9 L138.0 1552.4 L138.6 1552.7 L139.2 1552.8 L139.8 1552.3 L140.4 1552.7 L141.0 1552.6 L141.6 1552.8 L142.2 1553.0 L142.8 1552.6 L143.4 1552.9 L144.0 1552.8 L144.6 1552.7 L145.2 1552.5 L145.8 1552.6 L146.4 1552.7 L147.0 1552.2 L147.6 1552.8 L148.2 1553.0 L148.8 1553.0 L149.4 1552.4 L150.0 1552.8 L150.6 1552.9" fill="none" stroke="#4a4a4a" stroke-width="0.8" stroke-linejoin="round"/>
<path d="M78.0 1553.0 L78.4 1552.6 L78.8 1551.7 L79.3 1551.0 L79.7 1548.8 L80.1 1548.6 L80.5 1545.7 L80.9 1547.9 L81.4 1545.3 L81.8 1544.5 L82.2 1543.4 L82.6 1538.1 L83.0 1537.4 L83.5 1536.9 L83.9 1534.5 L84.3 1533.1 L84.7 1530.7 L85.1 1531.5 L85.6 1533.5 L86.0 1524.4 L86.4 1521.3 L86.8 1526.9 L87.2 1526.0 L87.7 1518.8 L88.1 1513.0 L88.5 1520.5 L88.9 1512.8 L89.3 1521.9 L89.8 1516.0 L90.2 1518.7 L90.6 1504.1 L91.0 1509.4 L91.4 1503.9 L91.9 1501.5 L92.3 1499.1 L92.7 1509.6 L93.1 1489.3 L93.5 1490.2 L94.0 1500.2 L94.4 1495.3 L94.8 1486.8 L95.2 1484.0 L95.6 1479.0 L96.1 1479.1 L96.5 1472.6 L96.9 1474.1 L97.3 1488.4 L97.7 1493.1 L98.2 1470.7 L98.6 1472.6 L99.0 1473.0 L99.4 1475.8 L99.8 1469.8 L100.3 1465.7 L100.7 1472.6 L101.1 1460.7 L101.5 1466.1 L101.9 1464.0 L102.4 1461.3 L102.8 1460.8 L103.2 1464.3 L103.6 1447.7 L104.0 1459.1 L104.5 1469.4 L104.9 1452.7 L105.3 1459.1 L105.7 1457.8 L106.1 1434.0 L106.6 1454.7 L107.0 1445.8 L107.4 1449.1 L107.8 1452.3 L108.2 1451.6 L108.7 1453.1 L109.1 1436.1 L109.5 1443.4 L109.9 1446.0 L110.3 1442.4 L110.8 1451.5 L111.2 1450.7 L111.6 1437.7 L112.0 1458.0 L112.4 1453.0 L112.9 1464.2 L113.3 1458.8 L113.7 1458.2 L114.1 1449.0 L114.5 1444.3 L115.0 1461.2 L115.4 1463.3 L115.8 1459.9 L116.2 1457.3 L116.6 1464.0 L117.1 1472.9 L117.5 1465.7 L117.9 1473.5 L118.3 1471.1 L118.7 1469.9 L119.2 1471.8 L119.6 1474.7 L120.0 1476.8 L120.4 1475.9 L120.8 1487.9 L121.3 1485.8 L121.7 1479.8 L122.1 1482.4 L122.5 1472.6 L122.9 1486.1 L123.4 1489.8 L123.8 1483.9 L124.2 1486.9 L124.6 1491.3 L125.0 1492.1 L125.5 1486.8 L125.9 1495.7 L126.3 1503.1 L126.7 1493.8 L127.1 1504.3 L127.6 1505.5 L128.0 1503.4 L128.4 1496.8 L128.8 1504.0 L129.2 1501.5 L129.7 1507.4 L130.1 1508.6 L130.5 1505.7 L130.9 1503.9 L131.3 1506.9 L131.8 1513.6 L132.2 1511.3 L132.6 1514.6 L133.0 1519.8 L133.4 1517.7 L133.9 1520.9 L134.3 1519.9 L134.7 1519.2 L135.1 1523.6 L135.5 1524.4 L136.0 1523.6 L136.4 1528.6 L136.8 1525.4 L137.2 1526.5 L137.6 1530.4 L138.1 1531.2 L138.5 1533.1 L138.9 1531.7 L139.3 1531.0 L139.7 1536.5 L140.2 1535.9 L140.6 1536.7 L141.0 1539.2 L141.4 1532.0 L141.8 1536.8 L142.3 1540.4 L142.7 1543.3 L143.1 1545.5 L143.5 1544.9 L143.9 1542.8 L144.4 1548.1 L144.8 1544.5 L145.2 1547.5 L145.6 1548.3 L146.0 1549.0 L146.5 1550.9 L146.9 1550.3 L147.3 1551.4 L147.7 1551.3 L148.1 1551.8 L148.6 1552.1 L149.0 1552.0 L149.4 1552.7 L149.8 1552.4 L150.2 1552.9 L150.7 1552.7 L151.1 1552.6 L151.5 1552.5 L151.9 1552.5 L152.3 1552.4 L152.8 1553.0 L153.2 1552.9 L153.6 1553.0 L154.0 1552.7 L154.4 1552.8 L154.9 1552.1 L155.3 1553.1 L155.7 1553.0 L156.1 1552.7 L156.5 1552.7 L157.0 1553.0 L157.4 1552.7 L157.8 1552.7 L158.2 1553.1 L158.6 1553.1 L159.1 1553.1 L159.5 1553.1 L159.9 1552.8 L160.3 1552.7 L160.7 1553.1 L161.2 1552.9 L161.6 1553.0 L162.0 1553.0" fill="none" stroke="#141414" stroke-width="1.9" stroke-linejoin="round"/>
<line x1="75.0" y1="1377.0" x2="75.0" y2="1553.2" stroke="#2e2e2e" stroke-width="1.1"/>
<line x1="75.0" y1="1553.2" x2="293.3" y2="1553.2" stroke="#2e2e2e" stroke-width="1.1"/>
<line x1="75.4" y1="1470.0" x2="75.4" y2="1553.2" stroke="#222" stroke-width="1.8"/>
<line x1="72.5" y1="1377.0" x2="75.0" y2="1377.0" stroke="#2e2e2e" stroke-width="0.8800000000000001"/>
<line x1="72.5" y1="1421.0" x2="75.0" y2="1421.0" stroke="#2e2e2e" stroke-width="0.8800000000000001"/>
<line x1="72.5" y1="1465.1" x2="75.0" y2="1465.1" stroke="#2e2e2e" stroke-width="0.8800000000000001"/>
<line x1="72.5" y1="1509.2" x2="75.0" y2="1509.2" stroke="#2e2e2e" stroke-width="0.8800000000000001"/>
<line x1="72.5" y1="1553.2" x2="75.0" y2="1553.2" stroke="#2e2e2e" stroke-width="0.8800000000000001"/>
<line x1="75.0" y1="1553.2" x2="75.0" y2="1556.6" stroke="#2e2e2e" stroke-width="1.1"/>
<text x="74.5" y="1572.0" font-size="13" text-anchor="middle">10<tspan font-size="9.5" dy="-5.4">0</tspan></text>
<line x1="91.4" y1="1553.2" x2="91.4" y2="1555.0" stroke="#2e2e2e" stroke-width="0.66"/>
<line x1="101.0" y1="1553.2" x2="101.0" y2="1555.0" stroke="#2e2e2e" stroke-width="0.66"/>
<line x1="107.9" y1="1553.2" x2="107.9" y2="1555.0" stroke="#2e2e2e" stroke-width="0.66"/>
<line x1="113.1" y1="1553.2" x2="113.1" y2="1555.0" stroke="#2e2e2e" stroke-width="0.66"/>
<line x1="117.5" y1="1553.2" x2="117.5" y2="1555.0" stroke="#2e2e2e" stroke-width="0.66"/>
<line x1="121.1" y1="1553.2" x2="121.1" y2="1555.0" stroke="#2e2e2e" stroke-width="0.66"/>
<line x1="124.3" y1="1553.2" x2="124.3" y2="1555.0" stroke="#2e2e2e" stroke-width="0.66"/>
<line x1="127.1" y1="1553.2" x2="127.1" y2="1555.0" stroke="#2e2e2e" stroke-width="0.66"/>
<line x1="129.6" y1="1553.2" x2="129.6" y2="1556.6" stroke="#2e2e2e" stroke-width="1.1"/>
<text x="129.1" y="1572.0" font-size="13" text-anchor="middle">10<tspan font-size="9.5" dy="-5.4">1</tspan></text>
<line x1="146.0" y1="1553.2" x2="146.0" y2="1555.0" stroke="#2e2e2e" stroke-width="0.66"/>
<line x1="155.6" y1="1553.2" x2="155.6" y2="1555.0" stroke="#2e2e2e" stroke-width="0.66"/>
<line x1="162.4" y1="1553.2" x2="162.4" y2="1555.0" stroke="#2e2e2e" stroke-width="0.66"/>
<line x1="167.7" y1="1553.2" x2="167.7" y2="1555.0" stroke="#2e2e2e" stroke-width="0.66"/>
<line x1="172.0" y1="1553.2" x2="172.0" y2="1555.0" stroke="#2e2e2e" stroke-width="0.66"/>
<line x1="175.7" y1="1553.2" x2="175.7" y2="1555.0" stroke="#2e2e2e" stroke-width="0.66"/>
<line x1="178.9" y1="1553.2" x2="178.9" y2="1555.0" stroke="#2e2e2e" stroke-width="0.66"/>
<line x1="181.7" y1="1553.2" x2="181.7" y2="1555.0" stroke="#2e2e2e" stroke-width="0.66"/>
<line x1="184.2" y1="1553.2" x2="184.2" y2="1556.6" stroke="#2e2e2e" stroke-width="1.1"/>
<text x="183.7" y="1572.0" font-size="13" text-anchor="middle">10<tspan font-size="9.5" dy="-5.4">2</tspan></text>
<line x1="200.6" y1="1553.2" x2="200.6" y2="1555.0" stroke="#2e2e2e" stroke-width="0.66"/>
<line x1="210.2" y1="1553.2" x2="210.2" y2="1555.0" stroke="#2e2e2e" stroke-width="0.66"/>
<line x1="217.0" y1="1553.2" x2="217.0" y2="1555.0" stroke="#2e2e2e" stroke-width="0.66"/>
<line x1="222.3" y1="1553.2" x2="222.3" y2="1555.0" stroke="#2e2e2e" stroke-width="0.66"/>
<line x1="226.6" y1="1553.2" x2="226.6" y2="1555.0" stroke="#2e2e2e" stroke-width="0.66"/>
<line x1="230.3" y1="1553.2" x2="230.3" y2="1555.0" stroke="#2e2e2e" stroke-width="0.66"/>
<line x1="233.4" y1="1553.2" x2="233.4" y2="1555.0" stroke="#2e2e2e" stroke-width="0.66"/>
<line x1="236.2" y1="1553.2" x2="236.2" y2="1555.0" stroke="#2e2e2e" stroke-width="0.66"/>
<line x1="238.7" y1="1553.2" x2="238.7" y2="1556.6" stroke="#2e2e2e" stroke-width="1.1"/>
<text x="238.2" y="1572.0" font-size="13" text-anchor="middle">10<tspan font-size="9.5" dy="-5.4">3</tspan></text>
<line x1="255.2" y1="1553.2" x2="255.2" y2="1555.0" stroke="#2e2e2e" stroke-width="0.66"/>
<line x1="264.8" y1="1553.2" x2="264.8" y2="1555.0" stroke="#2e2e2e" stroke-width="0.66"/>
<line x1="271.6" y1="1553.2" x2="271.6" y2="1555.0" stroke="#2e2e2e" stroke-width="0.66"/>
<line x1="276.9" y1="1553.2" x2="276.9" y2="1555.0" stroke="#2e2e2e" stroke-width="0.66"/>
<line x1="281.2" y1="1553.2" x2="281.2" y2="1555.0" stroke="#2e2e2e" stroke-width="0.66"/>
<line x1="284.8" y1="1553.2" x2="284.8" y2="1555.0" stroke="#2e2e2e" stroke-width="0.66"/>
<line x1="288.0" y1="1553.2" x2="288.0" y2="1555.0" stroke="#2e2e2e" stroke-width="0.66"/>
<line x1="290.8" y1="1553.2" x2="290.8" y2="1555.0" stroke="#2e2e2e" stroke-width="0.66"/>
<line x1="293.3" y1="1553.2" x2="293.3" y2="1556.6" stroke="#2e2e2e" stroke-width="1.1"/>
<text x="292.8" y="1572.0" font-size="13" text-anchor="middle">10<tspan font-size="9.5" dy="-5.4">4</tspan></text>
<text x="68.3" y="1381.3" font-size="13" text-anchor="end">256</text>
<text x="68.3" y="1559.0" font-size="13" text-anchor="end">0</text>
<text x="42.2" y="1465.4" font-size="13" text-anchor="middle" transform="rotate(-90 42.2 1465.4)">Events</text>
<line x1="131.0" y1="1400.3" x2="293.3" y2="1400.3" stroke="#3a3a3a" stroke-width="1.15"/>
<line x1="131.0" y1="1397.5" x2="131.0" y2="1403.1" stroke="#3a3a3a" stroke-width="1.15"/>
<line x1="293.3" y1="1397.5" x2="293.3" y2="1403.1" stroke="#3a3a3a" stroke-width="1.15"/>
<text x="203.5" y="1423.2" font-size="19" text-anchor="middle">22.15%</text>
<text x="263.0" y="1397.0" font-size="12.5">M1</text>
<text x="186.1" y="1378.6" font-size="19" text-anchor="middle">pcDNA</text>
<text x="183.6" y="1593.0" font-size="13" text-anchor="middle">FL2-H</text>
<path d="M362.3 1551.9 L362.9 1548.0 L363.5 1542.6 L364.1 1539.6 L364.7 1534.7 L365.3 1523.7 L365.9 1529.5 L366.5 1524.6 L367.1 1517.8 L367.7 1513.1 L368.3 1513.5 L368.9 1508.3 L369.5 1496.8 L370.1 1497.9 L370.7 1490.1 L371.3 1490.1 L371.9 1484.9 L372.5 1478.4 L373.1 1473.4 L373.7 1469.0 L374.3 1471.2 L374.9 1459.8 L375.5 1454.6 L376.1 1455.0 L376.7 1445.9 L377.3 1442.2 L377.9 1443.3 L378.5 1445.8 L379.1 1428.8 L379.7 1427.5 L380.3 1421.7 L380.9 1427.0 L381.5 1415.1 L382.1 1419.3 L382.7 1410.1 L383.3 1417.3 L383.9 1402.7 L384.5 1419.2 L385.1 1414.0 L385.7 1410.7 L386.3 1416.3 L386.9 1426.1 L387.5 1421.7 L388.1 1425.2 L388.7 1426.8 L389.3 1433.4 L389.9 1444.2 L390.5 1436.7 L391.1 1440.5 L391.7 1450.2 L392.3 1448.5 L392.9 1453.8 L393.5 1463.4 L394.1 1467.8 L394.7 1468.2 L395.3 1467.0 L395.9 1472.6 L396.5 1477.2 L397.1 1473.5 L397.7 1474.1 L398.3 1478.0 L398.9 1482.3 L399.5 1493.6 L400.1 1489.6 L400.7 1493.1 L401.3 1497.5 L401.9 1494.8 L402.5 1491.1 L403.1 1496.6 L403.7 1505.3 L404.3 1511.5 L404.9 1511.8 L405.5 1515.2 L406.1 1517.3 L406.7 1519.7 L407.3 1516.8 L407.9 1525.7 L408.5 1523.7 L409.1 1526.0 L409.7 1528.3 L410.3 1532.9 L410.9 1534.4 L411.5 1534.4 L412.1 1537.4 L412.7 1535.9 L413.3 1541.1 L413.9 1540.9 L414.5 1542.3 L415.1 1545.2 L415.7 1542.1 L416.3 1546.8 L416.9 1547.1 L417.5 1548.9 L418.1 1551.5 L418.7 1550.6 L419.3 1551.4 L419.9 1551.2 L420.5 1552.6 L421.1 1552.8 L421.7 1553.4 L422.3 1552.8 L422.9 1553.2 L423.5 1553.4 L424.1 1552.3 L424.7 1553.1 L425.3 1553.2 L425.9 1553.4 L426.5 1553.3 L427.1 1553.4 L427.7 1553.3 L428.3 1553.0 L428.9 1552.5 L429.5 1553.3 L430.1 1553.2 L430.7 1553.3 L431.3 1553.0 L431.9 1553.4 L432.5 1553.6 L433.1 1553.4 L433.7 1553.2 L433.7 1553.7 L362.3 1553.7 Z" fill="#c6c6c6" stroke="none"/>
<path d="M362.3 1551.9 L362.9 1548.0 L363.5 1542.6 L364.1 1539.6 L364.7 1534.7 L365.3 1523.7 L365.9 1529.5 L366.5 1524.6 L367.1 1517.8 L367.7 1513.1 L368.3 1513.5 L368.9 1508.3 L369.5 1496.8 L370.1 1497.9 L370.7 1490.1 L371.3 1490.1 L371.9 1484.9 L372.5 1478.4 L373.1 1473.4 L373.7 1469.0 L374.3 1471.2 L374.9 1459.8 L375.5 1454.6 L376.1 1455.0 L376.7 1445.9 L377.3 1442.2 L377.9 1443.3 L378.5 1445.8 L379.1 1428.8 L379.7 1427.5 L380.3 1421.7 L380.9 1427.0 L381.5 1415.1 L382.1 1419.3 L382.7 1410.1 L383.3 1417.3 L383.9 1402.7 L384.5 1419.2 L385.1 1414.0 L385.7 1410.7 L386.3 1416.3 L386.9 1426.1 L387.5 1421.7 L388.1 1425.2 L388.7 1426.8 L389.3 1433.4 L389.9 1444.2 L390.5 1436.7 L391.1 1440.5 L391.7 1450.2 L392.3 1448.5 L392.9 1453.8 L393.5 1463.4 L394.1 1467.8 L394.7 1468.2 L395.3 1467.0 L395.9 1472.6 L396.5 1477.2 L397.1 1473.5 L397.7 1474.1 L398.3 1478.0 L398.9 1482.3 L399.5 1493.6 L400.1 1489.6 L400.7 1493.1 L401.3 1497.5 L401.9 1494.8 L402.5 1491.1 L403.1 1496.6 L403.7 1505.3 L404.3 1511.5 L404.9 1511.8 L405.5 1515.2 L406.1 1517.3 L406.7 1519.7 L407.3 1516.8 L407.9 1525.7 L408.5 1523.7 L409.1 1526.0 L409.7 1528.3 L410.3 1532.9 L410.9 1534.4 L411.5 1534.4 L412.1 1537.4 L412.7 1535.9 L413.3 1541.1 L413.9 1540.9 L414.5 1542.3 L415.1 1545.2 L415.7 1542.1 L416.3 1546.8 L416.9 1547.1 L417.5 1548.9 L418.1 1551.5 L418.7 1550.6 L419.3 1551.4 L419.9 1551.2 L420.5 1552.6 L421.1 1552.8 L421.7 1553.4 L422.3 1552.8 L422.9 1553.2 L423.5 1553.4 L424.1 1552.3 L424.7 1553.1 L425.3 1553.2 L425.9 1553.4 L426.5 1553.3 L427.1 1553.4 L427.7 1553.3 L428.3 1553.0 L428.9 1552.5 L429.5 1553.3 L430.1 1553.2 L430.7 1553.3 L431.3 1553.0 L431.9 1553.4 L432.5 1553.6 L433.1 1553.4 L433.7 1553.2" fill="none" stroke="#4a4a4a" stroke-width="0.8" stroke-linejoin="round"/>
<path d="M381.0 1553.4 L381.4 1553.6 L381.8 1553.5 L382.3 1553.3 L382.7 1553.1 L383.1 1553.2 L383.5 1553.2 L383.9 1552.5 L384.4 1552.7 L384.8 1552.2 L385.2 1551.5 L385.6 1551.3 L386.0 1551.0 L386.5 1549.8 L386.9 1550.1 L387.3 1549.2 L387.7 1549.3 L388.1 1547.6 L388.6 1553.4 L389.0 1549.9 L389.4 1546.8 L389.8 1551.2 L390.2 1546.1 L390.7 1546.2 L391.1 1540.9 L391.5 1541.2 L391.9 1537.7 L392.3 1538.9 L392.8 1539.1 L393.2 1537.1 L393.6 1535.4 L394.0 1539.4 L394.4 1530.2 L394.9 1528.8 L395.3 1534.4 L395.7 1531.1 L396.1 1532.6 L396.5 1526.3 L397.0 1526.9 L397.4 1526.2 L397.8 1522.4 L398.2 1522.9 L398.6 1518.4 L399.1 1517.3 L399.5 1509.1 L399.9 1506.8 L400.3 1503.7 L400.7 1512.7 L401.2 1507.2 L401.6 1506.2 L402.0 1505.4 L402.4 1499.0 L402.8 1501.0 L403.3 1500.5 L403.7 1489.0 L404.1 1485.2 L404.5 1484.8 L404.9 1482.2 L405.4 1489.2 L405.8 1482.5 L406.2 1458.3 L406.6 1481.6 L407.0 1482.2 L407.5 1468.9 L407.9 1474.1 L408.3 1469.9 L408.7 1468.6 L409.1 1453.1 L409.6 1461.3 L410.0 1461.4 L410.4 1451.6 L410.8 1447.4 L411.2 1454.8 L411.7 1458.8 L412.1 1437.2 L412.5 1443.6 L412.9 1443.6 L413.3 1440.2 L413.8 1444.3 L414.2 1441.6 L414.6 1429.9 L415.0 1423.9 L415.4 1427.9 L415.9 1425.0 L416.3 1413.6 L416.7 1437.1 L417.1 1420.1 L417.5 1426.8 L418.0 1419.5 L418.4 1428.1 L418.8 1429.4 L419.2 1431.8 L419.6 1432.1 L420.1 1442.9 L420.5 1431.5 L420.9 1434.1 L421.3 1450.4 L421.7 1453.4 L422.2 1451.9 L422.6 1456.2 L423.0 1457.9 L423.4 1453.9 L423.8 1458.4 L424.3 1460.4 L424.7 1459.8 L425.1 1468.8 L425.5 1459.1 L425.9 1460.2 L426.4 1467.6 L426.8 1472.6 L427.2 1475.3 L427.6 1486.1 L428.0 1471.8 L428.5 1481.2 L428.9 1491.2 L429.3 1494.7 L429.7 1492.7 L430.1 1496.6 L430.6 1487.1 L431.0 1495.7 L431.4 1504.5 L431.8 1501.2 L432.2 1501.0 L432.7 1501.0 L433.1 1508.9 L433.5 1499.0 L433.9 1501.1 L434.3 1511.0 L434.8 1511.8 L435.2 1514.9 L435.6 1518.1 L436.0 1514.4 L436.4 1511.5 L436.9 1522.4 L437.3 1529.2 L437.7 1525.5 L438.1 1524.8 L438.5 1530.9 L439.0 1528.9 L439.4 1524.3 L439.8 1529.1 L440.2 1528.6 L440.6 1532.3 L441.1 1529.7 L441.5 1536.3 L441.9 1540.7 L442.3 1539.8 L442.7 1542.0 L443.2 1539.3 L443.6 1542.1 L444.0 1544.6 L444.4 1543.3 L444.8 1545.1 L445.3 1548.2 L445.7 1542.7 L446.1 1548.8 L446.5 1545.3 L446.9 1544.8 L447.4 1549.6 L447.8 1551.9 L448.2 1549.4 L448.6 1550.8 L449.0 1550.2 L449.5 1552.1 L449.9 1550.8 L450.3 1551.0 L450.7 1551.5 L451.1 1552.2 L451.6 1552.3 L452.0 1552.5 L452.4 1552.7 L452.8 1552.8 L453.2 1553.0 L453.7 1552.8 L454.1 1553.2 L454.5 1553.4 L454.9 1553.1 L455.3 1553.3 L455.8 1553.4 L456.2 1553.1 L456.6 1552.9 L457.0 1553.4 L457.4 1553.0 L457.9 1553.1 L458.3 1553.4 L458.7 1553.2 L459.1 1553.3 L459.5 1553.1 L460.0 1552.9 L460.4 1553.4 L460.8 1553.4 L461.2 1553.1 L461.6 1553.5 L462.1 1553.4 L462.5 1553.4 L462.9 1553.2 L463.3 1553.2 L463.7 1553.5 L464.2 1552.9 L464.6 1553.3 L465.0 1553.3 L465.4 1553.5 L465.8 1553.6 L466.3 1553.6 L466.7 1553.2" fill="none" stroke="#141414" stroke-width="1.9" stroke-linejoin="round"/>
<line x1="362.3" y1="1378.0" x2="362.3" y2="1553.7" stroke="#2e2e2e" stroke-width="1.1"/>
<line x1="362.3" y1="1553.7" x2="579.7" y2="1553.7" stroke="#2e2e2e" stroke-width="1.1"/>
<line x1="362.7" y1="1464.0" x2="362.7" y2="1553.7" stroke="#222" stroke-width="1.8"/>
<line x1="359.8" y1="1378.0" x2="362.3" y2="1378.0" stroke="#2e2e2e" stroke-width="0.8800000000000001"/>
<line x1="359.8" y1="1421.9" x2="362.3" y2="1421.9" stroke="#2e2e2e" stroke-width="0.8800000000000001"/>
<line x1="359.8" y1="1465.8" x2="362.3" y2="1465.8" stroke="#2e2e2e" stroke-width="0.8800000000000001"/>
<line x1="359.8" y1="1509.8" x2="362.3" y2="1509.8" stroke="#2e2e2e" stroke-width="0.8800000000000001"/>
<line x1="359.8" y1="1553.7" x2="362.3" y2="1553.7" stroke="#2e2e2e" stroke-width="0.8800000000000001"/>
<line x1="362.3" y1="1553.7" x2="362.3" y2="1557.1" stroke="#2e2e2e" stroke-width="1.1"/>
<text x="362.0" y="1572.0" font-size="13" text-anchor="middle">10<tspan font-size="9.5" dy="-5.4">0</tspan></text>
<line x1="378.7" y1="1553.7" x2="378.7" y2="1555.5" stroke="#2e2e2e" stroke-width="0.66"/>
<line x1="388.2" y1="1553.7" x2="388.2" y2="1555.5" stroke="#2e2e2e" stroke-width="0.66"/>
<line x1="395.0" y1="1553.7" x2="395.0" y2="1555.5" stroke="#2e2e2e" stroke-width="0.66"/>
<line x1="400.3" y1="1553.7" x2="400.3" y2="1555.5" stroke="#2e2e2e" stroke-width="0.66"/>
<line x1="404.6" y1="1553.7" x2="404.6" y2="1555.5" stroke="#2e2e2e" stroke-width="0.66"/>
<line x1="408.2" y1="1553.7" x2="408.2" y2="1555.5" stroke="#2e2e2e" stroke-width="0.66"/>
<line x1="411.4" y1="1553.7" x2="411.4" y2="1555.5" stroke="#2e2e2e" stroke-width="0.66"/>
<line x1="414.2" y1="1553.7" x2="414.2" y2="1555.5" stroke="#2e2e2e" stroke-width="0.66"/>
<line x1="416.7" y1="1553.7" x2="416.7" y2="1557.1" stroke="#2e2e2e" stroke-width="1.1"/>
<text x="416.4" y="1572.0" font-size="13" text-anchor="middle">10<tspan font-size="9.5" dy="-5.4">1</tspan></text>
<line x1="433.0" y1="1553.7" x2="433.0" y2="1555.5" stroke="#2e2e2e" stroke-width="0.66"/>
<line x1="442.6" y1="1553.7" x2="442.6" y2="1555.5" stroke="#2e2e2e" stroke-width="0.66"/>
<line x1="449.4" y1="1553.7" x2="449.4" y2="1555.5" stroke="#2e2e2e" stroke-width="0.66"/>
<line x1="454.6" y1="1553.7" x2="454.6" y2="1555.5" stroke="#2e2e2e" stroke-width="0.66"/>
<line x1="458.9" y1="1553.7" x2="458.9" y2="1555.5" stroke="#2e2e2e" stroke-width="0.66"/>
<line x1="462.6" y1="1553.7" x2="462.6" y2="1555.5" stroke="#2e2e2e" stroke-width="0.66"/>
<line x1="465.7" y1="1553.7" x2="465.7" y2="1555.5" stroke="#2e2e2e" stroke-width="0.66"/>
<line x1="468.5" y1="1553.7" x2="468.5" y2="1555.5" stroke="#2e2e2e" stroke-width="0.66"/>
<line x1="471.0" y1="1553.7" x2="471.0" y2="1557.1" stroke="#2e2e2e" stroke-width="1.1"/>
<text x="470.7" y="1572.0" font-size="13" text-anchor="middle">10<tspan font-size="9.5" dy="-5.4">2</tspan></text>
<line x1="487.4" y1="1553.7" x2="487.4" y2="1555.5" stroke="#2e2e2e" stroke-width="0.66"/>
<line x1="496.9" y1="1553.7" x2="496.9" y2="1555.5" stroke="#2e2e2e" stroke-width="0.66"/>
<line x1="503.7" y1="1553.7" x2="503.7" y2="1555.5" stroke="#2e2e2e" stroke-width="0.66"/>
<line x1="509.0" y1="1553.7" x2="509.0" y2="1555.5" stroke="#2e2e2e" stroke-width="0.66"/>
<line x1="513.3" y1="1553.7" x2="513.3" y2="1555.5" stroke="#2e2e2e" stroke-width="0.66"/>
<line x1="516.9" y1="1553.7" x2="516.9" y2="1555.5" stroke="#2e2e2e" stroke-width="0.66"/>
<line x1="520.1" y1="1553.7" x2="520.1" y2="1555.5" stroke="#2e2e2e" stroke-width="0.66"/>
<line x1="522.9" y1="1553.7" x2="522.9" y2="1555.5" stroke="#2e2e2e" stroke-width="0.66"/>
<line x1="525.4" y1="1553.7" x2="525.4" y2="1557.1" stroke="#2e2e2e" stroke-width="1.1"/>
<text x="525.1" y="1572.0" font-size="13" text-anchor="middle">10<tspan font-size="9.5" dy="-5.4">3</tspan></text>
<line x1="541.7" y1="1553.7" x2="541.7" y2="1555.5" stroke="#2e2e2e" stroke-width="0.66"/>
<line x1="551.3" y1="1553.7" x2="551.3" y2="1555.5" stroke="#2e2e2e" stroke-width="0.66"/>
<line x1="558.1" y1="1553.7" x2="558.1" y2="1555.5" stroke="#2e2e2e" stroke-width="0.66"/>
<line x1="563.3" y1="1553.7" x2="563.3" y2="1555.5" stroke="#2e2e2e" stroke-width="0.66"/>
<line x1="567.6" y1="1553.7" x2="567.6" y2="1555.5" stroke="#2e2e2e" stroke-width="0.66"/>
<line x1="571.3" y1="1553.7" x2="571.3" y2="1555.5" stroke="#2e2e2e" stroke-width="0.66"/>
<line x1="574.4" y1="1553.7" x2="574.4" y2="1555.5" stroke="#2e2e2e" stroke-width="0.66"/>
<line x1="577.2" y1="1553.7" x2="577.2" y2="1555.5" stroke="#2e2e2e" stroke-width="0.66"/>
<line x1="579.7" y1="1553.7" x2="579.7" y2="1557.1" stroke="#2e2e2e" stroke-width="1.1"/>
<text x="579.4" y="1572.0" font-size="13" text-anchor="middle">10<tspan font-size="9.5" dy="-5.4">4</tspan></text>
<text x="356.6" y="1383.0" font-size="13" text-anchor="end">256</text>
<text x="356.6" y="1559.5" font-size="13" text-anchor="end">0</text>
<text x="330.0" y="1467.9" font-size="13" text-anchor="middle" transform="rotate(-90 330.0 1467.9)">Events</text>
<line x1="417.9" y1="1401.5" x2="579.7" y2="1401.5" stroke="#3a3a3a" stroke-width="1.15"/>
<line x1="417.9" y1="1398.7" x2="417.9" y2="1404.3" stroke="#3a3a3a" stroke-width="1.15"/>
<line x1="579.7" y1="1398.7" x2="579.7" y2="1404.3" stroke="#3a3a3a" stroke-width="1.15"/>
<text x="482.4" y="1423.2" font-size="19" text-anchor="middle">38.1%</text>
<text x="554.8" y="1397.0" font-size="12.5">M1</text>
<text x="477.4" y="1378.6" font-size="19" text-anchor="middle">pcDNA-<tspan font-style="italic">SALL4</tspan></text>
<text x="470.5" y="1593.0" font-size="13" text-anchor="middle">FL2-H</text>
<rect x="67.0" y="1603.2" width="34.9" height="3.4" fill="#231f20"/>
<path d="M101.4 1598.8 L113.1 1604.9 L101.4 1611.0 Z" fill="#231f20"/>
<text x="120.2" y="1611.3" font-size="19.1">PD-L1 on HBV<tspan font-size="12.5" dy="-7.2" dx="-0.8">+</tspan><tspan dy="7.2" dx="-0.5">HepaRG</tspan></text>
</svg>
</body>
</html>
